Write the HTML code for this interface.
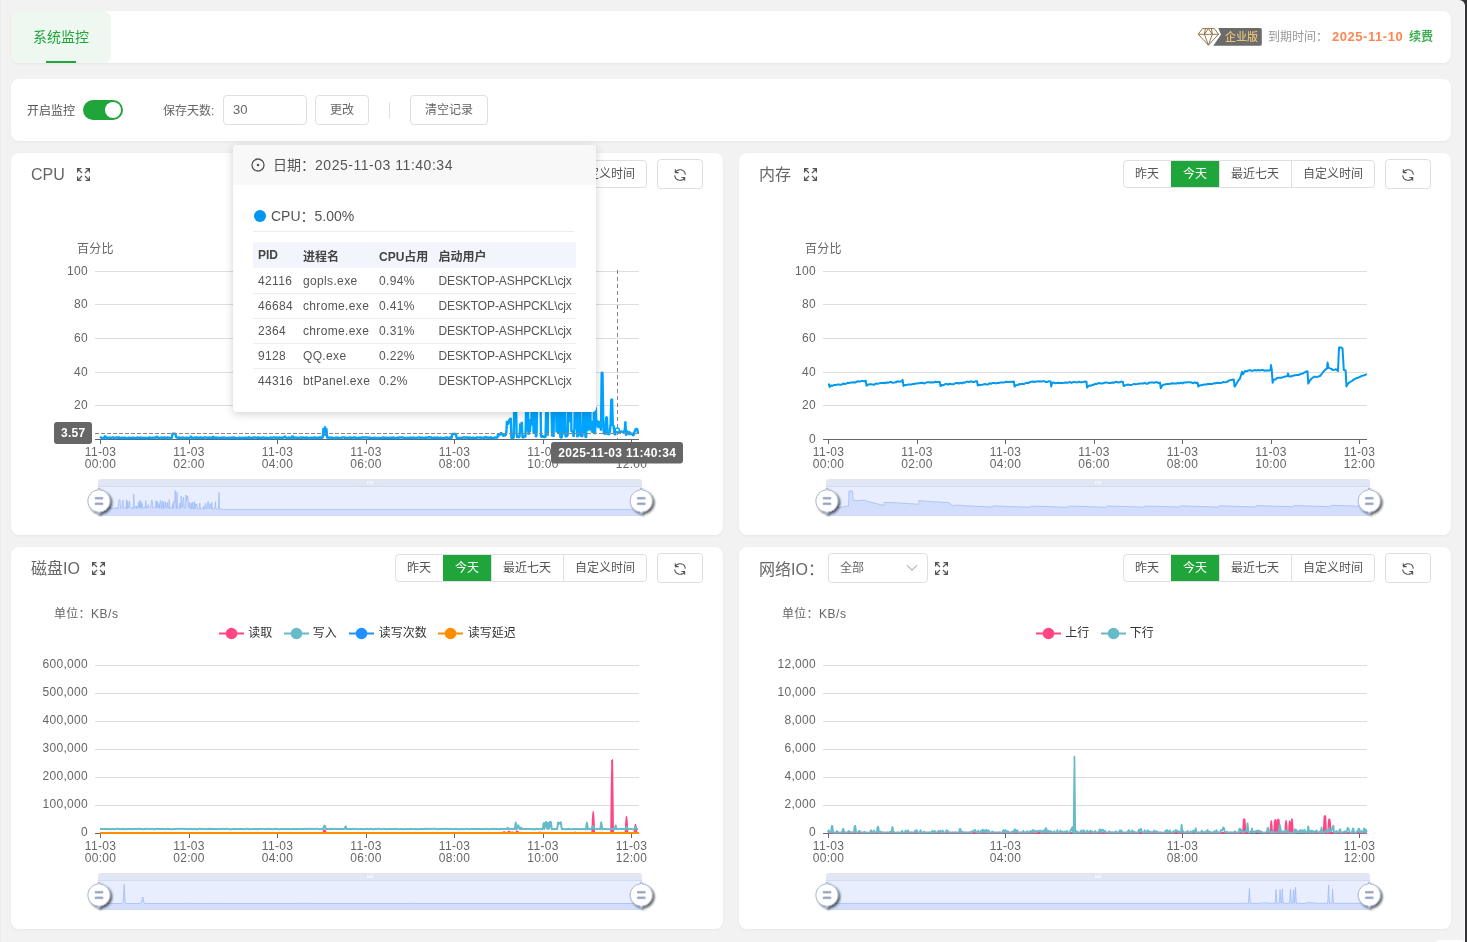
<!DOCTYPE html>
<html lang="zh-CN">
<head>
<meta charset="utf-8">
<title>系统监控</title>
<style>
*{box-sizing:border-box;}
html,body{margin:0;padding:0;}
body{width:1467px;height:942px;overflow:hidden;background:#323337;font-family:"Liberation Sans","Noto Sans CJK SC",sans-serif;font-size:12px;color:#666;position:relative;}
#page{position:absolute;left:0;top:0;width:1465px;height:942px;background:#f2f2f2;border-right:1px solid #fbfbfb;border-top-right-radius:6px;overflow:hidden;}
#ledge{position:absolute;left:0;top:0;width:1px;height:942px;background:#ececec;}
.card{position:absolute;background:#fff;border-radius:8px;box-shadow:0 1px 3px rgba(0,0,0,.05);}
.abs{position:absolute;white-space:nowrap;}
#tab{position:absolute;left:0;top:0;width:100px;height:52px;background:#eef8f0;border-radius:8px;color:#20a53a;font-size:14px;line-height:52px;text-align:center;}
#tab i{position:absolute;left:35px;bottom:0;width:30px;height:2px;background:#20a53a;}
.btn{position:absolute;height:30px;border:1px solid #dcdfe6;border-radius:4px;background:#fff;color:#666;font-size:12px;line-height:29px;text-align:center;}
.grp{position:absolute;height:28px;border:1px solid #dcdfe6;border-radius:4px;background:#fff;overflow:hidden;}
.grp span{position:absolute;top:0;height:26px;line-height:27px;text-align:center;font-size:12px;color:#555;border-left:1px solid #dcdfe6;}
.grp span:first-child{border-left:none;}
.grp span.on{background:#20a53a;color:#fff;border-left-color:#20a53a;top:-1px;height:28px;line-height:29px;}
.title{position:absolute;font-size:16px;color:#666;line-height:20px;white-space:nowrap;}
svg{position:absolute;left:0;top:0;overflow:visible;}
svg text{font-family:"Liberation Sans","Noto Sans CJK SC",sans-serif;font-size:12px;fill:#666;letter-spacing:0.3px;}
#tip{position:absolute;left:233px;top:145px;width:363px;height:267px;background:#fff;border-radius:4px;box-shadow:0 2px 10px rgba(0,0,0,.18);overflow:hidden;color:#555;}
#tip .hd{position:absolute;left:0;top:0;width:100%;height:40px;background:#f8f8f8;}
#tip table{position:absolute;left:20px;top:97px;width:323px;border-collapse:collapse;font-size:12px;color:#555;table-layout:fixed;}
#tip th{background:#f2f5fc;height:26px;font-weight:bold;text-align:left;padding:0 0 0 5px;color:#444;white-space:nowrap;}
#tip td{white-space:nowrap;height:25px;border-bottom:1px solid #ebeef5;padding:0 0 0 5px;}
#tip tr:last-child td{border-bottom:none;}
#tip tr:nth-child(2) td{padding-top:2px;}
#tip td{letter-spacing:0.35px;}
</style>
</head>
<body>
<div id="page">
<div id="ledge"></div>
<div class="card" style="left:11px;top:11px;width:1440px;height:52px;"><div id="tab">系统监控<i></i></div></div>
<svg width="70" height="22" style="left:1196px;top:26px" viewBox="1196 26 70 22"><path d="M1218.2 28H1260.3Q1261.8 28 1261.8 29.5V44.2Q1261.8 45.7 1260.3 45.7H1213.3L1221 34.6Z" fill="#6b6b69"/><g fill="none" stroke="#8c6f45" stroke-width="0.95" stroke-linejoin="round"><path d="M1202.4 28.6H1214.4L1218.5 34.3L1208.4 45.2L1198.3 34.3Z"/><path d="M1198.3 34.3H1218.5M1205.4 28.6L1204.4 34.3L1208.4 45.2L1212.4 34.3L1211.4 28.6M1204.4 34.3L1208.4 28.6L1212.4 34.3"/></g><text x="1241.4" y="41" text-anchor="middle" style="font-size:11px;font-weight:500;letter-spacing:0;fill:#e6c17d;">企业版</text></svg>
<div class="abs" style="left:1268px;top:29px;line-height:16px;color:#999;font-size:12px;">到期时间：</div>
<div class="abs" id="expd" style="left:1332px;top:29px;line-height:16px;color:#ff8650;font-size:13px;font-weight:bold;letter-spacing:0.55px;">2025-11-10</div>
<div class="abs" style="left:1409px;top:29px;line-height:16px;color:#3eb052;font-size:12px;font-weight:bold;">续费</div>
<div class="card" style="left:11px;top:79px;width:1440px;height:62px;"></div>
<div class="abs" style="left:27px;top:103px;line-height:16px;color:#555;">开启监控</div>
<div style="position:absolute;left:83px;top:100px;width:40px;height:20px;border-radius:10px;background:#20a53a;"><div style="position:absolute;right:2px;top:2px;width:16px;height:16px;border-radius:8px;background:#fff;"></div></div>
<div class="abs" style="left:163px;top:103px;line-height:16px;color:#666;">保存天数:</div>
<div class="btn" style="left:223px;top:95px;width:84px;text-align:left;padding-left:9px;color:#666;font-size:13px;line-height:28px;">30</div>
<div class="btn" style="left:315px;top:95px;width:54px;">更改</div>
<div style="position:absolute;left:389px;top:102px;width:1px;height:16px;background:#dcdfe6;"></div>
<div class="btn" style="left:410px;top:95px;width:78px;">清空记录</div>
<div class="card" style="left:11px;top:153px;width:712px;height:382px;"></div>
<div class="grp" style="left:395px;top:160px;width:252px;"><span style="left:-1px;width:48px;">昨天</span><span class="on" style="left:47px;width:49px;padding-right:2px;">今天</span><span style="left:95px;width:71px;">最近七天</span><span style="left:167px;width:83px;">自定义时间</span></div>
<div class="btn" style="left:657px;top:159px;width:46px;"></div><svg width="16" height="16" style="left:672px;top:167px" viewBox="-8 -8 16 16" fill="none" stroke="#555" stroke-width="1.05"><path d="M-4.7 -2.4A5.3 5.3 0 0 1 5.3 -0.4M-4.7 -5.8V-2.4H-1.4"/><path d="M4.7 2.4A5.3 5.3 0 0 1 -5.3 0.4M4.7 5.8V2.4H1.4"/></svg>
<div class="card" style="left:739px;top:153px;width:712px;height:382px;"></div>
<div class="grp" style="left:1123px;top:160px;width:252px;"><span style="left:-1px;width:48px;">昨天</span><span class="on" style="left:47px;width:49px;padding-right:2px;">今天</span><span style="left:95px;width:71px;">最近七天</span><span style="left:167px;width:83px;">自定义时间</span></div>
<div class="btn" style="left:1385px;top:159px;width:46px;"></div><svg width="16" height="16" style="left:1400px;top:167px" viewBox="-8 -8 16 16" fill="none" stroke="#555" stroke-width="1.05"><path d="M-4.7 -2.4A5.3 5.3 0 0 1 5.3 -0.4M-4.7 -5.8V-2.4H-1.4"/><path d="M4.7 2.4A5.3 5.3 0 0 1 -5.3 0.4M4.7 5.8V2.4H1.4"/></svg>
<div class="card" style="left:11px;top:547px;width:712px;height:382px;"></div>
<div class="grp" style="left:395px;top:554px;width:252px;"><span style="left:-1px;width:48px;">昨天</span><span class="on" style="left:47px;width:49px;padding-right:2px;">今天</span><span style="left:95px;width:71px;">最近七天</span><span style="left:167px;width:83px;">自定义时间</span></div>
<div class="btn" style="left:657px;top:553px;width:46px;"></div><svg width="16" height="16" style="left:672px;top:561px" viewBox="-8 -8 16 16" fill="none" stroke="#555" stroke-width="1.05"><path d="M-4.7 -2.4A5.3 5.3 0 0 1 5.3 -0.4M-4.7 -5.8V-2.4H-1.4"/><path d="M4.7 2.4A5.3 5.3 0 0 1 -5.3 0.4M4.7 5.8V2.4H1.4"/></svg>
<div class="card" style="left:739px;top:547px;width:712px;height:382px;"></div>
<div class="grp" style="left:1123px;top:554px;width:252px;"><span style="left:-1px;width:48px;">昨天</span><span class="on" style="left:47px;width:49px;padding-right:2px;">今天</span><span style="left:95px;width:71px;">最近七天</span><span style="left:167px;width:83px;">自定义时间</span></div>
<div class="btn" style="left:1385px;top:553px;width:46px;"></div><svg width="16" height="16" style="left:1400px;top:561px" viewBox="-8 -8 16 16" fill="none" stroke="#555" stroke-width="1.05"><path d="M-4.7 -2.4A5.3 5.3 0 0 1 5.3 -0.4M-4.7 -5.8V-2.4H-1.4"/><path d="M4.7 2.4A5.3 5.3 0 0 1 -5.3 0.4M4.7 5.8V2.4H1.4"/></svg>
<div class="title" style="left:31px;top:165px;">CPU</div>
<svg width="13" height="13" style="left:77px;top:167.5px" viewBox="0 0 13 13" fill="none" stroke="#555" stroke-width="1.2"><path d="M0.6 4.4V0.6H4.4M0.8 0.8L5 5"/><path d="M8.6 0.6H12.4V4.4M12.2 0.8L8 5"/><path d="M0.6 8.6V12.4H4.4M0.8 12.2L5 8"/><path d="M12.4 8.6V12.4H8.6M12.2 12.2L8 8"/></svg>
<div class="title" style="left:759px;top:165px;">内存</div>
<svg width="13" height="13" style="left:804px;top:167.5px" viewBox="0 0 13 13" fill="none" stroke="#555" stroke-width="1.2"><path d="M0.6 4.4V0.6H4.4M0.8 0.8L5 5"/><path d="M8.6 0.6H12.4V4.4M12.2 0.8L8 5"/><path d="M0.6 8.6V12.4H4.4M0.8 12.2L5 8"/><path d="M12.4 8.6V12.4H8.6M12.2 12.2L8 8"/></svg>
<div class="title" style="left:31px;top:559px;">磁盘IO</div>
<svg width="13" height="13" style="left:91.7px;top:561.5px" viewBox="0 0 13 13" fill="none" stroke="#555" stroke-width="1.2"><path d="M0.6 4.4V0.6H4.4M0.8 0.8L5 5"/><path d="M8.6 0.6H12.4V4.4M12.2 0.8L8 5"/><path d="M0.6 8.6V12.4H4.4M0.8 12.2L5 8"/><path d="M12.4 8.6V12.4H8.6M12.2 12.2L8 8"/></svg>
<div class="title" style="left:759px;top:560px;">网络IO：</div>
<div class="btn" style="left:828px;top:553px;width:100px;text-align:left;padding-left:11px;line-height:29px;color:#666;">全部</div>
<svg width="12" height="8" style="left:906px;top:564px" viewBox="0 0 12 8" fill="none" stroke="#b0b3ba" stroke-width="1.1"><path d="M1 1.2L6 6.2L11 1.2"/></svg>
<svg width="13" height="13" style="left:935px;top:561.5px" viewBox="0 0 13 13" fill="none" stroke="#555" stroke-width="1.2"><path d="M0.6 4.4V0.6H4.4M0.8 0.8L5 5"/><path d="M8.6 0.6H12.4V4.4M12.2 0.8L8 5"/><path d="M0.6 8.6V12.4H4.4M0.8 12.2L5 8"/><path d="M12.4 8.6V12.4H8.6M12.2 12.2L8 8"/></svg>
<svg width="1465" height="942" viewBox="0 0 1465 942">
<defs><filter id="hs" x="-50%" y="-50%" width="200%" height="200%"><feDropShadow dx="1.6" dy="1.6" stdDeviation="1.1" flood-color="#000" flood-opacity="0.6"/></filter><linearGradient id="cpug" x1="0" y1="0" x2="0" y2="1"><stop offset="0" stop-color="#00a4ff" stop-opacity="0.9"/><stop offset="1" stop-color="#00a4ff" stop-opacity="0.9"/></linearGradient><clipPath id="cd"><rect x="95" y="600" width="546" height="233.8"/></clipPath><clipPath id="cn"><rect x="823" y="600" width="546" height="233.8"/></clipPath></defs>
<text x="88" y="442.7" text-anchor="end">0</text>
<path d="M95 405.5H639" stroke="#dedede" stroke-width="1"/>
<text x="88" y="408.7" text-anchor="end">20</text>
<path d="M95 372.5H639" stroke="#dedede" stroke-width="1"/>
<text x="88" y="375.7" text-anchor="end">40</text>
<path d="M95 338.5H639" stroke="#dedede" stroke-width="1"/>
<text x="88" y="341.7" text-anchor="end">60</text>
<path d="M95 304.5H639" stroke="#dedede" stroke-width="1"/>
<text x="88" y="307.7" text-anchor="end">80</text>
<path d="M95 271.5H639" stroke="#dedede" stroke-width="1"/>
<text x="88" y="274.7" text-anchor="end">100</text>
<path d="M95 439.5H639" stroke="#666" stroke-width="1"/>
<path d="M100.5 439.5V444" stroke="#666" stroke-width="1"/>
<text x="100.5" y="456" text-anchor="middle">11-03</text>
<text x="100.5" y="468" text-anchor="middle">00:00</text>
<path d="M189.5 439.5V444" stroke="#666" stroke-width="1"/>
<text x="189" y="456" text-anchor="middle">11-03</text>
<text x="189" y="468" text-anchor="middle">02:00</text>
<path d="M277.5 439.5V444" stroke="#666" stroke-width="1"/>
<text x="277.5" y="456" text-anchor="middle">11-03</text>
<text x="277.5" y="468" text-anchor="middle">04:00</text>
<path d="M366.5 439.5V444" stroke="#666" stroke-width="1"/>
<text x="366" y="456" text-anchor="middle">11-03</text>
<text x="366" y="468" text-anchor="middle">06:00</text>
<path d="M454.5 439.5V444" stroke="#666" stroke-width="1"/>
<text x="454.5" y="456" text-anchor="middle">11-03</text>
<text x="454.5" y="468" text-anchor="middle">08:00</text>
<path d="M543.5 439.5V444" stroke="#666" stroke-width="1"/>
<text x="543" y="456" text-anchor="middle">11-03</text>
<text x="543" y="468" text-anchor="middle">10:00</text>
<path d="M631.5 439.5V444" stroke="#666" stroke-width="1"/>
<text x="631.5" y="456" text-anchor="middle">11-03</text>
<text x="631.5" y="468" text-anchor="middle">12:00</text>
<text x="77" y="252.5">百分比</text>
<polyline points="100,437.8 100.7,437.4 101.5,437.8 102.2,438.1 103,437.7 103.7,438.2 104.4,438.2 105.2,435.6 105.9,437.4 106.7,437.7 107.4,438.2 108.1,438.2 108.9,437.1 109.6,437.8 110.4,437.8 111.1,437.8 111.8,437.8 112.6,437.3 113.3,437.5 114.1,438 114.8,438 115.5,437.5 116.3,437.5 117,437.4 117.8,438.2 118.5,437.4 119.2,437.3 120,438.2 120.7,437.5 121.5,438.2 122.2,437.4 122.9,438.1 123.7,438.2 124.4,437.5 125.2,437.7 125.9,438.1 126.6,438.1 127.4,438.1 128.1,438 128.9,437.3 129.6,438 130.3,438 131.1,437.5 131.8,438.2 132.6,438 133.3,437.5 134,438 134.8,438.2 135.5,438 136.3,437.9 137,437.4 137.7,437.7 138.5,438.1 139.2,437.4 140,438 140.7,437.6 141.4,438.1 142.2,437.4 142.9,437.9 143.7,438.2 144.4,438 145.1,438 145.9,437.7 146.6,438.1 147.4,438.2 148.1,437.7 148.8,437.7 149.6,437.4 150.3,438.2 151.1,437.8 151.8,438.1 152.5,437.7 153.3,437.9 154,437.3 154.8,437.6 155.5,438.1 156.2,437.4 157,436.1 157.7,437.8 158.5,437.9 159.2,438.2 159.9,437.6 160.7,437.6 161.4,437.5 162.2,437.9 162.9,437.4 163.6,437.9 164.4,437.4 165.1,437.7 165.9,437.7 166.6,438.2 167.3,437.3 168.1,437.6 168.8,437.6 169.6,437.8 170.3,438.2 171,438.2 171.8,437.8 172.5,433.6 173.3,433.6 174,433.6 174.7,433.6 175.5,433.6 176.2,437.6 177,437.4 177.7,437.6 178.4,437.8 179.2,437.4 179.9,437.9 180.7,438 181.4,437.8 182.1,437.5 182.9,437.4 183.6,438.1 184.4,438 185.1,437.9 185.8,437.8 186.6,437.5 187.3,437.8 188.1,438.2 188.8,438.2 189.5,437.7 190.3,437.2 191,436.2 191.8,438 192.5,438.2 193.2,437.8 194,437.6 194.7,437.4 195.5,438.1 196.2,437.1 196.9,437.6 197.7,438 198.4,437.6 199.2,437.7 199.9,437.9 200.6,437.4 201.4,437.4 202.1,438.1 202.9,437.7 203.6,437.9 204.3,437.4 205.1,437.4 205.8,437.6 206.6,437.6 207.3,437.7 208,438 208.8,437.3 209.5,437.7 210.3,437.9 211,437.5 211.7,438.2 212.5,437.7 213.2,436.2 214,438.2 214.7,438.1 215.4,437.5 216.2,438.1 216.9,437.6 217.7,437.6 218.4,437.8 219.1,438.2 219.9,437.8 220.6,437.6 221.4,437.8 222.1,437.7 222.8,437.9 223.6,437.4 224.3,437.5 225.1,437.8 225.8,438.1 226.5,437.8 227.3,438.2 228,437.8 228.8,437.5 229.5,437.8 230.2,438.2 231,437.9 231.7,437.4 232.5,437.8 233.2,437.8 233.9,437.4 234.7,438 235.4,437.7 236.2,438.1 236.9,438.2 237.6,438 238.4,437.9 239.1,437.7 239.9,437.6 240.6,437.8 241.3,438.1 242.1,437.8 242.8,437.9 243.6,438.1 244.3,437.7 245,437.8 245.8,437.7 246.5,438 247.3,437.5 248,438 248.7,437.4 249.5,437.3 250.2,438.1 251,437.6 251.7,438.2 252.4,437.9 253.2,438.1 253.9,437.2 254.7,437.6 255.4,437.3 256.1,437.8 256.9,437.8 257.6,438.1 258.4,437 259.1,437.8 259.8,438.1 260.6,438.1 261.3,437.3 262.1,438.2 262.8,437.4 263.5,437.5 264.3,437.8 265,437.8 265.8,438.2 266.5,437.5 267.2,437.8 268,437.9 268.7,438.1 269.5,438.2 270.2,437.5 270.9,437.4 271.7,437.9 272.4,437.8 273.2,437.5 273.9,437.4 274.6,437.5 275.4,437.9 276.1,437.4 276.9,437.5 277.6,437.9 278.3,438.2 279.1,437.1 279.8,437.7 280.6,438 281.3,437.6 282,437.6 282.8,437.8 283.5,437.3 284.3,437.6 285,436.1 285.7,437.6 286.5,437.9 287.2,438.1 288,438.2 288.7,437.4 289.4,437.8 290.2,437.7 290.9,437.7 291.7,438.2 292.4,435.7 293.1,438.1 293.9,438.1 294.6,437.7 295.4,437.4 296.1,437.8 296.8,437.9 297.6,437.6 298.3,438 299.1,437.5 299.8,438.2 300.5,437.5 301.3,437.4 302,438.2 302.8,437.4 303.5,437.4 304.2,437.8 305,438 305.7,437.4 306.5,437.8 307.2,437.5 307.9,438.1 308.7,437.8 309.4,438.2 310.2,438.1 310.9,437.6 311.6,438 312.4,437.9 313.1,437.8 313.9,437.4 314.6,438 315.3,437.4 316.1,437.7 316.8,438 317.6,437.7 318.3,437.7 319,438.1 319.8,437.3 320.5,437.3 321.3,438 322,437.7 322.7,437.7 323.5,428 324.2,435.6 325,426.4 325.7,436 326.4,428.4 327.2,438.2 327.9,437.5 328.7,437.5 329.4,437.9 330.1,437.5 330.9,437.6 331.6,437.9 332.4,437.6 333.1,437.8 333.8,438.2 334.6,438.2 335.3,437.7 336.1,437.6 336.8,437.5 337.5,438 338.3,438.2 339,437.6 339.8,438 340.5,437.9 341.2,437.9 342,437.6 342.7,437.4 343.5,437.4 344.2,437.5 344.9,438 345.7,437.4 346.4,438 347.2,437.9 347.9,437.9 348.6,438.1 349.4,437.5 350.1,437.5 350.9,438.1 351.6,437.4 352.3,438.2 353.1,437.7 353.8,437.4 354.6,437.5 355.3,437.7 356,438.2 356.8,437.6 357.5,438.2 358.3,438.1 359,437.6 359.7,438 360.5,437.8 361.2,437.9 362,437.3 362.7,437.8 363.4,437.6 364.2,437.4 364.9,437.5 365.7,437.5 366.4,437.5 367.1,437.4 367.9,437.8 368.6,437.5 369.4,437.9 370.1,437.6 370.8,437.9 371.6,438.1 372.3,438 373.1,438.2 373.8,438.1 374.5,437.5 375.3,438.2 376,437.7 376.8,438.2 377.5,438.1 378.2,438 379,437.7 379.7,438.1 380.5,438.1 381.2,438 381.9,437.5 382.7,438 383.4,437.4 384.2,437.7 384.9,437.8 385.6,438.2 386.4,437.5 387.1,437.8 387.9,438 388.6,437.6 389.3,438.2 390.1,437.9 390.8,437.6 391.6,438.1 392.3,437.9 393,437.4 393.8,437.7 394.5,438 395.3,438.1 396,438.2 396.7,437.5 397.5,438.2 398.2,437.6 399,437.8 399.7,437.4 400.4,437.5 401.2,437.5 401.9,437.4 402.7,437.5 403.4,437.7 404.1,438.1 404.9,438 405.6,438.2 406.4,437.8 407.1,437.9 407.8,438.1 408.6,437.8 409.3,437.5 410.1,438.2 410.8,437.6 411.5,437.7 412.3,438.2 413,437.5 413.8,437.7 414.5,437.9 415.2,438 416,437.9 416.7,438 417.5,437.6 418.2,437.4 418.9,437.6 419.7,437.5 420.4,438.1 421.2,437.6 421.9,438.1 422.6,437.5 423.4,438.2 424.1,438.1 424.9,437.9 425.6,437.4 426.3,437.8 427.1,437.5 427.8,437.9 428.6,437.1 429.3,437.6 430,437.5 430.8,437 431.5,437.9 432.3,438.1 433,437.8 433.7,437.5 434.5,438.1 435.2,437.4 436,437.9 436.7,438.1 437.4,437.3 438.2,437.6 438.9,438.1 439.7,437.7 440.4,438.2 441.1,437.7 441.9,437.9 442.6,437.9 443.4,438.1 444.1,438.1 444.8,437.7 445.6,437.7 446.3,437.4 447.1,437.5 447.8,438.1 448.5,438 449.3,438 450,437.5 450.8,437.7 451.5,438.2 452.2,434 453,434 453.7,434 454.5,434 455.2,434 455.9,434 456.7,437.9 457.4,438.1 458.2,438 458.9,437.9 459.6,438.2 460.4,438.1 461.1,437.7 461.9,437.9 462.6,437.6 463.3,437.5 464.1,437.3 464.8,437.5 465.6,437.8 466.3,437.4 467,437.8 467.8,437.4 468.5,438.2 469.3,437.4 470,437.7 470.7,438 471.5,438.2 472.2,437.8 473,437.9 473.7,437.6 474.4,438 475.2,437.9 475.9,438.2 476.7,437.4 477.4,437.4 478.1,437.5 478.9,437.6 479.6,437.4 480.4,437.5 481.1,437.7 481.8,438.2 482.6,438 483.3,438.2 484.1,437.5 484.8,437.9 485.5,436.4 486.3,438 487,437.4 487.8,437.8 488.5,438 489.2,437.4 490,437.5 490.7,437.8 491.5,437.4 492.2,438.1 492.9,438.1 493.7,438.2 494.4,437.6 495.2,437.4 495.9,437.6 496.6,437.6 497.4,437.8 498.1,433.5 498.9,435.5 499.6,434.9 500.3,434 501.1,432.6 501.8,433.8 502.6,434.6 503.3,436.3 504,435.4 504.8,435.3 505.5,435.3 506.3,432.7 507,420.9 507.7,424.7 508.5,422.5 509.2,420.4 510,419.5 510.7,417.9 511.4,438.1 512.2,438.1 512.9,438 513.7,437.5 514.4,394.6 515.1,370.7 515.9,397.3 516.6,433.9 517.4,437.8 518.1,436.5 518.8,437.6 519.6,436.3 520.3,423.4 521.1,429.7 521.8,421.8 522.5,437.8 523.3,437.4 524,435.9 524.8,436.8 525.5,436.5 526.2,403.9 527,431.5 527.7,393.3 528.5,434.8 529.2,431.7 529.9,431.4 530.7,419.2 531.4,425.3 532.2,358.9 532.9,373.7 533.6,433.7 534.4,432 535.1,404.1 535.9,437.3 536.6,434.4 537.3,385.7 538.1,359.9 538.8,388.2 539.6,388 540.3,383.6 541,436.4 541.8,436.9 542.5,436.1 543.3,436.2 544,437.2 544.7,437 545.5,437.2 546.2,407.2 547,346.5 547.7,435.8 548.4,353.3 549.2,381.5 549.9,387.8 550.7,383.1 551.4,393.5 552.1,436.4 552.9,364.1 553.6,437.1 554.4,371.4 555.1,407.3 555.8,392 556.6,432.5 557.3,348.6 558.1,434.2 558.8,352.6 559.5,400.1 560.3,437 561,437.5 561.8,437.6 562.5,377.2 563.2,373 564,434.7 564.7,364.4 565.5,436.3 566.2,436.5 566.9,436 567.7,434.9 568.4,404.7 569.2,421.6 569.9,420.6 570.6,353.2 571.4,431 572.1,431.6 572.9,430.6 573.6,436.9 574.3,430.9 575.1,394 575.8,429.5 576.6,368.4 577.3,437.2 578,435.3 578.8,387.7 579.5,384.9 580.3,435.3 581,435.9 581.7,436.1 582.5,436.2 583.2,377.6 584,432.9 584.7,394.2 585.4,437.2 586.2,437 586.9,395.9 587.7,430.9 588.4,366.8 589.1,430.4 589.9,362.5 590.6,430.5 591.4,420.9 592.1,432.1 592.8,432.1 593.6,431.5 594.3,359.7 595.1,434.3 595.8,407.3 596.5,426.4 597.3,420 598,426.9 598.8,427.4 599.5,421.1 600.2,424 601,430.7 601.7,372.6 602.5,372.6 603.2,418.8 603.9,434.3 604.7,428.9 605.4,434.8 606.2,417.2 606.9,417.2 607.6,434.1 608.4,434 609.1,434.8 609.9,431.4 610.6,423.9 611.3,399.5 612.1,399.5 612.8,425.6 613.6,425.6 614.3,432.8 615,435.2 615.8,432 616.5,430.6 617.3,430.6 618,430.6 618.7,430.9 619.5,433.2 620.2,431.3 621,431.6 621.7,431.3 622.4,432.5 623.2,431.7 623.9,431.7 624.7,430.6 625.4,421.4 626.1,435.8 626.9,430.6 627.6,433.9 628.4,431.1 629.1,434.9 629.8,432.1 630.6,433.7 631.3,434.3 632.1,432.7 632.8,435.3 633.5,435.3 634.3,432.7 635,430.6 635.8,428.9 636.5,428.9 637.2,428.9 638,433.3" fill="none" stroke="#00a4ff" stroke-width="2.4" stroke-linejoin="bevel"/>
<path d="M617.5 270V439" stroke="#888" stroke-width="1" stroke-dasharray="4 3" fill="none"/>
<path d="M95 433.5H639" stroke="#888" stroke-width="1" stroke-dasharray="4 2" fill="none"/>
<circle cx="617.3" cy="430" r="2.1" fill="#fff" stroke="#00a4ff" stroke-width="1.5"/>
<rect x="54" y="422" width="38" height="22" rx="3" fill="#666"/>
<text x="73.2" y="436.7" text-anchor="middle" style="fill:#fff;font-weight:bold;">3.57</text>
<rect x="551" y="442" width="132" height="21.5" rx="3" fill="#666"/>
<text id="aplab" x="617.2" y="456.8" text-anchor="middle" style="fill:#fff;font-weight:bold;letter-spacing:0.35px;">2025-11-03 11:40:34</text>
<path d="M98 486V482Q98 479 101 479H639Q642 479 642 482V486Z" fill="#e0e6f4"/>
<rect x="98.5" y="486.5" width="543" height="29" fill="#e8eefd" stroke="#d3dbef" stroke-width="1"/>
<polygon points="99,515 99,509.5 99.6,509.5 100.2,509.5 100.8,509.5 101.4,509.5 102,509.5 102.6,509.5 103.2,509.5 103.8,509.5 104.4,507.8 105,507.6 105.6,507.5 106.2,507.3 106.8,507.6 107.4,507.3 108,508.8 108.6,508.1 109.2,507.3 109.8,507.8 110.4,507.4 111,508.6 111.6,508 112.2,508.4 112.8,507.9 113.4,507.9 114,508.8 114.6,508.5 115.2,508.4 115.8,507.3 116.4,507.6 117,508.5 117.6,507.5 118.2,508.6 118.8,500.4 119.4,499.6 120,499.8 120.6,507.9 121.2,508.5 121.8,507.7 122.4,504 123,500 123.6,508.3 124.2,508.8 124.8,508.3 125.4,507.5 126,508.3 126.6,499.7 127.2,508.8 127.8,501 128.4,508.2 129,505.2 129.6,501.2 130.2,507.3 130.8,508.2 131.4,508 132,508.6 132.6,507.5 133.2,508.7 133.8,494 134.4,507.8 135,508.3 135.6,507.9 136.2,506 136.8,508.6 137.4,506.2 138,507.2 138.6,502.3 139.2,507.5 139.8,500.1 140.4,508.7 141,501.4 141.6,507.3 142.2,503.5 142.8,508.6 143.4,508.3 144,507.2 144.6,507.2 145.2,508 145.8,500.5 146.4,508.6 147,507.2 147.6,507.8 148.2,504.6 148.8,507.5 149.4,508.2 150,507.6 150.6,507.7 151.2,503.1 151.8,499.9 152.4,502 153,508.1 153.6,507.5 154.2,507.6 154.8,507.5 155.4,507.2 156,500.6 156.6,508 157.2,501 157.8,507.7 158.4,507.6 159,503.4 159.6,508.4 160.2,500.2 160.8,500.6 161.4,508.7 162,502.7 162.6,501.2 163.2,508.6 163.8,501.6 164.4,508.3 165,507.5 165.6,501.8 166.2,507.9 166.8,507.8 167.4,502.5 168,508.6 168.6,508.2 169.2,499.7 169.8,508.2 170.4,507.3 171,508.4 171.6,508 172.2,508.3 172.8,503.2 173.4,508.6 174,501 174.6,502.8 175.2,490.5 175.8,504.6 176.4,508.6 177,492 177.6,508 178.2,507.8 178.8,508.6 179.4,508.3 180,502.8 180.6,508.1 181.2,496 181.8,503.3 182.4,507.3 183,501.1 183.6,497 184.2,507.7 184.8,508 185.4,508.2 186,495 186.6,500.6 187.2,496 187.8,496 188.4,503.2 189,507.9 189.6,502.4 190.2,506.4 190.8,509 191.4,502.9 192,508.7 192.6,502.1 193.2,509 193.8,508.8 194.4,501.6 195,509 195.6,503.6 196.2,505.3 196.8,504 197.4,509 198,509 198.6,509 199.2,509 199.8,503.1 200.4,509 201,509 201.6,509 202.2,509 202.8,509 203.4,506.4 204,509 204.6,509 205.2,503.3 205.8,503.8 206.4,509 207,509 207.6,502.9 208.2,501.3 208.8,507.2 209.4,508.7 210,503.6 210.6,505.7 211.2,509 211.8,502.2 212.4,509 213,509 213.6,509 214.2,509 214.8,507.8 215.4,501.8 216,509 216.6,509 217.2,509 217.8,508.9 218.4,509 219,492.5 219.6,509 220.2,509 220.8,509 221.4,509 222,509 222.6,509.5 223.2,509.5 223.8,509.5 224.4,509.5 225,509.5 225.6,509.5 226.2,509.5 226.8,509.5 227.4,509.5 228,509.5 228.6,509.5 229.2,509.5 229.8,509.5 230.4,509.5 231,509.5 231.6,509.5 232.2,509.5 232.8,509.5 233.4,509.5 234,509.5 234.6,509.5 235.2,509.5 235.8,509.5 236.4,509.5 237,509.5 237.6,509.5 238.2,509.5 238.8,509.5 239.4,509.5 240,509.5 240.6,509.5 241.2,509.5 241.8,509.5 242.4,509.5 243,509.5 243.6,509.5 244.2,509.5 244.8,509.5 245.4,509.5 246,509.5 246.6,509.5 247.2,509.5 247.8,509.5 248.4,509.5 249,509.5 249.6,509.5 250.2,509.5 250.8,509.5 251.4,509.5 252,509.5 252.6,509.5 253.2,509.5 253.8,509.5 254.4,509.5 255,509.5 255.6,509.5 256.2,509.5 256.8,509.5 257.4,509.5 258,509.5 258.6,509.5 259.2,509.5 259.8,509.5 260.4,509.5 261,509.5 261.6,509.5 262.2,509.5 262.8,509.5 263.4,509.5 264,509.5 264.6,509.5 265.2,509.5 265.8,509.5 266.4,509.5 267,509.5 267.6,509.5 268.2,509.5 268.8,509.5 269.4,509.5 270,509.5 270.6,509.5 271.2,509.5 271.8,509.5 272.4,509.5 273,509.5 273.6,509.5 274.2,509.5 274.8,509.5 275.4,509.5 276,509.5 276.6,509.5 277.2,509.5 277.8,509.5 278.4,509.5 279,509.5 279.6,509.5 280.2,509.5 280.8,509.5 281.4,509.5 282,509.5 282.6,509.5 283.2,509.5 283.8,509.5 284.4,509.5 285,509.5 285.6,509.5 286.2,509.5 286.8,509.5 287.4,509.5 288,509.5 288.6,509.5 289.2,509.5 289.8,509.5 290.4,509.5 291,509.5 291.6,509.5 292.2,509.5 292.8,509.5 293.4,509.5 294,509.5 294.6,509.5 295.2,509.5 295.8,509.5 296.4,509.5 297,509.5 297.6,509.5 298.2,509.5 298.8,509.5 299.4,509.5 300,509.5 300.6,509.5 301.2,509.5 301.8,509.5 302.4,509.5 303,509.5 303.6,509.5 304.2,509.5 304.8,509.5 305.4,509.5 306,509.5 306.6,509.5 307.2,509.5 307.8,509.5 308.4,509.5 309,509.5 309.6,509.5 310.2,509.5 310.8,509.5 311.4,509.5 312,509.5 312.6,509.5 313.2,509.5 313.8,509.5 314.4,509.5 315,509.5 315.6,509.5 316.2,509.5 316.8,509.5 317.4,509.5 318,509.5 318.6,509.5 319.2,509.5 319.8,509.5 320.4,509.5 321,509.5 321.6,509.5 322.2,509.5 322.8,509.5 323.4,509.5 324,509.5 324.6,509.5 325.2,509.5 325.8,509.5 326.4,509.5 327,509.5 327.6,509.5 328.2,509.5 328.8,509.5 329.4,509.5 330,509.5 330.6,509.5 331.2,509.5 331.8,509.5 332.4,509.5 333,509.5 333.6,509.5 334.2,509.5 334.8,509.5 335.4,509.5 336,509.5 336.6,509.5 337.2,509.5 337.8,509.5 338.4,509.5 339,509.5 339.6,509.5 340.2,509.5 340.8,509.5 341.4,509.5 342,509.5 342.6,509.5 343.2,509.5 343.8,509.5 344.4,509.5 345,509.5 345.6,509.5 346.2,509.5 346.8,509.5 347.4,509.5 348,509.5 348.6,509.5 349.2,509.5 349.8,509.5 350.4,509.5 351,509.5 351.6,509.5 352.2,509.5 352.8,509.5 353.4,509.5 354,509.5 354.6,509.5 355.2,509.5 355.8,509.5 356.4,509.5 357,509.5 357.6,509.5 358.2,509.5 358.8,509.5 359.4,509.5 360,509.5 360.6,509.5 361.2,509.5 361.8,509.5 362.4,509.5 363,509.5 363.6,509.5 364.2,509.5 364.8,509.5 365.4,509.5 366,509.5 366.6,509.5 367.2,509.5 367.8,509.5 368.4,509.5 369,509.5 369.6,509.5 370.2,509.5 370.8,509.5 371.4,509.5 372,509.5 372.6,509.5 373.2,509.5 373.8,509.5 374.4,509.5 375,509.5 375.6,509.5 376.2,509.5 376.8,509.5 377.4,509.5 378,509.5 378.6,509.5 379.2,509.5 379.8,509.5 380.4,509.5 381,509.5 381.6,509.5 382.2,509.5 382.8,509.5 383.4,509.5 384,509.5 384.6,509.5 385.2,509.5 385.8,509.5 386.4,509.5 387,509.5 387.6,509.5 388.2,509.5 388.8,509.5 389.4,509.5 390,509.5 390.6,509.5 391.2,509.5 391.8,509.5 392.4,509.5 393,509.5 393.6,509.5 394.2,509.5 394.8,509.5 395.4,509.5 396,509.5 396.6,509.5 397.2,509.5 397.8,509.5 398.4,509.5 399,509.5 399.6,509.5 400.2,509.5 400.8,509.5 401.4,509.5 402,509.5 402.6,509.5 403.2,509.5 403.8,509.5 404.4,509.5 405,509.5 405.6,509.5 406.2,509.5 406.8,509.5 407.4,509.5 408,509.5 408.6,509.5 409.2,509.5 409.8,509.5 410.4,509.5 411,509.5 411.6,509.5 412.2,509.5 412.8,509.5 413.4,509.5 414,509.5 414.6,509.5 415.2,509.5 415.8,509.5 416.4,509.5 417,509.5 417.6,509.5 418.2,509.5 418.8,509.5 419.4,509.5 420,509.5 420.6,509.5 421.2,509.5 421.8,509.5 422.4,509.5 423,509.5 423.6,509.5 424.2,509.5 424.8,509.5 425.4,509.5 426,509.5 426.6,509.5 427.2,509.5 427.8,509.5 428.4,509.5 429,509.5 429.6,509.5 430.2,509.5 430.8,509.5 431.4,509.5 432,509.5 432.6,509.5 433.2,509.5 433.8,509.5 434.4,509.5 435,509.5 435.6,509.5 436.2,509.5 436.8,509.5 437.4,509.5 438,509.5 438.6,509.5 439.2,509.5 439.8,509.5 440.4,509.5 441,509.5 441.6,509.5 442.2,509.5 442.8,509.5 443.4,509.5 444,509.5 444.6,509.5 445.2,509.5 445.8,509.5 446.4,509.5 447,509.5 447.6,509.5 448.2,509.5 448.8,509.5 449.4,509.5 450,509.5 450.6,509.5 451.2,509.5 451.8,509.5 452.4,509.5 453,509.5 453.6,509.5 454.2,509.5 454.8,509.5 455.4,509.5 456,509.5 456.6,509.5 457.2,509.5 457.8,509.5 458.4,509.5 459,509.5 459.6,509.5 460.2,509.5 460.8,509.5 461.4,509.5 462,509.5 462.6,509.5 463.2,509.5 463.8,509.5 464.4,509.5 465,509.5 465.6,509.5 466.2,509.5 466.8,509.5 467.4,509.5 468,509.5 468.6,509.5 469.2,509.5 469.8,509.5 470.4,509.5 471,509.5 471.6,509.5 472.2,509.5 472.8,509.5 473.4,509.5 474,509.5 474.6,509.5 475.2,509.5 475.8,509.5 476.4,509.5 477,509.5 477.6,509.5 478.2,509.5 478.8,509.5 479.4,509.5 480,509.5 480.6,509.5 481.2,509.5 481.8,509.5 482.4,509.5 483,509.5 483.6,509.5 484.2,509.5 484.8,509.5 485.4,509.5 486,509.5 486.6,509.5 487.2,509.5 487.8,509.5 488.4,509.5 489,509.5 489.6,509.5 490.2,509.5 490.8,509.5 491.4,509.5 492,509.5 492.6,509.5 493.2,509.5 493.8,509.5 494.4,509.5 495,509.5 495.6,509.5 496.2,509.5 496.8,509.5 497.4,509.5 498,509.5 498.6,509.5 499.2,509.5 499.8,509.5 500.4,509.5 501,509.5 501.6,509.5 502.2,509.5 502.8,509.5 503.4,509.5 504,509.5 504.6,509.5 505.2,509.5 505.8,509.5 506.4,509.5 507,509.5 507.6,509.5 508.2,509.5 508.8,509.5 509.4,509.5 510,509.5 510.6,509.5 511.2,509.5 511.8,509.5 512.4,509.5 513,509.5 513.6,509.5 514.2,509.5 514.8,509.5 515.4,509.5 516,509.5 516.6,509.5 517.2,509.5 517.8,509.5 518.4,509.5 519,509.5 519.6,509.5 520.2,509.5 520.8,509.5 521.4,509.5 522,509.5 522.6,509.5 523.2,509.5 523.8,509.5 524.4,509.5 525,509.5 525.6,509.5 526.2,509.5 526.8,509.5 527.4,509.5 528,509.5 528.6,509.5 529.2,509.5 529.8,509.5 530.4,509.5 531,509.5 531.6,509.5 532.2,509.5 532.8,509.5 533.4,509.5 534,509.5 534.6,509.5 535.2,509.5 535.8,509.5 536.4,509.5 537,509.5 537.6,509.5 538.2,509.5 538.8,509.5 539.4,509.5 540,509.5 540.6,509.5 541.2,509.5 541.8,509.5 542.4,509.5 543,509.5 543.6,509.5 544.2,509.5 544.8,509.5 545.4,509.5 546,509.5 546.6,509.5 547.2,509.5 547.8,509.5 548.4,509.5 549,509.5 549.6,509.5 550.2,509.5 550.8,509.5 551.4,509.5 552,509.5 552.6,509.5 553.2,509.5 553.8,509.5 554.4,509.5 555,509.5 555.6,509.5 556.2,509.5 556.8,509.5 557.4,509.5 558,509.5 558.6,509.5 559.2,509.5 559.8,509.5 560.4,509.5 561,509.5 561.6,509.5 562.2,509.5 562.8,509.5 563.4,509.5 564,509.5 564.6,509.5 565.2,509.5 565.8,509.5 566.4,509.5 567,509.5 567.6,509.5 568.2,509.5 568.8,509.5 569.4,509.5 570,509.5 570.6,509.5 571.2,509.5 571.8,509.5 572.4,509.5 573,509.5 573.6,509.5 574.2,509.5 574.8,509.5 575.4,509.5 576,509.5 576.6,509.5 577.2,509.5 577.8,509.5 578.4,509.5 579,509.5 579.6,509.5 580.2,509.5 580.8,509.5 581.4,509.5 582,509.5 582.6,509.5 583.2,509.5 583.8,509.5 584.4,509.5 585,509.5 585.6,509.5 586.2,509.5 586.8,509.5 587.4,509.5 588,509.5 588.6,509.5 589.2,509.5 589.8,509.5 590.4,509.5 591,509.5 591.6,509.5 592.2,509.5 592.8,509.5 593.4,509.5 594,509.5 594.6,509.5 595.2,509.5 595.8,509.5 596.4,509.5 597,509.5 597.6,509.5 598.2,509.5 598.8,509.5 599.4,509.5 600,509.5 600.6,509.5 601.2,509.5 601.8,509.5 602.4,509.5 603,509.5 603.6,509.5 604.2,509.5 604.8,509.5 605.4,509.5 606,509.5 606.6,509.5 607.2,509.5 607.8,509.5 608.4,509.5 609,509.5 609.6,509.5 610.2,509.5 610.8,509.5 611.4,509.5 612,509.5 612.6,509.5 613.2,509.5 613.8,509.5 614.4,509.5 615,509.5 615.6,509.5 616.2,509.5 616.8,509.5 617.4,509.5 618,509.5 618.6,509.5 619.2,509.5 619.8,509.5 620.4,509.5 621,509.5 621.6,509.5 622.2,509.5 622.8,509.5 623.4,509.5 624,509.5 624.6,509.5 625.2,509.5 625.8,509.5 626.4,509.5 627,509.5 627.6,509.5 628.2,509.5 628.8,509.5 629.4,509.5 630,509.5 630.6,509.5 631.2,509.5 631.8,509.5 632.4,509.5 633,509.5 633.6,509.5 634.2,509.5 634.8,509.5 635.4,509.5 636,509.5 636.6,509.5 637.2,509.5 637.8,509.5 638.4,509.5 639,509.5 639.6,509.5 640.2,509.5 640.8,509.5 641,515" fill="#8fb0f7" fill-opacity="0.25"/>
<polyline points="99,509.5 99.6,509.5 100.2,509.5 100.8,509.5 101.4,509.5 102,509.5 102.6,509.5 103.2,509.5 103.8,509.5 104.4,507.8 105,507.6 105.6,507.5 106.2,507.3 106.8,507.6 107.4,507.3 108,508.8 108.6,508.1 109.2,507.3 109.8,507.8 110.4,507.4 111,508.6 111.6,508 112.2,508.4 112.8,507.9 113.4,507.9 114,508.8 114.6,508.5 115.2,508.4 115.8,507.3 116.4,507.6 117,508.5 117.6,507.5 118.2,508.6 118.8,500.4 119.4,499.6 120,499.8 120.6,507.9 121.2,508.5 121.8,507.7 122.4,504 123,500 123.6,508.3 124.2,508.8 124.8,508.3 125.4,507.5 126,508.3 126.6,499.7 127.2,508.8 127.8,501 128.4,508.2 129,505.2 129.6,501.2 130.2,507.3 130.8,508.2 131.4,508 132,508.6 132.6,507.5 133.2,508.7 133.8,494 134.4,507.8 135,508.3 135.6,507.9 136.2,506 136.8,508.6 137.4,506.2 138,507.2 138.6,502.3 139.2,507.5 139.8,500.1 140.4,508.7 141,501.4 141.6,507.3 142.2,503.5 142.8,508.6 143.4,508.3 144,507.2 144.6,507.2 145.2,508 145.8,500.5 146.4,508.6 147,507.2 147.6,507.8 148.2,504.6 148.8,507.5 149.4,508.2 150,507.6 150.6,507.7 151.2,503.1 151.8,499.9 152.4,502 153,508.1 153.6,507.5 154.2,507.6 154.8,507.5 155.4,507.2 156,500.6 156.6,508 157.2,501 157.8,507.7 158.4,507.6 159,503.4 159.6,508.4 160.2,500.2 160.8,500.6 161.4,508.7 162,502.7 162.6,501.2 163.2,508.6 163.8,501.6 164.4,508.3 165,507.5 165.6,501.8 166.2,507.9 166.8,507.8 167.4,502.5 168,508.6 168.6,508.2 169.2,499.7 169.8,508.2 170.4,507.3 171,508.4 171.6,508 172.2,508.3 172.8,503.2 173.4,508.6 174,501 174.6,502.8 175.2,490.5 175.8,504.6 176.4,508.6 177,492 177.6,508 178.2,507.8 178.8,508.6 179.4,508.3 180,502.8 180.6,508.1 181.2,496 181.8,503.3 182.4,507.3 183,501.1 183.6,497 184.2,507.7 184.8,508 185.4,508.2 186,495 186.6,500.6 187.2,496 187.8,496 188.4,503.2 189,507.9 189.6,502.4 190.2,506.4 190.8,509 191.4,502.9 192,508.7 192.6,502.1 193.2,509 193.8,508.8 194.4,501.6 195,509 195.6,503.6 196.2,505.3 196.8,504 197.4,509 198,509 198.6,509 199.2,509 199.8,503.1 200.4,509 201,509 201.6,509 202.2,509 202.8,509 203.4,506.4 204,509 204.6,509 205.2,503.3 205.8,503.8 206.4,509 207,509 207.6,502.9 208.2,501.3 208.8,507.2 209.4,508.7 210,503.6 210.6,505.7 211.2,509 211.8,502.2 212.4,509 213,509 213.6,509 214.2,509 214.8,507.8 215.4,501.8 216,509 216.6,509 217.2,509 217.8,508.9 218.4,509 219,492.5 219.6,509 220.2,509 220.8,509 221.4,509 222,509 222.6,509.5 223.2,509.5 223.8,509.5 224.4,509.5 225,509.5 225.6,509.5 226.2,509.5 226.8,509.5 227.4,509.5 228,509.5 228.6,509.5 229.2,509.5 229.8,509.5 230.4,509.5 231,509.5 231.6,509.5 232.2,509.5 232.8,509.5 233.4,509.5 234,509.5 234.6,509.5 235.2,509.5 235.8,509.5 236.4,509.5 237,509.5 237.6,509.5 238.2,509.5 238.8,509.5 239.4,509.5 240,509.5 240.6,509.5 241.2,509.5 241.8,509.5 242.4,509.5 243,509.5 243.6,509.5 244.2,509.5 244.8,509.5 245.4,509.5 246,509.5 246.6,509.5 247.2,509.5 247.8,509.5 248.4,509.5 249,509.5 249.6,509.5 250.2,509.5 250.8,509.5 251.4,509.5 252,509.5 252.6,509.5 253.2,509.5 253.8,509.5 254.4,509.5 255,509.5 255.6,509.5 256.2,509.5 256.8,509.5 257.4,509.5 258,509.5 258.6,509.5 259.2,509.5 259.8,509.5 260.4,509.5 261,509.5 261.6,509.5 262.2,509.5 262.8,509.5 263.4,509.5 264,509.5 264.6,509.5 265.2,509.5 265.8,509.5 266.4,509.5 267,509.5 267.6,509.5 268.2,509.5 268.8,509.5 269.4,509.5 270,509.5 270.6,509.5 271.2,509.5 271.8,509.5 272.4,509.5 273,509.5 273.6,509.5 274.2,509.5 274.8,509.5 275.4,509.5 276,509.5 276.6,509.5 277.2,509.5 277.8,509.5 278.4,509.5 279,509.5 279.6,509.5 280.2,509.5 280.8,509.5 281.4,509.5 282,509.5 282.6,509.5 283.2,509.5 283.8,509.5 284.4,509.5 285,509.5 285.6,509.5 286.2,509.5 286.8,509.5 287.4,509.5 288,509.5 288.6,509.5 289.2,509.5 289.8,509.5 290.4,509.5 291,509.5 291.6,509.5 292.2,509.5 292.8,509.5 293.4,509.5 294,509.5 294.6,509.5 295.2,509.5 295.8,509.5 296.4,509.5 297,509.5 297.6,509.5 298.2,509.5 298.8,509.5 299.4,509.5 300,509.5 300.6,509.5 301.2,509.5 301.8,509.5 302.4,509.5 303,509.5 303.6,509.5 304.2,509.5 304.8,509.5 305.4,509.5 306,509.5 306.6,509.5 307.2,509.5 307.8,509.5 308.4,509.5 309,509.5 309.6,509.5 310.2,509.5 310.8,509.5 311.4,509.5 312,509.5 312.6,509.5 313.2,509.5 313.8,509.5 314.4,509.5 315,509.5 315.6,509.5 316.2,509.5 316.8,509.5 317.4,509.5 318,509.5 318.6,509.5 319.2,509.5 319.8,509.5 320.4,509.5 321,509.5 321.6,509.5 322.2,509.5 322.8,509.5 323.4,509.5 324,509.5 324.6,509.5 325.2,509.5 325.8,509.5 326.4,509.5 327,509.5 327.6,509.5 328.2,509.5 328.8,509.5 329.4,509.5 330,509.5 330.6,509.5 331.2,509.5 331.8,509.5 332.4,509.5 333,509.5 333.6,509.5 334.2,509.5 334.8,509.5 335.4,509.5 336,509.5 336.6,509.5 337.2,509.5 337.8,509.5 338.4,509.5 339,509.5 339.6,509.5 340.2,509.5 340.8,509.5 341.4,509.5 342,509.5 342.6,509.5 343.2,509.5 343.8,509.5 344.4,509.5 345,509.5 345.6,509.5 346.2,509.5 346.8,509.5 347.4,509.5 348,509.5 348.6,509.5 349.2,509.5 349.8,509.5 350.4,509.5 351,509.5 351.6,509.5 352.2,509.5 352.8,509.5 353.4,509.5 354,509.5 354.6,509.5 355.2,509.5 355.8,509.5 356.4,509.5 357,509.5 357.6,509.5 358.2,509.5 358.8,509.5 359.4,509.5 360,509.5 360.6,509.5 361.2,509.5 361.8,509.5 362.4,509.5 363,509.5 363.6,509.5 364.2,509.5 364.8,509.5 365.4,509.5 366,509.5 366.6,509.5 367.2,509.5 367.8,509.5 368.4,509.5 369,509.5 369.6,509.5 370.2,509.5 370.8,509.5 371.4,509.5 372,509.5 372.6,509.5 373.2,509.5 373.8,509.5 374.4,509.5 375,509.5 375.6,509.5 376.2,509.5 376.8,509.5 377.4,509.5 378,509.5 378.6,509.5 379.2,509.5 379.8,509.5 380.4,509.5 381,509.5 381.6,509.5 382.2,509.5 382.8,509.5 383.4,509.5 384,509.5 384.6,509.5 385.2,509.5 385.8,509.5 386.4,509.5 387,509.5 387.6,509.5 388.2,509.5 388.8,509.5 389.4,509.5 390,509.5 390.6,509.5 391.2,509.5 391.8,509.5 392.4,509.5 393,509.5 393.6,509.5 394.2,509.5 394.8,509.5 395.4,509.5 396,509.5 396.6,509.5 397.2,509.5 397.8,509.5 398.4,509.5 399,509.5 399.6,509.5 400.2,509.5 400.8,509.5 401.4,509.5 402,509.5 402.6,509.5 403.2,509.5 403.8,509.5 404.4,509.5 405,509.5 405.6,509.5 406.2,509.5 406.8,509.5 407.4,509.5 408,509.5 408.6,509.5 409.2,509.5 409.8,509.5 410.4,509.5 411,509.5 411.6,509.5 412.2,509.5 412.8,509.5 413.4,509.5 414,509.5 414.6,509.5 415.2,509.5 415.8,509.5 416.4,509.5 417,509.5 417.6,509.5 418.2,509.5 418.8,509.5 419.4,509.5 420,509.5 420.6,509.5 421.2,509.5 421.8,509.5 422.4,509.5 423,509.5 423.6,509.5 424.2,509.5 424.8,509.5 425.4,509.5 426,509.5 426.6,509.5 427.2,509.5 427.8,509.5 428.4,509.5 429,509.5 429.6,509.5 430.2,509.5 430.8,509.5 431.4,509.5 432,509.5 432.6,509.5 433.2,509.5 433.8,509.5 434.4,509.5 435,509.5 435.6,509.5 436.2,509.5 436.8,509.5 437.4,509.5 438,509.5 438.6,509.5 439.2,509.5 439.8,509.5 440.4,509.5 441,509.5 441.6,509.5 442.2,509.5 442.8,509.5 443.4,509.5 444,509.5 444.6,509.5 445.2,509.5 445.8,509.5 446.4,509.5 447,509.5 447.6,509.5 448.2,509.5 448.8,509.5 449.4,509.5 450,509.5 450.6,509.5 451.2,509.5 451.8,509.5 452.4,509.5 453,509.5 453.6,509.5 454.2,509.5 454.8,509.5 455.4,509.5 456,509.5 456.6,509.5 457.2,509.5 457.8,509.5 458.4,509.5 459,509.5 459.6,509.5 460.2,509.5 460.8,509.5 461.4,509.5 462,509.5 462.6,509.5 463.2,509.5 463.8,509.5 464.4,509.5 465,509.5 465.6,509.5 466.2,509.5 466.8,509.5 467.4,509.5 468,509.5 468.6,509.5 469.2,509.5 469.8,509.5 470.4,509.5 471,509.5 471.6,509.5 472.2,509.5 472.8,509.5 473.4,509.5 474,509.5 474.6,509.5 475.2,509.5 475.8,509.5 476.4,509.5 477,509.5 477.6,509.5 478.2,509.5 478.8,509.5 479.4,509.5 480,509.5 480.6,509.5 481.2,509.5 481.8,509.5 482.4,509.5 483,509.5 483.6,509.5 484.2,509.5 484.8,509.5 485.4,509.5 486,509.5 486.6,509.5 487.2,509.5 487.8,509.5 488.4,509.5 489,509.5 489.6,509.5 490.2,509.5 490.8,509.5 491.4,509.5 492,509.5 492.6,509.5 493.2,509.5 493.8,509.5 494.4,509.5 495,509.5 495.6,509.5 496.2,509.5 496.8,509.5 497.4,509.5 498,509.5 498.6,509.5 499.2,509.5 499.8,509.5 500.4,509.5 501,509.5 501.6,509.5 502.2,509.5 502.8,509.5 503.4,509.5 504,509.5 504.6,509.5 505.2,509.5 505.8,509.5 506.4,509.5 507,509.5 507.6,509.5 508.2,509.5 508.8,509.5 509.4,509.5 510,509.5 510.6,509.5 511.2,509.5 511.8,509.5 512.4,509.5 513,509.5 513.6,509.5 514.2,509.5 514.8,509.5 515.4,509.5 516,509.5 516.6,509.5 517.2,509.5 517.8,509.5 518.4,509.5 519,509.5 519.6,509.5 520.2,509.5 520.8,509.5 521.4,509.5 522,509.5 522.6,509.5 523.2,509.5 523.8,509.5 524.4,509.5 525,509.5 525.6,509.5 526.2,509.5 526.8,509.5 527.4,509.5 528,509.5 528.6,509.5 529.2,509.5 529.8,509.5 530.4,509.5 531,509.5 531.6,509.5 532.2,509.5 532.8,509.5 533.4,509.5 534,509.5 534.6,509.5 535.2,509.5 535.8,509.5 536.4,509.5 537,509.5 537.6,509.5 538.2,509.5 538.8,509.5 539.4,509.5 540,509.5 540.6,509.5 541.2,509.5 541.8,509.5 542.4,509.5 543,509.5 543.6,509.5 544.2,509.5 544.8,509.5 545.4,509.5 546,509.5 546.6,509.5 547.2,509.5 547.8,509.5 548.4,509.5 549,509.5 549.6,509.5 550.2,509.5 550.8,509.5 551.4,509.5 552,509.5 552.6,509.5 553.2,509.5 553.8,509.5 554.4,509.5 555,509.5 555.6,509.5 556.2,509.5 556.8,509.5 557.4,509.5 558,509.5 558.6,509.5 559.2,509.5 559.8,509.5 560.4,509.5 561,509.5 561.6,509.5 562.2,509.5 562.8,509.5 563.4,509.5 564,509.5 564.6,509.5 565.2,509.5 565.8,509.5 566.4,509.5 567,509.5 567.6,509.5 568.2,509.5 568.8,509.5 569.4,509.5 570,509.5 570.6,509.5 571.2,509.5 571.8,509.5 572.4,509.5 573,509.5 573.6,509.5 574.2,509.5 574.8,509.5 575.4,509.5 576,509.5 576.6,509.5 577.2,509.5 577.8,509.5 578.4,509.5 579,509.5 579.6,509.5 580.2,509.5 580.8,509.5 581.4,509.5 582,509.5 582.6,509.5 583.2,509.5 583.8,509.5 584.4,509.5 585,509.5 585.6,509.5 586.2,509.5 586.8,509.5 587.4,509.5 588,509.5 588.6,509.5 589.2,509.5 589.8,509.5 590.4,509.5 591,509.5 591.6,509.5 592.2,509.5 592.8,509.5 593.4,509.5 594,509.5 594.6,509.5 595.2,509.5 595.8,509.5 596.4,509.5 597,509.5 597.6,509.5 598.2,509.5 598.8,509.5 599.4,509.5 600,509.5 600.6,509.5 601.2,509.5 601.8,509.5 602.4,509.5 603,509.5 603.6,509.5 604.2,509.5 604.8,509.5 605.4,509.5 606,509.5 606.6,509.5 607.2,509.5 607.8,509.5 608.4,509.5 609,509.5 609.6,509.5 610.2,509.5 610.8,509.5 611.4,509.5 612,509.5 612.6,509.5 613.2,509.5 613.8,509.5 614.4,509.5 615,509.5 615.6,509.5 616.2,509.5 616.8,509.5 617.4,509.5 618,509.5 618.6,509.5 619.2,509.5 619.8,509.5 620.4,509.5 621,509.5 621.6,509.5 622.2,509.5 622.8,509.5 623.4,509.5 624,509.5 624.6,509.5 625.2,509.5 625.8,509.5 626.4,509.5 627,509.5 627.6,509.5 628.2,509.5 628.8,509.5 629.4,509.5 630,509.5 630.6,509.5 631.2,509.5 631.8,509.5 632.4,509.5 633,509.5 633.6,509.5 634.2,509.5 634.8,509.5 635.4,509.5 636,509.5 636.6,509.5 637.2,509.5 637.8,509.5 638.4,509.5 639,509.5 639.6,509.5 640.2,509.5 640.8,509.5" fill="none" stroke="#9ab7f8" stroke-width="0.7"/>
<rect x="367.3" y="481.2" width="1" height="2.8" fill="#fff"/>
<rect x="369.5" y="481.2" width="1" height="2.8" fill="#fff"/>
<rect x="371.7" y="481.2" width="1" height="2.8" fill="#fff"/>
<path d="M10.7,11.9v-1.3H9.3v1.3c-4.9,0.3-8.8,4.4-8.8,9.4c0,5,3.9,9.1,8.8,9.4v1.3h1.3v-1.3c4.9-0.3,8.8-4.4,8.8-9.4C19.5,16.3,15.6,12.2,10.7,11.9z M13.3,24.4H6.7V23h6.6V24.4z M13.3,19.6H6.7v-1.4h6.6V19.6z" transform="translate(87.3 476.1) scale(1.17)" fill="#fff" fill-rule="evenodd" stroke="#a3b1cf" stroke-width="0.8" filter="url(#hs)"/>
<path d="M10.7,11.9v-1.3H9.3v1.3c-4.9,0.3-8.8,4.4-8.8,9.4c0,5,3.9,9.1,8.8,9.4v1.3h1.3v-1.3c4.9-0.3,8.8-4.4,8.8-9.4C19.5,16.3,15.6,12.2,10.7,11.9z M13.3,24.4H6.7V23h6.6V24.4z M13.3,19.6H6.7v-1.4h6.6V19.6z" transform="translate(629.6 476.1) scale(1.17)" fill="#fff" fill-rule="evenodd" stroke="#a3b1cf" stroke-width="0.8" filter="url(#hs)"/>
<text x="816" y="442.7" text-anchor="end">0</text>
<path d="M823 405.5H1367" stroke="#dedede" stroke-width="1"/>
<text x="816" y="408.7" text-anchor="end">20</text>
<path d="M823 372.5H1367" stroke="#dedede" stroke-width="1"/>
<text x="816" y="375.7" text-anchor="end">40</text>
<path d="M823 338.5H1367" stroke="#dedede" stroke-width="1"/>
<text x="816" y="341.7" text-anchor="end">60</text>
<path d="M823 304.5H1367" stroke="#dedede" stroke-width="1"/>
<text x="816" y="307.7" text-anchor="end">80</text>
<path d="M823 271.5H1367" stroke="#dedede" stroke-width="1"/>
<text x="816" y="274.7" text-anchor="end">100</text>
<path d="M823 439.5H1367" stroke="#666" stroke-width="1"/>
<path d="M828.5 439.5V444" stroke="#666" stroke-width="1"/>
<text x="828.5" y="456" text-anchor="middle">11-03</text>
<text x="828.5" y="468" text-anchor="middle">00:00</text>
<path d="M917.5 439.5V444" stroke="#666" stroke-width="1"/>
<text x="917" y="456" text-anchor="middle">11-03</text>
<text x="917" y="468" text-anchor="middle">02:00</text>
<path d="M1005.5 439.5V444" stroke="#666" stroke-width="1"/>
<text x="1005.5" y="456" text-anchor="middle">11-03</text>
<text x="1005.5" y="468" text-anchor="middle">04:00</text>
<path d="M1094.5 439.5V444" stroke="#666" stroke-width="1"/>
<text x="1094" y="456" text-anchor="middle">11-03</text>
<text x="1094" y="468" text-anchor="middle">06:00</text>
<path d="M1182.5 439.5V444" stroke="#666" stroke-width="1"/>
<text x="1182.5" y="456" text-anchor="middle">11-03</text>
<text x="1182.5" y="468" text-anchor="middle">08:00</text>
<path d="M1271.5 439.5V444" stroke="#666" stroke-width="1"/>
<text x="1271" y="456" text-anchor="middle">11-03</text>
<text x="1271" y="468" text-anchor="middle">10:00</text>
<path d="M1359.5 439.5V444" stroke="#666" stroke-width="1"/>
<text x="1359.5" y="456" text-anchor="middle">11-03</text>
<text x="1359.5" y="468" text-anchor="middle">12:00</text>
<text x="805" y="252.5">百分比</text>
<polyline points="828.8,383.6 829.6,386.9 831,385.6 832.5,385.7 834,385.1 835.5,385.1 837,384.6 838.5,384.4 840.1,384.8 841.6,384.7 843.1,383.5 844.6,384 846.1,383.8 847.6,382.7 849.1,383.1 850.6,382.4 852.1,382.6 853.6,382.2 855.1,382.6 856.6,381.8 858.2,381.3 859.7,381.5 861.2,381.1 862.7,380.9 864.2,381.4 865.7,380.7 866.5,385.7 868,384.7 869.5,384.3 871.1,384.3 872.6,384.5 874.2,384.7 875.7,383.5 877.3,383.9 878.8,383.4 880.4,383.1 881.9,383.1 883.5,382.7 885,383.2 886.5,382.5 888.1,382.8 889.6,382.1 891.2,382 892.7,382.8 894.3,382.6 895.8,382.3 897.4,381.3 898.9,381.8 900.5,381.4 902,381.4 902.6,379.9 903.5,385.9 905,384.9 906.5,385 908,384.6 909.5,384.6 911,384.5 912.5,384.1 914.1,384 915.6,383.5 917.1,383.6 918.6,383.2 920.1,383.1 921.6,382.8 923.1,383 924.6,383.5 926.1,382.5 927.6,382.3 929.1,382.2 930.6,382.5 932.2,382.2 933.7,382.6 935.2,381.7 936.7,381.9 938.2,382.1 939.7,381.7 940.5,386.1 942,384.9 943.5,385.3 945,384.2 946.6,383.8 948.1,384.7 949.6,383.7 951.1,384 952.7,384.2 954.2,383.9 955.7,383.1 957.2,382.9 958.7,383.7 960.3,382.8 961.8,383.4 963.3,382.4 964.8,382.7 966.3,381.9 967.9,381.6 969.4,382 970.9,381.3 972.4,381.9 974,382 975.5,381.3 977,381.2 977.8,385.6 979,384.7 980.5,385.1 982,384.8 983.5,384.4 985.1,384.1 986.6,384.4 988.1,384.4 989.6,383.3 991.1,383.8 992.6,382.9 994.1,382.9 995.6,383.4 997.2,383.1 998.7,382.9 1000.2,382.6 1001.7,382.5 1003.2,382.4 1004.7,382.2 1006.2,381.7 1007.7,382.1 1009.3,382 1010.8,381.6 1012.3,382 1013.8,381.5 1014.6,386.6 1016,385.2 1017.5,385.1 1019.1,384 1020.6,384.2 1022.2,383.8 1023.7,384.1 1025.3,383.3 1026.8,382.8 1028.4,383.1 1029.9,382.1 1031.5,381.7 1033,381.5 1034.6,382 1036.2,381.4 1037.8,381.5 1039.4,381.3 1041,381.6 1042.6,381.2 1044.2,381.2 1045.8,382 1047.4,381.9 1049,381.2 1050.6,381.4 1051.2,386.4 1052,383.1 1053.5,382.5 1055,383.2 1056.5,382.9 1058,382.7 1059.5,383 1061,382.9 1062.5,382.9 1064,382.7 1065.5,382.4 1067,382.7 1068.5,382.6 1070,382 1071.5,382.9 1073,382.2 1074.5,381.9 1076,382.3 1077.5,382.4 1079,381.6 1080.5,382.3 1082,382.3 1083.5,381.9 1085,381.5 1086.5,381.7 1087,387.6 1089,385.6 1090.6,385.7 1092.1,385.1 1093.7,384.8 1095.3,383.8 1096.9,384 1098.4,383.1 1100,383.2 1101.5,383.5 1103.1,383.2 1104.6,382.8 1106.1,382.4 1107.6,382.8 1109.2,383 1110.7,383 1112.2,382.5 1113.7,382.8 1115.3,382 1116.8,381.8 1118.3,382.5 1119.8,382.3 1121.4,381.6 1122.9,381.9 1123.7,386.1 1125,385.2 1126.5,384.9 1128,384.5 1129.5,384.9 1131,385 1132.5,384.6 1134,383.9 1135.5,384.3 1137,384.1 1138.5,383.8 1140,383.6 1141.5,383.6 1143.1,383.5 1144.6,382.8 1146.2,383.7 1147.7,383.8 1149.2,382.6 1150.8,382.6 1152.3,382.4 1153.8,382.9 1155.4,382.3 1156.9,382.2 1158.5,383 1160,382.6 1160.8,388.3 1162.5,385.2 1164.1,384.6 1165.7,384.2 1167.2,384 1168.8,383.9 1170.4,383.8 1172,383.2 1173.5,383.4 1175,383.5 1176.5,383.6 1178,383 1179.5,383.3 1181,382.6 1182.5,383.5 1184,382.4 1185.6,382.6 1187.1,382.3 1188.6,382.3 1190.1,382.3 1191.6,382.6 1193.1,383.2 1194.6,382.3 1196.1,383 1197.6,382.6 1198.3,386.6 1200,385.2 1201.6,385.3 1203.1,384.7 1204.7,384.6 1206.2,384.6 1207.8,383.8 1209.4,384 1210.9,384.1 1212.5,384 1214.1,383.1 1215.6,383.4 1217.2,382.8 1218.8,383.1 1220.3,383.1 1221.9,382.6 1223.4,382 1225,382.2 1226.8,382.1 1228.5,380.8 1230.3,380.1 1232,379.7 1233.8,379.5 1234.6,386.6 1236.5,383.6 1238.2,380.7 1240,378.5 1242,371.8 1243,374.3 1245,371 1246.7,371.4 1248.3,370.5 1250,370.1 1251.7,370.9 1253.3,370.5 1255,370.1 1256.5,370.4 1258.1,370.1 1259.7,370.2 1261.2,370.2 1262.8,369.8 1264.3,370.7 1265.8,370.6 1267.4,370.6 1269,370.6 1270.5,370.1 1271,365.1 1271.8,370.1 1272.6,382.7 1274,379.4 1275.5,379.4 1277,378 1278.5,377.7 1280,377.7 1281.8,377.7 1283.7,376.8 1285.6,376.6 1287.4,376 1288,373.5 1289,376.5 1290.6,376.4 1292.1,376.1 1293.7,375.4 1295.3,375.2 1296.9,375.1 1298.4,375 1300,374.3 1301.5,373.9 1303,373.5 1304.5,372.4 1306,371.8 1307.5,371.3 1308.3,383.6 1310,380.2 1312,378.3 1314,376.8 1315.5,376.8 1317,376.9 1318.5,376.6 1320,376 1322,373.6 1324,371 1325.5,369.6 1327,368.4 1327.6,362.6 1328.4,367.6 1330,368.4 1331.5,368.9 1333,370.1 1334.5,369.8 1336,369.3 1338,371 1339,347.4 1340.8,347.5 1342.5,348.3 1343.8,370.1 1345.6,370.5 1346.5,386.4 1348,383.6 1349.5,382.4 1351,381.5 1352.5,380.6 1354,379.4 1355.5,378.7 1357,377.9 1358.5,377.6 1360,376.8 1361.7,375.9 1363.4,375.5 1365.1,375 1366.8,374" fill="none" stroke="#0099ee" stroke-width="2" stroke-linejoin="round"/>
<path d="M826 486V482Q826 479 829 479H1367Q1370 479 1370 482V486Z" fill="#e0e6f4"/>
<rect x="826.5" y="486.5" width="543" height="29" fill="#e8eefd" stroke="#d3dbef" stroke-width="1"/>
<polygon points="827,515 827,507.5 839,507.5 845,506.5 848.5,506 849,491 852.5,491 853,500 858,500.8 864,500 866,501 882,505 883.8,505.5 884.3,502.3 900,503 915,504 918.5,504.3 919,500.5 930,501.5 948,502.5 950,503.5 954,506.3 955,505 970,506 992,507 993,505.8 1010,506.6 1030,507.2 1031,506 1060,507 1068,507.3 1069,506 1100,507 1106,507.3 1107,506 1140,507 1144,507.2 1145,506 1180,507 1181,505.8 1215,507 1218,507.2 1219,505.8 1250,506.8 1255,507 1256,505.6 1290,506.6 1293,507 1294,505.5 1325,506.5 1330,507 1331,505.3 1360,506.2 1368,506.5 1369,515" fill="#8fb0f7" fill-opacity="0.25"/>
<polyline points="827,507.5 839,507.5 845,506.5 848.5,506 849,491 852.5,491 853,500 858,500.8 864,500 866,501 882,505 883.8,505.5 884.3,502.3 900,503 915,504 918.5,504.3 919,500.5 930,501.5 948,502.5 950,503.5 954,506.3 955,505 970,506 992,507 993,505.8 1010,506.6 1030,507.2 1031,506 1060,507 1068,507.3 1069,506 1100,507 1106,507.3 1107,506 1140,507 1144,507.2 1145,506 1180,507 1181,505.8 1215,507 1218,507.2 1219,505.8 1250,506.8 1255,507 1256,505.6 1290,506.6 1293,507 1294,505.5 1325,506.5 1330,507 1331,505.3 1360,506.2 1368,506.5" fill="none" stroke="#9ab7f8" stroke-width="0.7"/>
<rect x="1095.3" y="481.2" width="1" height="2.8" fill="#fff"/>
<rect x="1097.5" y="481.2" width="1" height="2.8" fill="#fff"/>
<rect x="1099.7" y="481.2" width="1" height="2.8" fill="#fff"/>
<path d="M10.7,11.9v-1.3H9.3v1.3c-4.9,0.3-8.8,4.4-8.8,9.4c0,5,3.9,9.1,8.8,9.4v1.3h1.3v-1.3c4.9-0.3,8.8-4.4,8.8-9.4C19.5,16.3,15.6,12.2,10.7,11.9z M13.3,24.4H6.7V23h6.6V24.4z M13.3,19.6H6.7v-1.4h6.6V19.6z" transform="translate(815.3 476.1) scale(1.17)" fill="#fff" fill-rule="evenodd" stroke="#a3b1cf" stroke-width="0.8" filter="url(#hs)"/>
<path d="M10.7,11.9v-1.3H9.3v1.3c-4.9,0.3-8.8,4.4-8.8,9.4c0,5,3.9,9.1,8.8,9.4v1.3h1.3v-1.3c4.9-0.3,8.8-4.4,8.8-9.4C19.5,16.3,15.6,12.2,10.7,11.9z M13.3,24.4H6.7V23h6.6V24.4z M13.3,19.6H6.7v-1.4h6.6V19.6z" transform="translate(1357.6 476.1) scale(1.17)" fill="#fff" fill-rule="evenodd" stroke="#a3b1cf" stroke-width="0.8" filter="url(#hs)"/>
<text x="88" y="835.9" text-anchor="end">0</text>
<path d="M95 805.5H639" stroke="#dedede" stroke-width="1"/>
<text x="88" y="807.9" text-anchor="end">100,000</text>
<path d="M95 777.5H639" stroke="#dedede" stroke-width="1"/>
<text x="88" y="779.9" text-anchor="end">200,000</text>
<path d="M95 749.5H639" stroke="#dedede" stroke-width="1"/>
<text x="88" y="751.9" text-anchor="end">300,000</text>
<path d="M95 721.5H639" stroke="#dedede" stroke-width="1"/>
<text x="88" y="723.9" text-anchor="end">400,000</text>
<path d="M95 693.5H639" stroke="#dedede" stroke-width="1"/>
<text x="88" y="695.9" text-anchor="end">500,000</text>
<path d="M95 665.5H639" stroke="#dedede" stroke-width="1"/>
<text x="88" y="667.9" text-anchor="end">600,000</text>
<path d="M95 833.5H639" stroke="#666" stroke-width="1"/>
<path d="M100.5 833.5V838" stroke="#666" stroke-width="1"/>
<text x="100.5" y="850" text-anchor="middle">11-03</text>
<text x="100.5" y="862" text-anchor="middle">00:00</text>
<path d="M189.5 833.5V838" stroke="#666" stroke-width="1"/>
<text x="189" y="850" text-anchor="middle">11-03</text>
<text x="189" y="862" text-anchor="middle">02:00</text>
<path d="M277.5 833.5V838" stroke="#666" stroke-width="1"/>
<text x="277.5" y="850" text-anchor="middle">11-03</text>
<text x="277.5" y="862" text-anchor="middle">04:00</text>
<path d="M366.5 833.5V838" stroke="#666" stroke-width="1"/>
<text x="366" y="850" text-anchor="middle">11-03</text>
<text x="366" y="862" text-anchor="middle">06:00</text>
<path d="M454.5 833.5V838" stroke="#666" stroke-width="1"/>
<text x="454.5" y="850" text-anchor="middle">11-03</text>
<text x="454.5" y="862" text-anchor="middle">08:00</text>
<path d="M543.5 833.5V838" stroke="#666" stroke-width="1"/>
<text x="543" y="850" text-anchor="middle">11-03</text>
<text x="543" y="862" text-anchor="middle">10:00</text>
<path d="M631.5 833.5V838" stroke="#666" stroke-width="1"/>
<text x="631.5" y="850" text-anchor="middle">11-03</text>
<text x="631.5" y="862" text-anchor="middle">12:00</text>
<text x="54" y="618.4">单位：<tspan style="letter-spacing:0.6px">KB/s</tspan></text>
<path d="M219 633.5H244" stroke="#ff4683" stroke-width="2"/>
<circle cx="231.5" cy="633.5" r="5.8" fill="#ff4683"/>
<text x="248.3" y="637.1" style="fill:#333;letter-spacing:0">读取</text>
<path d="M284 633.5H309" stroke="#66bbc9" stroke-width="2"/>
<circle cx="296.5" cy="633.5" r="5.8" fill="#66bbc9"/>
<text x="312.8" y="637.1" style="fill:#333;letter-spacing:0">写入</text>
<path d="M349 633.5H374" stroke="#1e90ff" stroke-width="2"/>
<circle cx="361.5" cy="633.5" r="5.8" fill="#1e90ff"/>
<text x="378.8" y="637.1" style="fill:#333;letter-spacing:0">读写次数</text>
<path d="M438 633.5H463" stroke="#ff8c00" stroke-width="2"/>
<circle cx="450.5" cy="633.5" r="5.8" fill="#ff8c00"/>
<text x="467.8" y="637.1" style="fill:#333;letter-spacing:0">读写延迟</text>
<path d="M100 832.9C100.1 832.9 100.7 832.9 100.9 832.9C101.1 832.9 101.6 832.9 101.8 832.9C102 832.9 102.5 832.9 102.7 832.9C102.9 832.9 103.4 832.9 103.6 832.9C103.8 832.9 104.3 832.9 104.5 832.9C104.7 832.9 105.2 832.9 105.4 832.9C105.6 832.9 106.1 832.9 106.3 832.9C106.5 832.9 107 832.9 107.2 832.9C107.4 832.9 107.9 832.9 108.1 832.9C108.3 832.9 108.8 832.9 109 832.9C109.2 832.9 109.7 832.9 109.9 832.9C110.1 832.9 110.6 832.9 110.8 832.9C111 832.9 111.5 832.9 111.7 832.9C111.9 832.9 112.4 832.9 112.6 832.9C112.8 832.9 113.3 832.9 113.5 832.9C113.7 832.9 114.2 832.9 114.4 832.9C114.6 832.9 115.1 832.9 115.3 832.9C115.5 832.9 116 832.9 116.2 832.9C116.4 832.9 116.9 832.9 117.1 832.9C117.3 832.9 117.8 832.9 118 832.9C118.2 832.9 118.7 832.9 118.9 832.9C119.1 832.9 119.6 832.9 119.8 832.9C120 832.9 120.5 832.9 120.7 832.9C120.9 832.9 121.4 832.9 121.6 832.9C121.8 832.9 122.3 832.9 122.5 832.9C122.7 832.9 123.2 832.9 123.4 832.9C123.6 832.9 124.1 832.9 124.3 832.9C124.5 832.9 125 832.9 125.2 832.9C125.4 832.9 125.9 832.9 126.1 832.9C126.3 832.9 126.8 832.9 127 832.9C127.2 832.9 127.7 832.9 127.9 832.9C128.1 832.9 128.6 832.9 128.8 832.9C129 832.9 129.5 832.9 129.7 832.9C129.9 832.9 130.4 832.9 130.6 832.9C130.8 832.9 131.3 832.9 131.5 832.9C131.7 832.9 132.2 832.9 132.4 832.9C132.6 832.9 133.1 832.9 133.3 832.9C133.5 832.9 134 832.9 134.2 832.9C134.4 832.9 134.9 832.9 135.1 832.9C135.3 832.9 135.8 832.9 136 832.9C136.2 832.9 136.7 832.9 136.9 832.9C137.1 832.9 137.6 832.9 137.8 832.9C138 832.9 138.5 832.9 138.7 832.9C138.9 832.9 139.4 832.9 139.6 832.9C139.8 832.9 140.3 832.9 140.5 832.9C140.7 832.9 141.2 832.9 141.4 832.9C141.6 832.9 142.1 832.9 142.3 832.9C142.5 832.9 143 832.9 143.2 832.9C143.4 832.9 143.9 832.9 144.1 832.9C144.3 832.9 144.8 832.9 145 832.9C145.2 832.9 145.7 832.9 145.9 832.9C146.1 832.9 146.6 832.9 146.8 832.9C147 832.9 147.5 832.9 147.7 832.9C147.9 832.9 148.4 832.9 148.6 832.9C148.8 832.9 149.3 832.9 149.5 832.9C149.7 832.9 150.2 832.9 150.4 832.9C150.6 832.9 151.1 832.9 151.3 832.9C151.5 832.9 152 832.9 152.2 832.9C152.4 832.9 152.9 832.9 153.1 832.9C153.3 832.9 153.8 832.9 154 832.9C154.2 832.9 154.7 832.9 154.9 832.9C155.1 832.9 155.6 832.9 155.8 832.9C156 832.9 156.5 832.9 156.7 832.9C156.9 832.9 157.4 832.9 157.6 832.9C157.8 832.9 158.3 832.9 158.5 832.9C158.7 832.9 159.2 832.9 159.4 832.9C159.6 832.9 160.1 832.9 160.3 832.9C160.5 832.9 161 832.9 161.2 832.9C161.4 832.9 161.9 832.9 162.1 832.9C162.3 832.9 162.8 832.9 163 832.9C163.2 832.9 163.7 832.9 163.9 832.9C164.1 832.9 164.6 832.9 164.8 832.9C165 832.9 165.5 832.9 165.7 832.9C165.9 832.9 166.4 832.9 166.6 832.9C166.8 832.9 167.3 832.9 167.5 832.9C167.7 832.9 168.2 832.9 168.4 832.9C168.6 832.9 169.1 832.9 169.3 832.9C169.5 832.9 170 832.9 170.2 832.9C170.4 832.9 170.9 832.9 171.1 832.9C171.3 832.9 171.8 832.9 172 832.9C172.2 832.9 172.7 832.9 172.9 832.9C173.1 832.9 173.6 832.9 173.8 832.9C174 832.9 174.5 832.9 174.7 832.9C174.9 832.9 175.4 832.9 175.6 832.9C175.8 832.9 176.3 832.9 176.5 832.9C176.7 832.9 177.2 832.9 177.4 832.9C177.6 832.9 178.1 832.9 178.3 832.9C178.5 832.9 179 832.9 179.2 832.9C179.4 832.9 179.9 832.9 180.1 832.9C180.3 832.9 180.8 832.9 181 832.9C181.2 832.9 181.7 832.9 181.9 832.9C182.1 832.9 182.6 832.9 182.8 832.9C183 832.9 183.5 832.9 183.7 832.9C183.9 832.9 184.4 832.9 184.6 832.9C184.8 832.9 185.3 832.9 185.5 832.9C185.7 832.9 186.2 832.9 186.4 832.9C186.6 832.9 187.1 832.9 187.3 832.9C187.5 832.9 188 832.9 188.2 832.9C188.4 832.9 188.9 832.9 189.1 832.9C189.3 832.9 189.8 832.9 190 832.9C190.2 832.9 190.7 832.9 190.9 832.9C191.1 832.9 191.6 832.9 191.8 832.9C192 832.9 192.5 832.9 192.7 832.9C192.9 832.9 193.4 832.9 193.6 832.9C193.8 832.9 194.3 832.9 194.5 832.9C194.7 832.9 195.2 832.9 195.4 832.9C195.6 832.9 196.1 832.9 196.3 832.9C196.5 832.9 197 832.9 197.2 832.9C197.4 832.9 197.9 832.9 198.1 832.9C198.3 832.9 198.8 832.9 199 832.9C199.2 832.9 199.7 832.9 199.9 832.9C200.1 832.9 200.6 832.9 200.8 832.9C201 832.9 201.5 832.9 201.7 832.9C201.9 832.9 202.4 832.9 202.6 832.9C202.8 832.9 203.3 832.9 203.5 832.9C203.7 832.9 204.2 832.9 204.4 832.9C204.6 832.9 205.1 832.9 205.3 832.9C205.5 832.9 206 832.9 206.2 832.9C206.4 832.9 206.9 832.9 207.1 832.9C207.3 832.9 207.8 832.9 208 832.9C208.2 832.9 208.7 832.9 208.9 832.9C209.1 832.9 209.6 832.9 209.8 832.9C210 832.9 210.5 832.9 210.7 832.9C210.9 832.9 211.4 832.9 211.6 832.9C211.8 832.9 212.3 832.9 212.5 832.9C212.7 832.9 213.2 832.9 213.4 832.9C213.6 832.9 214.1 832.9 214.3 832.9C214.5 832.9 215 832.9 215.2 832.9C215.4 832.9 215.9 832.9 216.1 832.9C216.3 832.9 216.8 832.9 217 832.9C217.2 832.9 217.7 832.9 217.9 832.9C218.1 832.9 218.6 832.9 218.8 832.9C219 832.9 219.5 832.9 219.7 832.9C219.9 832.9 220.4 832.9 220.6 832.9C220.8 832.9 221.3 832.9 221.5 832.9C221.7 832.9 222.2 832.9 222.4 832.9C222.6 832.9 223.1 832.9 223.3 832.9C223.5 832.9 224 832.9 224.2 832.9C224.4 832.9 224.9 832.9 225.1 832.9C225.3 832.9 225.8 832.9 226 832.9C226.2 832.9 226.7 832.9 226.9 832.9C227.1 832.9 227.6 832.9 227.8 832.9C228 832.9 228.5 832.9 228.7 832.9C228.9 832.9 229.4 832.9 229.6 832.9C229.8 832.9 230.3 832.9 230.5 832.9C230.7 832.9 231.2 832.9 231.4 832.9C231.6 832.9 232.1 832.9 232.3 832.9C232.5 832.9 233 832.9 233.2 832.9C233.4 832.9 233.9 832.9 234.1 832.9C234.3 832.9 234.8 832.9 235 832.9C235.2 832.9 235.7 832.9 235.9 832.9C236.1 832.9 236.6 832.9 236.8 832.9C237 832.9 237.5 832.9 237.7 832.9C237.9 832.9 238.4 832.9 238.6 832.9C238.8 832.9 239.3 832.9 239.5 832.9C239.7 832.9 240.2 832.9 240.4 832.9C240.6 832.9 241.1 832.9 241.3 832.9C241.5 832.9 242 832.9 242.2 832.9C242.4 832.9 242.9 832.9 243.1 832.9C243.3 832.9 243.8 832.9 244 832.9C244.2 832.9 244.7 832.9 244.9 832.9C245.1 832.9 245.6 832.9 245.8 832.9C246 832.9 246.5 832.9 246.7 832.9C246.9 832.9 247.4 832.9 247.6 832.9C247.8 832.9 248.3 832.9 248.5 832.9C248.7 832.9 249.2 832.9 249.4 832.9C249.6 832.9 250.1 832.9 250.3 832.9C250.5 832.9 251 832.9 251.2 832.9C251.4 832.9 251.9 832.9 252.1 832.9C252.3 832.9 252.8 832.9 253 832.9C253.2 832.9 253.7 832.9 253.9 832.9C254.1 832.9 254.6 832.9 254.8 832.9C255 832.9 255.5 832.9 255.7 832.9C255.9 832.9 256.4 832.9 256.6 832.9C256.8 832.9 257.3 832.9 257.5 832.9C257.7 832.9 258.2 832.9 258.4 832.9C258.6 832.9 259.1 832.9 259.3 832.9C259.5 832.9 260 832.9 260.2 832.9C260.4 832.9 260.9 832.9 261.1 832.9C261.3 832.9 261.8 832.9 262 832.9C262.2 832.9 262.7 832.9 262.9 832.9C263.1 832.9 263.6 832.9 263.8 832.9C264 832.9 264.5 832.9 264.7 832.9C264.9 832.9 265.4 832.9 265.6 832.9C265.8 832.9 266.3 832.9 266.5 832.9C266.7 832.9 267.2 832.9 267.4 832.9C267.6 832.9 268.1 832.9 268.3 832.9C268.5 832.9 269 832.9 269.2 832.9C269.4 832.9 269.9 832.9 270.1 832.9C270.3 832.9 270.8 832.9 271 832.9C271.2 832.9 271.7 832.9 271.9 832.9C272.1 832.9 272.6 832.9 272.8 832.9C273 832.9 273.5 832.9 273.7 832.9C273.9 832.9 274.4 832.9 274.6 832.9C274.8 832.9 275.3 832.9 275.5 832.9C275.7 832.9 276.2 832.9 276.4 832.9C276.6 832.9 277.1 832.9 277.3 832.9C277.5 832.9 278 832.9 278.2 832.9C278.4 832.9 278.9 832.9 279.1 832.9C279.3 832.9 279.8 832.9 280 832.9C280.2 832.9 280.7 832.9 280.9 832.9C281.1 832.9 281.6 832.9 281.8 832.9C282 832.9 282.5 832.9 282.7 832.9C282.9 832.9 283.4 832.9 283.6 832.9C283.8 832.9 284.3 832.9 284.5 832.9C284.7 832.9 285.2 832.9 285.4 832.9C285.6 832.9 286.1 832.9 286.3 832.9C286.5 832.9 287 832.9 287.2 832.9C287.4 832.9 287.9 832.9 288.1 832.9C288.3 832.9 288.8 832.9 289 832.9C289.2 832.9 289.7 832.9 289.9 832.9C290.1 832.9 290.6 832.9 290.8 832.9C291 832.9 291.5 832.9 291.7 832.9C291.9 832.9 292.4 832.9 292.6 832.9C292.8 832.9 293.3 832.9 293.5 832.9C293.7 832.9 294.2 832.9 294.4 832.9C294.6 832.9 295.1 832.9 295.3 832.9C295.5 832.9 296 832.9 296.2 832.9C296.4 832.9 296.9 832.9 297.1 832.9C297.3 832.9 297.8 832.9 298 832.9C298.2 832.9 298.7 832.9 298.9 832.9C299.1 832.9 299.6 832.9 299.8 832.9C300 832.9 300.5 832.9 300.7 832.9C300.9 832.9 301.4 832.9 301.6 832.9C301.8 832.9 302.3 832.9 302.5 832.9C302.7 832.9 303.2 832.9 303.4 832.9C303.6 832.9 304.1 832.9 304.3 832.9C304.5 832.9 305 832.9 305.2 832.9C305.4 832.9 305.9 832.9 306.1 832.9C306.3 832.9 306.8 832.9 307 832.9C307.2 832.9 307.7 832.9 307.9 832.9C308.1 832.9 308.6 832.9 308.8 832.9C309 832.9 309.5 832.9 309.7 832.9C309.9 832.9 310.4 832.9 310.6 832.9C310.8 832.9 311.3 832.9 311.5 832.9C311.7 832.9 312.2 832.9 312.4 832.9C312.6 832.9 313.1 832.9 313.3 832.9C313.5 832.9 314 832.9 314.2 832.9C314.4 832.9 314.9 832.9 315.1 832.9C315.3 832.9 315.8 832.9 316 832.9C316.2 832.9 316.7 832.9 316.9 832.9C317.1 832.9 317.6 832.9 317.8 832.9C318 832.9 318.5 832.9 318.7 832.9C318.9 832.9 319.4 832.9 319.6 832.9C319.8 832.9 320.3 832.9 320.5 832.9C320.7 832.9 321.2 832.9 321.4 832.9C321.6 832.9 322.1 832.9 322.3 832.9C322.5 832.9 323 833.1 323.2 832.9C323.4 832.7 323.9 830.9 324.1 830.6C324.3 830.4 324.8 830.5 325 830.7C325.2 830.9 325.7 832.7 325.9 832.9C326.1 833.2 326.6 832.9 326.8 832.9C327 832.9 327.5 832.9 327.7 832.9C327.9 832.9 328.4 832.9 328.6 832.9C328.8 832.9 329.3 832.9 329.5 832.9C329.7 832.9 330.2 832.9 330.4 832.9C330.6 832.9 331.1 832.9 331.3 832.9C331.5 832.9 332 832.9 332.2 832.9C332.4 832.9 332.9 832.9 333.1 832.9C333.3 832.9 333.8 832.9 334 832.9C334.2 832.9 334.7 832.9 334.9 832.9C335.1 832.9 335.6 832.9 335.8 832.9C336 832.9 336.5 832.9 336.7 832.9C336.9 832.9 337.4 832.9 337.6 832.9C337.8 832.9 338.3 832.9 338.5 832.9C338.7 832.9 339.2 832.9 339.4 832.9C339.6 832.9 340.1 832.9 340.3 832.9C340.5 832.9 341 832.9 341.2 832.9C341.4 832.9 341.9 832.9 342.1 832.9C342.3 832.9 342.8 832.9 343 832.9C343.2 832.9 343.7 832.9 343.9 832.9C344.1 832.9 344.6 832.9 344.8 832.9C345 832.9 345.5 832.9 345.7 832.9C345.9 832.9 346.4 832.9 346.6 832.9C346.8 832.9 347.3 832.9 347.5 832.9C347.7 832.9 348.2 832.9 348.4 832.9C348.6 832.9 349.1 832.9 349.3 832.9C349.5 832.9 350 832.9 350.2 832.9C350.4 832.9 350.9 832.9 351.1 832.9C351.3 832.9 351.8 832.9 352 832.9C352.2 832.9 352.7 832.9 352.9 832.9C353.1 832.9 353.6 832.9 353.8 832.9C354 832.9 354.5 832.9 354.7 832.9C354.9 832.9 355.4 832.9 355.6 832.9C355.8 832.9 356.3 832.9 356.5 832.9C356.7 832.9 357.2 832.9 357.4 832.9C357.6 832.9 358.1 832.9 358.3 832.9C358.5 832.9 359 832.9 359.2 832.9C359.4 832.9 359.9 832.9 360.1 832.9C360.3 832.9 360.8 832.9 361 832.9C361.2 832.9 361.7 832.9 361.9 832.9C362.1 832.9 362.6 832.9 362.8 832.9C363 832.9 363.5 832.9 363.7 832.9C363.9 832.9 364.4 832.9 364.6 832.9C364.8 832.9 365.3 832.9 365.5 832.9C365.7 832.9 366.2 832.9 366.4 832.9C366.6 832.9 367.1 832.9 367.3 832.9C367.5 832.9 368 832.9 368.2 832.9C368.4 832.9 368.9 832.9 369.1 832.9C369.3 832.9 369.8 832.9 370 832.9C370.2 832.9 370.7 832.9 370.9 832.9C371.1 832.9 371.6 832.9 371.8 832.9C372 832.9 372.5 832.9 372.7 832.9C372.9 832.9 373.4 832.9 373.6 832.9C373.8 832.9 374.3 832.9 374.5 832.9C374.7 832.9 375.2 832.9 375.4 832.9C375.6 832.9 376.1 832.9 376.3 832.9C376.5 832.9 377 832.9 377.2 832.9C377.4 832.9 377.9 832.9 378.1 832.9C378.3 832.9 378.8 832.9 379 832.9C379.2 832.9 379.7 832.9 379.9 832.9C380.1 832.9 380.6 832.9 380.8 832.9C381 832.9 381.5 832.9 381.7 832.9C381.9 832.9 382.4 832.9 382.6 832.9C382.8 832.9 383.3 832.9 383.5 832.9C383.7 832.9 384.2 832.9 384.4 832.9C384.6 832.9 385.1 832.9 385.3 832.9C385.5 832.9 386 832.9 386.2 832.9C386.4 832.9 386.9 832.9 387.1 832.9C387.3 832.9 387.8 832.9 388 832.9C388.2 832.9 388.7 832.9 388.9 832.9C389.1 832.9 389.6 832.9 389.8 832.9C390 832.9 390.5 832.9 390.7 832.9C390.9 832.9 391.4 832.9 391.6 832.9C391.8 832.9 392.3 832.9 392.5 832.9C392.7 832.9 393.2 832.9 393.4 832.9C393.6 832.9 394.1 832.9 394.3 832.9C394.5 832.9 395 832.9 395.2 832.9C395.4 832.9 395.9 832.9 396.1 832.9C396.3 832.9 396.8 832.9 397 832.9C397.2 832.9 397.7 832.9 397.9 832.9C398.1 832.9 398.6 832.9 398.8 832.9C399 832.9 399.5 832.9 399.7 832.9C399.9 832.9 400.4 832.9 400.6 832.9C400.8 832.9 401.3 832.9 401.5 832.9C401.7 832.9 402.2 832.9 402.4 832.9C402.6 832.9 403.1 832.9 403.3 832.9C403.5 832.9 404 832.9 404.2 832.9C404.4 832.9 404.9 832.9 405.1 832.9C405.3 832.9 405.8 832.9 406 832.9C406.2 832.9 406.7 832.9 406.9 832.9C407.1 832.9 407.6 832.9 407.8 832.9C408 832.9 408.5 832.9 408.7 832.9C408.9 832.9 409.4 832.9 409.6 832.9C409.8 832.9 410.3 832.9 410.5 832.9C410.7 832.9 411.2 832.9 411.4 832.9C411.6 832.9 412.1 832.9 412.3 832.9C412.5 832.9 413 832.9 413.2 832.9C413.4 832.9 413.9 832.9 414.1 832.9C414.3 832.9 414.8 832.9 415 832.9C415.2 832.9 415.7 832.9 415.9 832.9C416.1 832.9 416.6 832.9 416.8 832.9C417 832.9 417.5 832.9 417.7 832.9C417.9 832.9 418.4 832.9 418.6 832.9C418.8 832.9 419.3 832.9 419.5 832.9C419.7 832.9 420.2 832.9 420.4 832.9C420.6 832.9 421.1 832.9 421.3 832.9C421.5 832.9 422 832.9 422.2 832.9C422.4 832.9 422.9 832.9 423.1 832.9C423.3 832.9 423.8 832.9 424 832.9C424.2 832.9 424.7 832.9 424.9 832.9C425.1 832.9 425.6 832.9 425.8 832.9C426 832.9 426.5 832.9 426.7 832.9C426.9 832.9 427.4 832.9 427.6 832.9C427.8 832.9 428.3 832.9 428.5 832.9C428.7 832.9 429.2 832.9 429.4 832.9C429.6 832.9 430.1 832.9 430.3 832.9C430.5 832.9 431 832.9 431.2 832.9C431.4 832.9 431.9 832.9 432.1 832.9C432.3 832.9 432.8 832.9 433 832.9C433.2 832.9 433.7 832.9 433.9 832.9C434.1 832.9 434.6 832.9 434.8 832.9C435 832.9 435.5 832.9 435.7 832.9C435.9 832.9 436.4 832.9 436.6 832.9C436.8 832.9 437.3 832.9 437.5 832.9C437.7 832.9 438.2 832.9 438.4 832.9C438.6 832.9 439.1 832.9 439.3 832.9C439.5 832.9 440 832.9 440.2 832.9C440.4 832.9 440.9 832.9 441.1 832.9C441.3 832.9 441.8 832.9 442 832.9C442.2 832.9 442.7 832.9 442.9 832.9C443.1 832.9 443.6 832.9 443.8 832.9C444 832.9 444.5 832.9 444.7 832.9C444.9 832.9 445.4 832.9 445.6 832.9C445.8 832.9 446.3 832.9 446.5 832.9C446.7 832.9 447.2 832.9 447.4 832.9C447.6 832.9 448.1 832.9 448.3 832.9C448.5 832.9 449 832.9 449.2 832.9C449.4 832.9 449.9 832.9 450.1 832.9C450.3 832.9 450.8 832.9 451 832.9C451.2 832.9 451.7 832.9 451.9 832.9C452.1 832.9 452.6 832.9 452.8 832.9C453 832.9 453.5 832.9 453.7 832.9C453.9 832.9 454.4 832.9 454.6 832.9C454.8 832.9 455.3 832.9 455.5 832.9C455.7 832.9 456.2 832.9 456.4 832.9C456.6 832.9 457.1 832.9 457.3 832.9C457.5 832.9 458 832.9 458.2 832.9C458.4 832.9 458.9 832.9 459.1 832.9C459.3 832.9 459.8 832.9 460 832.9C460.2 832.9 460.7 832.9 460.9 832.9C461.1 832.9 461.6 832.9 461.8 832.9C462 832.9 462.5 832.9 462.7 832.9C462.9 832.9 463.4 832.9 463.6 832.9C463.8 832.9 464.3 832.9 464.5 832.9C464.7 832.9 465.2 832.9 465.4 832.9C465.6 832.9 466.1 832.9 466.3 832.9C466.5 832.9 467 832.9 467.2 832.9C467.4 832.9 467.9 832.9 468.1 832.9C468.3 832.9 468.8 832.9 469 832.9C469.2 832.9 469.7 832.9 469.9 832.9C470.1 832.9 470.6 832.9 470.8 832.9C471 832.9 471.5 832.9 471.7 832.9C471.9 832.9 472.4 832.9 472.6 832.9C472.8 832.9 473.3 832.9 473.5 832.9C473.7 832.9 474.2 832.9 474.4 832.9C474.6 832.9 475.1 832.9 475.3 832.9C475.5 832.9 476 832.9 476.2 832.9C476.4 832.9 476.9 832.9 477.1 832.9C477.3 832.9 477.8 832.9 478 832.9C478.2 832.9 478.7 832.9 478.9 832.9C479.1 832.9 479.6 832.9 479.8 832.9C480 832.9 480.5 832.9 480.7 832.9C480.9 832.9 481.4 832.9 481.6 832.9C481.8 832.9 482.3 832.9 482.5 832.9C482.7 832.9 483.2 832.9 483.4 832.9C483.6 832.9 484.1 832.9 484.3 832.9C484.5 832.9 485 832.9 485.2 832.9C485.4 832.9 485.9 832.9 486.1 832.9C486.3 832.9 486.8 832.9 487 832.9C487.2 832.9 487.7 832.9 487.9 832.9C488.1 832.9 488.6 832.9 488.8 832.9C489 832.9 489.5 832.9 489.7 832.9C489.9 832.9 490.4 832.9 490.6 832.9C490.8 832.9 491.3 832.9 491.5 832.9C491.7 832.9 492.2 832.9 492.4 832.9C492.6 832.9 493.1 832.9 493.3 832.9C493.5 832.9 494 832.9 494.2 832.9C494.4 832.9 494.9 832.9 495.1 832.9C495.3 832.9 495.8 832.9 496 832.9C496.2 832.9 496.7 832.9 496.9 832.9C497.1 832.9 497.6 832.9 497.8 832.9C498 832.9 498.5 832.9 498.7 832.9C498.9 832.9 499.4 832.9 499.6 832.9C499.8 832.9 500.3 832.9 500.5 832.9C500.7 832.9 501.2 832.9 501.4 832.9C501.6 832.9 502.1 832.9 502.3 832.9C502.5 832.9 503 833 503.2 832.9C503.4 832.8 503.9 832 504.1 832C504.3 832 504.8 832.8 505 832.9C505.2 833 505.7 832.9 505.9 832.9C506.1 832.9 506.6 832.9 506.8 832.9C507 832.9 507.5 833 507.7 832.9C507.9 832.8 508.4 832 508.6 831.8C508.8 831.7 509.3 831.8 509.5 831.9C509.7 832 510.2 832.8 510.4 832.9C510.6 833 511.1 832.9 511.3 832.9C511.5 832.8 512 832.2 512.2 832.2C512.4 832.2 512.9 832.8 513.1 832.9C513.3 833 513.8 832.9 514 832.9C514.2 832.9 514.7 832.9 514.9 832.9C515.1 832.9 515.6 833 515.8 832.9C516 832.7 516.5 831.7 516.7 831.5C516.9 831.4 517.4 831.5 517.6 831.6C517.8 831.8 518.3 832.8 518.5 832.9C518.7 833 519.2 832.9 519.4 832.9C519.6 832.9 520.1 832.9 520.3 832.9C520.5 832.9 521 832.9 521.2 832.9C521.4 832.9 521.9 832.9 522.1 832.9C522.3 832.9 522.8 832.9 523 832.9C523.2 832.9 523.7 832.9 523.9 832.9C524.1 832.9 524.6 832.9 524.8 832.9C525 832.9 525.5 832.9 525.7 832.9C525.9 832.9 526.4 832.9 526.6 832.9C526.8 832.9 527.3 832.9 527.5 832.9C527.7 832.9 528.2 832.9 528.4 832.9C528.6 832.9 529.1 832.9 529.3 832.9C529.5 832.9 530 832.9 530.2 832.9C530.4 832.9 530.9 832.9 531.1 832.9C531.3 832.9 531.8 832.9 532 832.9C532.2 832.9 532.7 832.9 532.9 832.9C533.1 832.9 533.6 832.9 533.8 832.9C534 832.9 534.5 832.9 534.7 832.9C534.9 832.9 535.4 832.9 535.6 832.9C535.8 832.9 536.3 832.9 536.5 832.9C536.7 832.9 537.2 832.9 537.4 832.9C537.6 832.9 538.1 832.9 538.3 832.9C538.5 832.9 539 832.9 539.2 832.9C539.4 832.9 539.9 832.6 540.1 832.6C540.3 832.6 540.8 832.8 541 832.9C541.2 832.9 541.7 832.9 541.9 832.9C542.1 832.9 542.6 832.9 542.8 832.9C543 832.9 543.5 832.9 543.7 832.9C543.9 832.9 544.4 832.9 544.6 832.9C544.8 832.9 545.3 832.9 545.5 832.9C545.7 832.9 546.2 832.9 546.4 832.9C546.6 832.9 547.1 832.9 547.3 832.9C547.5 832.9 548 832.9 548.2 832.9C548.4 832.9 548.9 832.9 549.1 832.9C549.3 832.9 549.8 832.9 550 832.9C550.2 832.9 550.7 832.9 550.9 832.9C551.1 832.9 551.6 832.9 551.8 832.9C552 832.9 552.5 832.9 552.7 832.9C552.9 832.9 553.4 832.9 553.6 832.9C553.8 832.9 554.3 832.9 554.5 832.9C554.7 832.9 555.2 832.9 555.4 832.9C555.6 832.9 556.1 832.9 556.3 832.9C556.5 832.9 557 832.9 557.2 832.9C557.4 832.9 557.9 832.9 558.1 832.9C558.3 832.9 558.8 832.9 559 832.9C559.2 832.9 559.7 832.9 559.9 832.9C560.1 832.9 560.6 832.9 560.8 832.9C561 832.9 561.5 832.9 561.7 832.9C561.9 832.9 562.4 832.9 562.6 832.9C562.8 832.9 563.3 832.9 563.5 832.9C563.7 832.9 564.2 832.9 564.4 832.9C564.6 832.9 565.1 832.9 565.3 832.9C565.5 832.9 566 832.9 566.2 832.9C566.4 832.9 566.9 832.9 567.1 832.9C567.3 832.9 567.8 832.9 568 832.9C568.2 832.9 568.7 832.9 568.9 832.9C569.1 832.9 569.6 832.9 569.8 832.9C570 832.9 570.5 832.9 570.7 832.9C570.9 832.9 571.4 832.9 571.6 832.9C571.8 832.9 572.3 832.9 572.5 832.9C572.7 832.9 573.2 832.9 573.4 832.9C573.6 832.9 574.1 832.9 574.3 832.9C574.5 832.9 575 832.6 575.2 832.6C575.4 832.6 575.9 832.9 576.1 832.9C576.3 833 576.8 832.9 577 832.9C577.2 832.9 577.7 832.9 577.9 832.9C578.1 832.9 578.6 832.9 578.8 832.9C579 832.9 579.5 832.9 579.7 832.9C579.9 832.9 580.4 832.9 580.6 832.9C580.8 832.9 581.3 832.9 581.5 832.9C581.7 832.9 582.2 832.9 582.4 832.9C582.6 832.9 583.1 832.9 583.3 832.9C583.5 832.9 584 832.9 584.2 832.9C584.4 832.9 584.9 832.9 585.1 832.9C585.3 832.9 585.8 832.9 586 832.9C586.2 832.9 586.7 832.9 586.9 832.9C587.1 832.9 587.6 832.9 587.8 832.9C588 832.9 588.5 832.9 588.7 832.9C588.9 832.9 589.4 832.9 589.6 832.9C589.8 832.9 590.3 832.9 590.5 832.9C590.7 832.9 591.2 832.9 591.4 832.9C591.6 832.9 592.1 835 592.3 832.9C592.5 830.8 593 811.8 593.2 811.8C593.4 811.8 593.9 830.8 594.1 832.9C594.3 835 594.8 832.9 595 832.9C595.2 832.9 595.7 832.9 595.9 832.9C596.1 832.9 596.6 832.9 596.8 832.9C597 832.9 597.5 832.9 597.7 832.9C597.9 832.9 598.4 832.9 598.6 832.9C598.8 832.9 599.3 832.9 599.5 832.9C599.7 832.9 600.2 832.9 600.4 832.9C600.6 832.9 601.1 832.9 601.3 832.9C601.5 832.9 602 832.9 602.2 832.9C602.4 832.9 602.9 832.9 603.1 832.9C603.3 832.9 603.8 832.9 604 832.9C604.2 832.9 604.7 832.9 604.9 832.9C605.1 832.9 605.6 832.9 605.8 832.9C606 832.9 606.5 832.9 606.7 832.9C606.9 832.9 607.4 832.9 607.6 832.9C607.8 832.9 608.3 832.9 608.5 832.9C608.7 832.9 609.2 832.9 609.4 832.9C609.6 832.9 610.1 832.9 610.3 832.9C610.5 832.9 611 840.2 611.2 832.9C611.4 825.6 611.9 759.9 612.1 759.9C612.3 759.9 612.8 825.6 613 832.9C613.2 840.2 613.7 832.9 613.9 832.9C614.1 832.9 614.6 832.9 614.8 832.9C615 832.9 615.5 832.9 615.7 832.9C615.9 832.9 616.4 832.9 616.6 832.9C616.8 832.9 617.3 832.9 617.5 832.9C617.7 832.9 618.2 832.9 618.4 832.9C618.6 832.9 619.1 832.9 619.3 832.9C619.5 832.9 620 832.9 620.2 832.9C620.4 832.9 620.9 832.9 621.1 832.9C621.3 832.9 621.8 832.9 622 832.9C622.2 832.9 622.7 832.9 622.9 832.9C623.1 832.9 623.6 832.9 623.8 832.9C624 832.9 624.5 832.9 624.7 832.9C624.9 832.9 625.4 834.5 625.6 832.9C625.8 831.3 626.3 816.7 626.5 816.7C626.7 816.7 627.2 831.3 627.4 832.9C627.6 834.6 628.1 832.9 628.3 832.9C628.5 832.9 629 832.9 629.2 832.9C629.4 832.9 629.9 832.9 630.1 832.9C630.3 832.9 630.8 832.9 631 832.9C631.2 832.9 631.7 832.9 631.9 832.9C632.1 832.9 632.6 832.9 632.8 832.9C633 832.9 633.5 832.9 633.7 832.9C633.9 832.9 634.4 833.7 634.6 832.9C634.8 832.1 635.3 824.8 635.5 824.8C635.7 824.8 636.2 832.1 636.4 832.9C636.6 833.7 637.1 832.9 637.3 832.9C637.5 832.9 638.1 832.9 638.2 832.9" fill="none" stroke="#ff4683" stroke-width="2" stroke-linejoin="round" clip-path="url(#cd)"/>
<path d="M100 829.1C100.1 829.1 100.7 828.9 100.9 828.9C101.1 828.9 101.6 828.9 101.8 828.9C102 828.9 102.5 829 102.7 829C102.9 829 103.4 829.1 103.6 829.1C103.8 829.1 104.3 828.9 104.5 828.9C104.7 828.8 105.2 828.8 105.4 828.9C105.6 828.9 106.1 829 106.3 829C106.5 829 107 829 107.2 829C107.4 829 107.9 829.1 108.1 829.1C108.3 829.1 108.8 829.2 109 829.2C109.2 829.2 109.7 829.1 109.9 829.1C110.1 829 110.6 828.9 110.8 829C111 829 111.5 829.2 111.7 829.2C111.9 829.2 112.4 828.9 112.6 828.9C112.8 828.9 113.3 829.1 113.5 829.1C113.7 829.1 114.2 829.1 114.4 829.1C114.6 829.1 115.1 829.2 115.3 829.2C115.5 829.2 116 828.8 116.2 828.8C116.4 828.7 116.9 828.9 117.1 828.9C117.3 828.9 117.8 828.8 118 828.8C118.2 828.8 118.7 828.9 118.9 828.9C119.1 829 119.6 829.2 119.8 829.2C120 829.2 120.5 829.1 120.7 829.1C120.9 829.1 121.4 829 121.6 829C121.8 829 122.3 829.2 122.5 829.2C122.7 829.1 123.2 828.8 123.4 828.8C123.6 828.8 124.1 829 124.3 829.1C124.5 829.1 125 829.2 125.2 829.2C125.4 829.1 125.9 828.9 126.1 828.9C126.3 828.9 126.8 829.2 127 829.2C127.2 829.2 127.7 828.8 127.9 828.8C128.1 828.8 128.6 829 128.8 829C129 829 129.5 829 129.7 829C129.9 829 130.4 829.1 130.6 829.1C130.8 829.1 131.3 829 131.5 829C131.7 829 132.2 829.1 132.4 829.1C132.6 829.2 133.1 829.2 133.3 829.2C133.5 829.2 134 828.8 134.2 828.8C134.4 828.8 134.9 829.1 135.1 829.1C135.3 829.1 135.8 828.9 136 828.9C136.2 828.9 136.7 829.1 136.9 829.1C137.1 829.1 137.6 828.8 137.8 828.8C138 828.8 138.5 828.8 138.7 828.8C138.9 828.8 139.4 828.9 139.6 828.9C139.8 828.9 140.3 828.9 140.5 828.9C140.7 828.9 141.2 829 141.4 829C141.6 829 142.1 828.9 142.3 828.9C142.5 828.9 143 829.2 143.2 829.2C143.4 829.2 143.9 829 144.1 829C144.3 829 144.8 828.8 145 828.8C145.2 828.9 145.7 829.1 145.9 829.1C146.1 829.1 146.6 828.8 146.8 828.8C147 828.8 147.5 828.8 147.7 828.8C147.9 828.8 148.4 829 148.6 829C148.8 829.1 149.3 829.1 149.5 829.1C149.7 829.1 150.2 829 150.4 829C150.6 829 151.1 829.1 151.3 829C151.5 829 152 828.8 152.2 828.8C152.4 828.8 152.9 829 153.1 829C153.3 829.1 153.8 829.2 154 829.2C154.2 829.2 154.7 829.2 154.9 829.2C155.1 829.1 155.6 828.9 155.8 828.9C156 828.9 156.5 828.8 156.7 828.8C156.9 828.8 157.4 829 157.6 829C157.8 829 158.3 829 158.5 829C158.7 829 159.2 829 159.4 829C159.6 829 160.1 828.9 160.3 828.9C160.5 828.9 161 829.1 161.2 829.1C161.4 829.1 161.9 829 162.1 828.9C162.3 828.9 162.8 829 163 829C163.2 829 163.7 828.9 163.9 828.9C164.1 829 164.6 829.1 164.8 829.1C165 829.2 165.5 829.2 165.7 829.1C165.9 829.1 166.4 829.1 166.6 829.1C166.8 829 167.3 828.8 167.5 828.8C167.7 828.8 168.2 829 168.4 829.1C168.6 829.1 169.1 829 169.3 829C169.5 829 170 829.1 170.2 829.1C170.4 829.1 170.9 829.2 171.1 829.2C171.3 829.2 171.8 829.2 172 829.2C172.2 829.2 172.7 828.9 172.9 828.9C173.1 828.8 173.6 828.9 173.8 828.9C174 828.9 174.5 829 174.7 829.1C174.9 829.1 175.4 828.9 175.6 828.9C175.8 828.9 176.3 828.9 176.5 828.9C176.7 828.9 177.2 828.8 177.4 828.8C177.6 828.8 178.1 828.8 178.3 828.8C178.5 828.8 179 829 179.2 829C179.4 829 179.9 828.8 180.1 828.8C180.3 828.8 180.8 828.8 181 828.8C181.2 828.8 181.7 829 181.9 829C182.1 829 182.6 828.8 182.8 828.8C183 828.8 183.5 829 183.7 829C183.9 829 184.4 829 184.6 829.1C184.8 829.1 185.3 829.1 185.5 829.1C185.7 829.1 186.2 828.8 186.4 828.8C186.6 828.8 187.1 829.1 187.3 829.1C187.5 829.2 188 829.2 188.2 829.2C188.4 829.2 188.9 828.9 189.1 828.9C189.3 828.8 189.8 828.9 190 828.9C190.2 828.9 190.7 829 190.9 829C191.1 829 191.6 828.8 191.8 828.8C192 828.9 192.5 829.2 192.7 829.2C192.9 829.2 193.4 829.1 193.6 829.1C193.8 829.1 194.3 829.1 194.5 829.1C194.7 829.1 195.2 829 195.4 829C195.6 829 196.1 829.1 196.3 829.1C196.5 829.2 197 829.2 197.2 829.2C197.4 829.2 197.9 829.1 198.1 829.1C198.3 829 198.8 828.8 199 828.8C199.2 828.8 199.7 828.8 199.9 828.8C200.1 828.8 200.6 828.9 200.8 828.9C201 828.9 201.5 829 201.7 829C201.9 829 202.4 829.1 202.6 829.1C202.8 829.1 203.3 828.8 203.5 828.8C203.7 828.8 204.2 829 204.4 829C204.6 829 205.1 828.9 205.3 828.9C205.5 828.9 206 829.2 206.2 829.2C206.4 829.2 206.9 829.2 207.1 829.1C207.3 829.1 207.8 828.9 208 828.8C208.2 828.8 208.7 828.9 208.9 828.9C209.1 828.9 209.6 828.8 209.8 828.8C210 828.8 210.5 828.9 210.7 829C210.9 829 211.4 829 211.6 829C211.8 829 212.3 829 212.5 829C212.7 828.9 213.2 828.8 213.4 828.8C213.6 828.9 214.1 829.1 214.3 829.1C214.5 829.1 215 829 215.2 829C215.4 829 215.9 829.1 216.1 829.1C216.3 829.1 216.8 828.9 217 828.9C217.2 828.9 217.7 829.2 217.9 829.2C218.1 829.2 218.6 829 218.8 828.9C219 828.9 219.5 828.8 219.7 828.8C219.9 828.8 220.4 829.2 220.6 829.2C220.8 829.2 221.3 829 221.5 829C221.7 828.9 222.2 828.9 222.4 828.9C222.6 828.9 223.1 828.8 223.3 828.8C223.5 828.8 224 828.9 224.2 829C224.4 829 224.9 829.1 225.1 829.1C225.3 829.1 225.8 829.1 226 829C226.2 829 226.7 828.8 226.9 828.8C227.1 828.8 227.6 828.8 227.8 828.8C228 828.9 228.5 829.1 228.7 829.2C228.9 829.2 229.4 829.2 229.6 829.2C229.8 829.2 230.3 829.2 230.5 829.2C230.7 829.2 231.2 829.2 231.4 829.2C231.6 829.2 232.1 829 232.3 829C232.5 829 233 829.2 233.2 829.2C233.4 829.1 233.9 828.9 234.1 828.8C234.3 828.8 234.8 828.9 235 828.9C235.2 829 235.7 829.2 235.9 829.2C236.1 829.2 236.6 829 236.8 829C237 829 237.5 829.1 237.7 829.1C237.9 829.1 238.4 829 238.6 829C238.8 829 239.3 829.1 239.5 829.1C239.7 829.1 240.2 829.1 240.4 829.1C240.6 829.1 241.1 829.1 241.3 829.1C241.5 829.1 242 829.1 242.2 829.1C242.4 829 242.9 828.9 243.1 828.9C243.3 828.9 243.8 828.9 244 829C244.2 829 244.7 829.2 244.9 829.2C245.1 829.2 245.6 828.9 245.8 828.9C246 828.9 246.5 828.8 246.7 828.8C246.9 828.8 247.4 828.9 247.6 828.9C247.8 828.9 248.3 828.8 248.5 828.9C248.7 828.9 249.2 829.2 249.4 829.2C249.6 829.2 250.1 829 250.3 829C250.5 829 251 829.2 251.2 829.2C251.4 829.2 251.9 828.9 252.1 828.9C252.3 828.9 252.8 829.1 253 829.1C253.2 829.1 253.7 828.9 253.9 828.9C254.1 828.9 254.6 829.1 254.8 829.1C255 829.1 255.5 828.9 255.7 828.9C255.9 828.9 256.4 829.1 256.6 829.1C256.8 829.1 257.3 829.2 257.5 829.2C257.7 829.2 258.2 829.1 258.4 829C258.6 829 259.1 829.1 259.3 829.1C259.5 829.1 260 828.8 260.2 828.8C260.4 828.8 260.9 829.1 261.1 829.1C261.3 829.1 261.8 829 262 829C262.2 829 262.7 829 262.9 829C263.1 829 263.6 828.8 263.8 828.8C264 828.8 264.5 829.2 264.7 829.2C264.9 829.2 265.4 829 265.6 829C265.8 828.9 266.3 829 266.5 829C266.7 829 267.2 828.9 267.4 828.9C267.6 828.9 268.1 828.8 268.3 828.8C268.5 828.8 269 829.1 269.2 829.1C269.4 829.1 269.9 828.9 270.1 828.9C270.3 828.9 270.8 829 271 829C271.2 829 271.7 828.9 271.9 829C272.1 829 272.6 829.2 272.8 829.2C273 829.2 273.5 828.9 273.7 828.9C273.9 828.8 274.4 828.8 274.6 828.8C274.8 828.8 275.3 829 275.5 829.1C275.7 829.1 276.2 829.1 276.4 829.1C276.6 829 277.1 828.8 277.3 828.8C277.5 828.8 278 829.1 278.2 829.2C278.4 829.2 278.9 829.2 279.1 829.2C279.3 829.2 279.8 829.2 280 829.2C280.2 829.2 280.7 828.9 280.9 828.9C281.1 828.8 281.6 828.9 281.8 828.9C282 828.9 282.5 829 282.7 829C282.9 829 283.4 828.9 283.6 828.9C283.8 829 284.3 829.2 284.5 829.2C284.7 829.2 285.2 829 285.4 828.9C285.6 828.9 286.1 829 286.3 829C286.5 829 287 829 287.2 829C287.4 829 287.9 829 288.1 829C288.3 829.1 288.8 829 289 829C289.2 829 289.7 829.1 289.9 829.1C290.1 829.1 290.6 829.2 290.8 829.2C291 829.2 291.5 829 291.7 829C291.9 829 292.4 829.1 292.6 829.1C292.8 829.1 293.3 828.9 293.5 828.9C293.7 828.9 294.2 828.9 294.4 828.9C294.6 828.9 295.1 828.9 295.3 828.9C295.5 828.9 296 829 296.2 829C296.4 829 296.9 829.1 297.1 829.1C297.3 829.1 297.8 829.1 298 829C298.2 829 298.7 829 298.9 829C299.1 829 299.6 829 299.8 828.9C300 828.9 300.5 828.8 300.7 828.8C300.9 828.8 301.4 829.2 301.6 829.2C301.8 829.2 302.3 829 302.5 829C302.7 829 303.2 829 303.4 829C303.6 829 304.1 828.9 304.3 828.9C304.5 828.9 305 828.8 305.2 828.8C305.4 828.8 305.9 828.9 306.1 828.9C306.3 828.9 306.8 828.9 307 828.9C307.2 828.9 307.7 828.9 307.9 828.9C308.1 828.9 308.6 828.9 308.8 828.9C309 828.9 309.5 828.8 309.7 828.8C309.9 828.8 310.4 828.9 310.6 828.9C310.8 828.9 311.3 828.9 311.5 828.9C311.7 828.9 312.2 829.1 312.4 829.1C312.6 829.1 313.1 828.8 313.3 828.8C313.5 828.8 314 829 314.2 829C314.4 829.1 314.9 829 315.1 828.9C315.3 828.9 315.8 828.9 316 828.9C316.2 828.8 316.7 828.8 316.9 828.8C317.1 828.8 317.6 828.7 317.8 828.8C318 828.8 318.5 829.2 318.7 829.2C318.9 829.2 319.4 829.1 319.6 829.1C319.8 829.1 320.3 829.1 320.5 829.1C320.7 829.1 321.2 829 321.4 829C321.6 829.1 322.1 829.2 322.3 829.2C322.5 829.1 323 829.3 323.2 829C323.4 828.7 323.9 826.4 324.1 826.1C324.3 825.8 324.8 825.7 325 826C325.2 826.3 325.7 828.5 325.9 828.8C326.1 829.1 326.6 828.9 326.8 828.9C327 828.9 327.5 829 327.7 829C327.9 829 328.4 829.2 328.6 829.2C328.8 829.1 329.3 828.8 329.5 828.8C329.7 828.8 330.2 828.9 330.4 828.9C330.6 828.9 331.1 829.1 331.3 829.1C331.5 829.1 332 829.1 332.2 829.1C332.4 829.1 332.9 828.9 333.1 828.9C333.3 828.9 333.8 828.9 334 828.9C334.2 828.9 334.7 829.1 334.9 829.1C335.1 829.1 335.6 828.8 335.8 828.8C336 828.8 336.5 829 336.7 829.1C336.9 829.1 337.4 829.1 337.6 829.1C337.8 829.1 338.3 828.8 338.5 828.8C338.7 828.8 339.2 829.1 339.4 829.2C339.6 829.2 340.1 828.9 340.3 828.9C340.5 828.9 341 829.1 341.2 829.1C341.4 829.1 341.9 829 342.1 829C342.3 828.9 342.8 829.1 343 829.1C343.2 829.1 343.7 829.1 343.9 829.1C344.1 829 344.6 829.1 344.8 828.8C345 828.5 345.5 826.2 345.7 826.2C345.9 826.2 346.4 828.8 346.6 829C346.8 829.3 347.3 828.9 347.5 828.9C347.7 829 348.2 829.1 348.4 829.1C348.6 829.1 349.1 829.1 349.3 829.1C349.5 829.1 350 829.1 350.2 829C350.4 829 350.9 829.1 351.1 829.1C351.3 829.1 351.8 829.2 352 829.1C352.2 829.1 352.7 828.8 352.9 828.8C353.1 828.8 353.6 829.2 353.8 829.2C354 829.2 354.5 828.9 354.7 828.9C354.9 828.8 355.4 828.8 355.6 828.8C355.8 828.8 356.3 828.9 356.5 828.9C356.7 828.9 357.2 829.2 357.4 829.2C357.6 829.2 358.1 829 358.3 829C358.5 829 359 829.2 359.2 829.2C359.4 829.2 359.9 829 360.1 828.9C360.3 828.9 360.8 828.9 361 828.9C361.2 828.9 361.7 829.1 361.9 829.1C362.1 829.1 362.6 829.2 362.8 829.2C363 829.2 363.5 829 363.7 829C363.9 829 364.4 829.2 364.6 829.2C364.8 829.2 365.3 829.1 365.5 829.1C365.7 829.1 366.2 829 366.4 829C366.6 829 367.1 828.8 367.3 828.8C367.5 828.8 368 829 368.2 829.1C368.4 829.1 368.9 829.2 369.1 829.2C369.3 829.1 369.8 828.9 370 828.9C370.2 828.8 370.7 828.8 370.9 828.9C371.1 828.9 371.6 828.9 371.8 829C372 829 372.5 829.2 372.7 829.2C372.9 829.2 373.4 829.2 373.6 829.1C373.8 829.1 374.3 829.1 374.5 829C374.7 829 375.2 829 375.4 829C375.6 829 376.1 829.1 376.3 829.1C376.5 829.1 377 828.9 377.2 828.9C377.4 828.8 377.9 828.8 378.1 828.8C378.3 828.8 378.8 828.8 379 828.8C379.2 828.8 379.7 828.8 379.9 828.8C380.1 828.9 380.6 829.2 380.8 829.2C381 829.2 381.5 829 381.7 829C381.9 829 382.4 829.2 382.6 829.2C382.8 829.2 383.3 828.8 383.5 828.8C383.7 828.8 384.2 828.9 384.4 828.9C384.6 828.9 385.1 828.9 385.3 828.9C385.5 828.9 386 829.1 386.2 829.1C386.4 829.2 386.9 829.2 387.1 829.2C387.3 829.2 387.8 828.9 388 828.9C388.2 828.8 388.7 828.9 388.9 828.9C389.1 829 389.6 828.9 389.8 828.9C390 828.9 390.5 829 390.7 829C390.9 829 391.4 828.9 391.6 828.9C391.8 828.9 392.3 829 392.5 829.1C392.7 829.1 393.2 829.1 393.4 829.1C393.6 829.1 394.1 829.1 394.3 829.1C394.5 829.1 395 829.1 395.2 829.1C395.4 829.1 395.9 829 396.1 828.9C396.3 828.9 396.8 828.8 397 828.8C397.2 828.8 397.7 829.2 397.9 829.2C398.1 829.2 398.6 829.2 398.8 829.2C399 829.2 399.5 829 399.7 829C399.9 829 400.4 828.9 400.6 828.9C400.8 828.9 401.3 829.1 401.5 829.1C401.7 829.2 402.2 829.1 402.4 829.1C402.6 829.1 403.1 829.2 403.3 829.2C403.5 829.2 404 829.2 404.2 829.2C404.4 829.2 404.9 829 405.1 829C405.3 829 405.8 828.9 406 828.9C406.2 828.9 406.7 828.9 406.9 828.9C407.1 829 407.6 829.1 407.8 829.1C408 829.2 408.5 829.2 408.7 829.2C408.9 829.1 409.4 828.8 409.6 828.8C409.8 828.8 410.3 829 410.5 829C410.7 829 411.2 829 411.4 829C411.6 829 412.1 828.9 412.3 828.9C412.5 828.9 413 828.9 413.2 828.9C413.4 828.9 413.9 829 414.1 829C414.3 829 414.8 829.2 415 829.2C415.2 829.2 415.7 828.9 415.9 828.8C416.1 828.8 416.6 829.1 416.8 829.1C417 829.2 417.5 829.2 417.7 829.2C417.9 829.2 418.4 829.1 418.6 829.1C418.8 829 419.3 829 419.5 829C419.7 829 420.2 828.9 420.4 828.9C420.6 829 421.1 829.1 421.3 829.1C421.5 829.1 422 828.9 422.2 828.9C422.4 828.9 422.9 829 423.1 829C423.3 829 423.8 829.2 424 829.1C424.2 829.1 424.7 828.9 424.9 828.8C425.1 828.8 425.6 828.9 425.8 828.9C426 828.9 426.5 828.8 426.7 828.8C426.9 828.8 427.4 828.9 427.6 828.9C427.8 828.9 428.3 829.1 428.5 829.1C428.7 829.1 429.2 828.9 429.4 828.9C429.6 828.8 430.1 828.8 430.3 828.8C430.5 828.8 431 829 431.2 829C431.4 829 431.9 828.8 432.1 828.8C432.3 828.8 432.8 828.8 433 828.8C433.2 828.8 433.7 829 433.9 829C434.1 829 434.6 828.8 434.8 828.8C435 828.8 435.5 828.8 435.7 828.8C435.9 828.8 436.4 828.8 436.6 828.9C436.8 828.9 437.3 829.2 437.5 829.2C437.7 829.2 438.2 829.1 438.4 829.1C438.6 829 439.1 829 439.3 828.9C439.5 828.9 440 829 440.2 828.9C440.4 828.9 440.9 828.9 441.1 828.9C441.3 828.9 441.8 828.9 442 828.9C442.2 829 442.7 829.2 442.9 829.1C443.1 829.1 443.6 828.8 443.8 828.8C444 828.8 444.5 829 444.7 829C444.9 829 445.4 828.8 445.6 828.8C445.8 828.8 446.3 829.1 446.5 829.1C446.7 829.1 447.2 828.8 447.4 828.8C447.6 828.8 448.1 829 448.3 829C448.5 829 449 828.9 449.2 828.9C449.4 828.9 449.9 828.9 450.1 828.9C450.3 828.9 450.8 828.8 451 828.8C451.2 828.8 451.7 829 451.9 829.1C452.1 829.1 452.6 829.2 452.8 829.2C453 829.2 453.5 829 453.7 829C453.9 829 454.4 829.1 454.6 829.1C454.8 829.1 455.3 829 455.5 829C455.7 828.9 456.2 828.8 456.4 828.9C456.6 828.9 457.1 829 457.3 829.1C457.5 829.1 458 829.1 458.2 829.2C458.4 829.2 458.9 829.2 459.1 829.2C459.3 829.2 459.8 829.1 460 829C460.2 829 460.7 828.9 460.9 829C461.1 829 461.6 829.2 461.8 829.2C462 829.2 462.5 828.9 462.7 828.9C462.9 828.9 463.4 829.1 463.6 829.1C463.8 829.2 464.3 829.2 464.5 829.2C464.7 829.1 465.2 828.8 465.4 828.8C465.6 828.8 466.1 829 466.3 829C466.5 829 467 828.8 467.2 828.8C467.4 828.8 467.9 829 468.1 829C468.3 829 468.8 829.2 469 829.2C469.2 829.2 469.7 829.1 469.9 829.1C470.1 829.1 470.6 829 470.8 829C471 829 471.5 828.9 471.7 828.9C471.9 828.9 472.4 828.9 472.6 828.9C472.8 828.9 473.3 828.9 473.5 828.9C473.7 828.9 474.2 828.9 474.4 828.9C474.6 829 475.1 829.1 475.3 829.1C475.5 829.1 476 829 476.2 829C476.4 829 476.9 829.1 477.1 829.1C477.3 829 477.8 829 478 829C478.2 829 478.7 829.1 478.9 829.1C479.1 829.1 479.6 829 479.8 829C480 829 480.5 829 480.7 829C480.9 829 481.4 829.2 481.6 829.2C481.8 829.2 482.3 828.9 482.5 828.9C482.7 828.8 483.2 829 483.4 829C483.6 829 484.1 828.9 484.3 828.9C484.5 828.9 485 828.9 485.2 828.9C485.4 828.9 485.9 828.9 486.1 828.9C486.3 828.9 486.8 828.8 487 828.8C487.2 828.8 487.7 829 487.9 829.1C488.1 829.1 488.6 829 488.8 829C489 829.1 489.5 829.2 489.7 829.2C489.9 829.2 490.4 828.9 490.6 828.9C490.8 828.9 491.3 829 491.5 829C491.7 829 492.2 829 492.4 829C492.6 828.9 493.1 828.8 493.3 828.8C493.5 828.8 494 829.1 494.2 829.1C494.4 829.2 494.9 829.1 495.1 829.1C495.3 829.1 495.8 828.9 496 828.9C496.2 828.9 496.7 828.8 496.9 828.9C497.1 828.9 497.6 829 497.8 829C498 829 498.5 829.2 498.7 829.2C498.9 829.2 499.4 829.1 499.6 829.1C499.8 829 500.3 828.9 500.5 828.8C500.7 828.8 501.2 829 501.4 829C501.6 829 502.1 829 502.3 829C502.5 829 503 829.1 503.2 829C503.4 829 503.9 828.9 504.1 828.9C504.3 828.9 504.8 829 505 829C505.2 828.9 505.7 828.9 505.9 828.9C506.1 828.9 506.6 828.9 506.8 828.8C507 828.7 507.5 827.7 507.7 827.8C507.9 827.8 508.4 828.9 508.6 829.1C508.8 829.2 509.3 829.1 509.5 829.1C509.7 829.1 510.2 828.9 510.4 828.9C510.6 828.8 511.1 828.9 511.3 828.9C511.5 828.9 512 828.8 512.2 828.8C512.4 828.8 512.9 829.1 513.1 829.1C513.3 829.1 513.8 828.9 514 828.8C514.2 828.8 514.7 829.5 514.9 828.8C515.1 828.2 515.6 822.4 515.8 822.5C516 822.5 516.5 828.8 516.7 829.1C516.9 829.4 517.4 825.9 517.6 825.6C517.8 825.2 518.3 825.5 518.5 825.8C518.7 826.1 519.2 828.5 519.4 828.8C519.6 829.2 520.1 829.2 520.3 829.1C520.5 829 521 827.5 521.2 827.5C521.4 827.5 521.9 828.9 522.1 829.1C522.3 829.2 522.8 829.1 523 829.1C523.2 829.1 523.7 829.1 523.9 829.1C524.1 829.1 524.6 829 524.8 829C525 829 525.5 828.9 525.7 828.9C525.9 828.9 526.4 829.1 526.6 829.1C526.8 829.1 527.3 828.9 527.5 828.9C527.7 828.9 528.2 829.1 528.4 829.1C528.6 829.1 529.1 828.9 529.3 828.9C529.5 828.9 530 829 530.2 829.1C530.4 829.1 530.9 829.1 531.1 829.1C531.3 829.1 531.8 829.2 532 829.2C532.2 829.2 532.7 829.2 532.9 829.2C533.1 829.2 533.6 828.9 533.8 828.9C534 828.9 534.5 829 534.7 829C534.9 829.1 535.4 829.2 535.6 829.2C535.8 829.1 536.3 828.8 536.5 828.8C536.7 828.8 537.2 828.9 537.4 828.9C537.6 829 538.1 829.2 538.3 829.2C538.5 829.2 539 828.9 539.2 828.9C539.4 828.9 539.9 828.9 540.1 829C540.3 829 540.8 829 541 829C541.2 829 541.7 829 541.9 829C542.1 829 542.6 829.4 542.8 828.8C543 828.2 543.5 822.9 543.7 822.9C543.9 822.9 544.4 829 544.6 828.9C544.8 828.9 545.3 823.1 545.5 822.5C545.7 821.9 546.2 822 546.4 822.6C546.6 823.3 547.1 829.1 547.3 829.1C547.5 829.1 548 822.7 548.2 822.7C548.4 822.7 548.9 829 549.1 828.9C549.3 828.9 549.8 823 550 822.3C550.2 821.6 550.7 821.6 550.9 822.3C551.1 823 551.6 828.5 551.8 829.1C552 829.8 552.5 828.9 552.7 828.9C552.9 828.9 553.4 829.2 553.6 829.2C553.8 829.2 554.3 829 554.5 828.9C554.7 828.9 555.2 829 555.4 829C555.6 829 556.1 829.1 556.3 829.1C556.5 829.1 557 829.6 557.2 829C557.4 828.3 557.9 823.1 558.1 822.5C558.3 822 558.8 823.5 559 823.6C559.2 823.7 559.7 823.5 559.9 823.4C560.1 823.3 560.6 821.9 560.8 822.4C561 823 561.5 828.2 561.7 828.9C561.9 829.5 562.4 829.1 562.6 829.1C562.8 829.1 563.3 829.1 563.5 829.1C563.7 829.1 564.2 829.1 564.4 829.1C564.6 829.1 565.1 829.2 565.3 829.2C565.5 829.2 566 829.1 566.2 829.1C566.4 829.1 566.9 829.2 567.1 829.2C567.3 829.1 567.8 829 568 828.9C568.2 828.9 568.7 828.8 568.9 828.8C569.1 828.9 569.6 829.1 569.8 829.1C570 829.2 570.5 829.2 570.7 829.2C570.9 829.2 571.4 829 571.6 829C571.8 829 572.3 829.2 572.5 829.2C572.7 829.2 573.2 829.1 573.4 829C573.6 829 574.1 828.9 574.3 828.9C574.5 828.9 575 829.1 575.2 829.1C575.4 829.1 575.9 828.9 576.1 828.9C576.3 828.9 576.8 829 577 829C577.2 829 577.7 829.2 577.9 829.2C578.1 829.2 578.6 829.1 578.8 829.1C579 829.1 579.5 828.9 579.7 829C579.9 829 580.4 829.2 580.6 829.2C580.8 829.2 581.3 829.2 581.5 829.1C581.7 829.1 582.2 829 582.4 829C582.6 828.9 583.1 828.9 583.3 828.9C583.5 828.9 584 829 584.2 829C584.4 829 584.9 828.9 585.1 828.9C585.3 828.9 585.8 829.8 586 829.2C586.2 828.6 586.7 822.7 586.9 822.6C587.1 822.6 587.6 828.5 587.8 829.1C588 829.7 588.5 828.8 588.7 828.8C588.9 828.8 589.4 829.1 589.6 829.1C589.8 829.1 590.3 828.9 590.5 828.9C590.7 828.9 591.2 829.4 591.4 829.2C591.6 829 592.1 826.8 592.3 826.5C592.5 826.2 593 826.1 593.2 826.3C593.4 826.5 593.9 828.6 594.1 828.9C594.3 829.1 594.8 828.9 595 829C595.2 829 595.7 829.2 595.9 829.1C596.1 829.1 596.6 828.8 596.8 828.8C597 828.8 597.5 829.2 597.7 829.2C597.9 829.2 598.4 828.8 598.6 828.8C598.8 828.8 599.3 828.9 599.5 828.9C599.7 828.9 600.2 829.6 600.4 828.9C600.6 828.2 601.1 822.2 601.3 822.3C601.5 822.3 602 828.5 602.2 829.1C602.4 829.8 602.9 829.1 603.1 829.1C603.3 829 603.8 828.9 604 828.9C604.2 828.9 604.7 828.9 604.9 828.9C605.1 828.9 605.6 829.1 605.8 829C606 829 606.5 828.8 606.7 828.9C606.9 828.9 607.4 829.2 607.6 829.2C607.8 829.2 608.3 829.1 608.5 829.1C608.7 829.1 609.2 829.2 609.4 829.2C609.6 829.2 610.1 829.1 610.3 829.1C610.5 829 611 828.9 611.2 828.9C611.4 828.8 611.9 828.9 612.1 828.9C612.3 828.9 612.8 829.1 613 829.2C613.2 829.2 613.7 829.1 613.9 829.1C614.1 829.1 614.6 829.5 614.8 829.2C615 828.8 615.5 825.3 615.7 825.3C615.9 825.3 616.4 828.6 616.6 829C616.8 829.4 617.3 829.1 617.5 829.1C617.7 829.1 618.2 829.1 618.4 829.1C618.6 829 619.1 828.8 619.3 828.8C619.5 828.8 620 829 620.2 829C620.4 829 620.9 828.9 621.1 828.9C621.3 828.9 621.8 828.9 622 828.9C622.2 828.9 622.7 829 622.9 829C623.1 829 623.6 829 623.8 829C624 829 624.5 829 624.7 829.1C624.9 829.1 625.4 829.4 625.6 829.1C625.8 828.9 626.3 826.5 626.5 826.5C626.7 826.5 627.2 828.8 627.4 829.1C627.6 829.3 628.1 829.1 628.3 829.1C628.5 829.1 629 829.2 629.2 829.1C629.4 829.1 629.9 828.8 630.1 828.8C630.3 828.8 630.8 829 631 829C631.2 829.1 631.7 829.1 631.9 829.1C632.1 829.1 632.6 829.2 632.8 829.2C633 829.2 633.5 829.2 633.7 829.1C633.9 829.1 634.4 829.1 634.6 828.8C634.8 828.6 635.3 826.8 635.5 826.8C635.7 826.8 636.2 828.7 636.4 828.9C636.6 829.1 637.1 829.1 637.3 829.1C637.5 829.1 638.1 828.9 638.2 828.9" fill="none" stroke="#66bbc9" stroke-width="2" stroke-linejoin="round" clip-path="url(#cd)"/>
<path d="M100 833H639" stroke="#ff8c00" stroke-width="2"/>
<path d="M98 880V876Q98 873 101 873H639Q642 873 642 876V880Z" fill="#e0e6f4"/>
<rect x="98.5" y="880.5" width="543" height="29" fill="#e8eefd" stroke="#d3dbef" stroke-width="1"/>
<polygon points="99,909 99,903.5 122,903.5 123.2,902 124.2,884.5 125.2,902 126,903.5 140,903.5 141.5,902 142.8,897 143.6,901 144.5,903.5 190,903.5 191,903 192,903.5 215,903.5 216,903.1 217,903.5 300,903.5 305,903.2 306,903.5 412,903.5 413,902.6 414,903.5 640,903.5 641,909" fill="#8fb0f7" fill-opacity="0.25"/>
<polyline points="99,903.5 122,903.5 123.2,902 124.2,884.5 125.2,902 126,903.5 140,903.5 141.5,902 142.8,897 143.6,901 144.5,903.5 190,903.5 191,903 192,903.5 215,903.5 216,903.1 217,903.5 300,903.5 305,903.2 306,903.5 412,903.5 413,902.6 414,903.5 640,903.5" fill="none" stroke="#9ab7f8" stroke-width="0.7"/>
<rect x="367.3" y="875.2" width="1" height="2.8" fill="#fff"/>
<rect x="369.5" y="875.2" width="1" height="2.8" fill="#fff"/>
<rect x="371.7" y="875.2" width="1" height="2.8" fill="#fff"/>
<path d="M10.7,11.9v-1.3H9.3v1.3c-4.9,0.3-8.8,4.4-8.8,9.4c0,5,3.9,9.1,8.8,9.4v1.3h1.3v-1.3c4.9-0.3,8.8-4.4,8.8-9.4C19.5,16.3,15.6,12.2,10.7,11.9z M13.3,24.4H6.7V23h6.6V24.4z M13.3,19.6H6.7v-1.4h6.6V19.6z" transform="translate(87.3 870.1) scale(1.17)" fill="#fff" fill-rule="evenodd" stroke="#a3b1cf" stroke-width="0.8" filter="url(#hs)"/>
<path d="M10.7,11.9v-1.3H9.3v1.3c-4.9,0.3-8.8,4.4-8.8,9.4c0,5,3.9,9.1,8.8,9.4v1.3h1.3v-1.3c4.9-0.3,8.8-4.4,8.8-9.4C19.5,16.3,15.6,12.2,10.7,11.9z M13.3,24.4H6.7V23h6.6V24.4z M13.3,19.6H6.7v-1.4h6.6V19.6z" transform="translate(629.6 870.1) scale(1.17)" fill="#fff" fill-rule="evenodd" stroke="#a3b1cf" stroke-width="0.8" filter="url(#hs)"/>
<text x="816" y="835.9" text-anchor="end">0</text>
<path d="M823 805.5H1367" stroke="#dedede" stroke-width="1"/>
<text x="816" y="807.9" text-anchor="end">2,000</text>
<path d="M823 777.5H1367" stroke="#dedede" stroke-width="1"/>
<text x="816" y="779.9" text-anchor="end">4,000</text>
<path d="M823 749.5H1367" stroke="#dedede" stroke-width="1"/>
<text x="816" y="751.9" text-anchor="end">6,000</text>
<path d="M823 721.5H1367" stroke="#dedede" stroke-width="1"/>
<text x="816" y="723.9" text-anchor="end">8,000</text>
<path d="M823 693.5H1367" stroke="#dedede" stroke-width="1"/>
<text x="816" y="695.9" text-anchor="end">10,000</text>
<path d="M823 665.5H1367" stroke="#dedede" stroke-width="1"/>
<text x="816" y="667.9" text-anchor="end">12,000</text>
<path d="M823 833.5H1367" stroke="#666" stroke-width="1"/>
<path d="M828.5 833.5V838" stroke="#666" stroke-width="1"/>
<text x="828.5" y="850" text-anchor="middle">11-03</text>
<text x="828.5" y="862" text-anchor="middle">00:00</text>
<path d="M1005.5 833.5V838" stroke="#666" stroke-width="1"/>
<text x="1005.5" y="850" text-anchor="middle">11-03</text>
<text x="1005.5" y="862" text-anchor="middle">04:00</text>
<path d="M1182.5 833.5V838" stroke="#666" stroke-width="1"/>
<text x="1182.5" y="850" text-anchor="middle">11-03</text>
<text x="1182.5" y="862" text-anchor="middle">08:00</text>
<path d="M1359.5 833.5V838" stroke="#666" stroke-width="1"/>
<text x="1359.5" y="850" text-anchor="middle">11-03</text>
<text x="1359.5" y="862" text-anchor="middle">12:00</text>
<text x="782" y="618.4">单位：<tspan style="letter-spacing:0.6px">KB/s</tspan></text>
<path d="M1036 633.5H1061" stroke="#ff4683" stroke-width="2"/>
<circle cx="1048.5" cy="633.5" r="5.8" fill="#ff4683"/>
<text x="1065.3" y="637.1" style="fill:#333;letter-spacing:0">上行</text>
<path d="M1101 633.5H1126" stroke="#66bbc9" stroke-width="2"/>
<circle cx="1113.5" cy="633.5" r="5.8" fill="#66bbc9"/>
<text x="1129.8" y="637.1" style="fill:#333;letter-spacing:0">下行</text>
<path d="M828 832.8C828.1 832.8 828.6 832.8 828.7 832.8C828.9 832.8 829.3 832.8 829.5 832.8C829.6 832.8 830.1 832.8 830.2 832.8C830.4 832.7 830.8 832.7 831 832.8C831.1 832.8 831.6 832.9 831.7 832.9C831.8 832.9 832.3 832.8 832.4 832.8C832.6 832.8 833 832.7 833.2 832.8C833.3 832.8 833.8 832.9 833.9 832.9C834.1 832.9 834.5 832.9 834.7 832.9C834.8 832.9 835.3 832.8 835.4 832.8C835.5 832.8 836 832.9 836.1 832.9C836.3 832.9 836.7 832.9 836.9 832.9C837 832.9 837.5 832.9 837.6 832.9C837.8 832.9 838.2 832.8 838.4 832.8C838.5 832.8 839 832.9 839.1 832.9C839.2 832.9 839.7 832.9 839.8 832.9C840 832.9 840.4 832.9 840.6 832.9C840.7 832.9 841.2 832.9 841.3 832.9C841.5 832.8 841.9 832.8 842.1 832.8C842.2 832.8 842.7 832.9 842.8 832.9C842.9 832.9 843.4 832.9 843.5 832.9C843.7 832.9 844.1 832.9 844.3 832.9C844.4 832.9 844.9 832.9 845 832.9C845.2 832.9 845.6 832.9 845.8 832.9C845.9 832.9 846.4 832.8 846.5 832.8C846.6 832.8 847.1 832.8 847.2 832.8C847.4 832.8 847.8 832.8 848 832.8C848.1 832.7 848.6 832.8 848.7 832.8C848.9 832.8 849.3 832.8 849.5 832.8C849.6 832.8 850.1 832.8 850.2 832.8C850.3 832.8 850.8 832.8 850.9 832.8C851.1 832.8 851.5 832.8 851.7 832.8C851.8 832.8 852.3 832.8 852.4 832.8C852.6 832.8 853 832.8 853.2 832.8C853.3 832.8 853.8 832.9 853.9 832.9C854 832.9 854.5 832.8 854.6 832.8C854.8 832.8 855.2 832.8 855.4 832.8C855.5 832.8 856 832.8 856.1 832.8C856.3 832.8 856.7 832.8 856.9 832.8C857 832.8 857.5 832.9 857.6 832.9C857.7 832.9 858.2 832.9 858.3 832.9C858.5 832.9 858.9 832.8 859.1 832.8C859.2 832.8 859.7 832.8 859.8 832.8C860 832.8 860.4 832.7 860.6 832.8C860.7 832.8 861.2 832.9 861.3 832.9C861.4 832.9 861.9 832.8 862 832.8C862.2 832.8 862.6 832.9 862.8 832.9C862.9 832.9 863.4 832.9 863.5 832.9C863.7 832.9 864.1 832.9 864.3 832.9C864.4 832.9 864.9 832.9 865 832.9C865.1 832.9 865.6 832.9 865.7 832.9C865.9 832.9 866.3 832.9 866.5 832.9C866.6 832.9 867.1 832.9 867.2 832.9C867.4 832.9 867.8 832.8 868 832.8C868.1 832.8 868.6 832.9 868.7 832.9C868.8 832.9 869.3 832.9 869.4 832.9C869.6 832.9 870 832.8 870.2 832.8C870.3 832.7 870.8 832.8 870.9 832.8C871.1 832.8 871.5 832.8 871.7 832.8C871.8 832.8 872.3 832.8 872.4 832.8C872.5 832.8 873 832.9 873.1 832.9C873.3 832.9 873.7 832.9 873.9 832.9C874 832.9 874.5 832.9 874.6 832.9C874.8 832.8 875.2 832.8 875.4 832.8C875.5 832.8 876 832.9 876.1 832.9C876.2 832.9 876.7 832.8 876.8 832.8C877 832.8 877.4 832.9 877.6 832.9C877.7 832.9 878.2 832.9 878.3 832.9C878.5 832.9 878.9 832.9 879.1 832.9C879.2 832.9 879.7 832.9 879.8 832.9C879.9 832.9 880.4 832.8 880.5 832.8C880.7 832.8 881.1 832.8 881.3 832.8C881.4 832.8 881.9 832.7 882 832.7C882.2 832.8 882.6 832.9 882.8 832.9C882.9 832.9 883.4 832.7 883.5 832.7C883.6 832.8 884.1 832.9 884.2 832.9C884.4 832.9 884.8 832.9 885 832.9C885.1 832.9 885.6 832.9 885.7 832.9C885.9 832.9 886.3 832.8 886.5 832.8C886.6 832.8 887.1 832.7 887.2 832.8C887.3 832.8 887.8 832.9 887.9 832.9C888.1 832.9 888.5 832.9 888.7 832.9C888.8 832.9 889.3 832.8 889.4 832.8C889.6 832.8 890 832.9 890.2 832.9C890.3 832.9 890.8 832.8 890.9 832.8C891 832.8 891.5 832.8 891.6 832.8C891.8 832.8 892.2 832.9 892.4 832.9C892.5 832.9 893 832.8 893.1 832.8C893.3 832.8 893.7 832.9 893.9 832.9C894 832.9 894.5 832.8 894.6 832.8C894.7 832.8 895.2 832.9 895.3 832.9C895.5 832.9 895.9 832.9 896.1 832.9C896.2 832.9 896.7 832.8 896.8 832.8C897 832.8 897.4 832.7 897.6 832.8C897.7 832.8 898.2 832.9 898.3 832.9C898.4 832.9 898.9 832.8 899 832.8C899.2 832.8 899.6 832.8 899.8 832.8C899.9 832.8 900.4 832.9 900.5 832.9C900.7 832.9 901.1 832.9 901.3 832.9C901.4 832.9 901.9 832.8 902 832.8C902.1 832.8 902.6 832.8 902.7 832.8C902.9 832.8 903.3 832.9 903.5 832.9C903.6 832.9 904.1 832.9 904.2 832.9C904.4 832.9 904.8 832.8 905 832.8C905.1 832.8 905.6 832.9 905.7 832.9C905.8 832.9 906.3 832.8 906.4 832.8C906.6 832.8 907 832.9 907.2 832.9C907.3 832.9 907.8 832.9 907.9 832.9C908.1 832.9 908.5 832.8 908.7 832.8C908.8 832.8 909.3 832.9 909.4 832.9C909.5 832.9 910 832.8 910.1 832.8C910.3 832.8 910.7 832.8 910.9 832.8C911 832.8 911.5 832.8 911.6 832.8C911.8 832.8 912.2 832.9 912.4 832.9C912.5 832.9 913 832.8 913.1 832.8C913.2 832.8 913.7 832.8 913.8 832.8C914 832.8 914.4 832.8 914.6 832.8C914.7 832.8 915.2 832.8 915.3 832.8C915.5 832.8 915.9 832.8 916.1 832.8C916.2 832.9 916.7 832.9 916.8 832.9C916.9 832.9 917.4 832.8 917.5 832.8C917.7 832.8 918.1 832.9 918.3 832.9C918.4 832.9 918.9 832.9 919 832.9C919.2 832.9 919.6 832.8 919.8 832.8C919.9 832.8 920.4 832.8 920.5 832.8C920.6 832.8 921.1 832.8 921.2 832.8C921.4 832.8 921.8 832.8 922 832.8C922.1 832.8 922.6 832.9 922.7 832.9C922.9 832.9 923.3 832.8 923.5 832.8C923.6 832.8 924.1 832.9 924.2 832.9C924.3 832.9 924.8 832.8 924.9 832.8C925.1 832.8 925.5 832.9 925.7 832.9C925.8 832.9 926.3 832.8 926.4 832.8C926.6 832.7 927 832.8 927.2 832.8C927.3 832.9 927.8 832.8 927.9 832.8C928 832.8 928.5 832.8 928.6 832.8C928.8 832.8 929.2 832.8 929.4 832.8C929.5 832.8 930 832.8 930.1 832.8C930.3 832.8 930.7 832.8 930.9 832.8C931 832.8 931.5 832.9 931.6 832.9C931.7 832.9 932.2 832.9 932.3 832.9C932.5 832.9 932.9 832.8 933.1 832.8C933.2 832.8 933.7 832.9 933.8 832.9C934 832.9 934.4 832.8 934.6 832.8C934.7 832.8 935.2 832.8 935.3 832.8C935.4 832.8 935.9 832.9 936 832.9C936.2 832.9 936.6 832.8 936.8 832.8C936.9 832.8 937.4 832.8 937.5 832.8C937.7 832.8 938.1 832.8 938.3 832.8C938.4 832.8 938.9 832.9 939 832.9C939.1 832.9 939.6 832.8 939.7 832.8C939.9 832.8 940.3 832.8 940.5 832.9C940.6 832.9 941.1 832.9 941.2 832.9C941.4 832.9 941.8 832.8 942 832.8C942.1 832.8 942.6 832.8 942.7 832.8C942.8 832.7 943.3 832.7 943.4 832.7C943.6 832.8 944 832.8 944.2 832.8C944.3 832.8 944.8 832.8 944.9 832.8C945.1 832.8 945.5 832.8 945.7 832.8C945.8 832.8 946.3 832.8 946.4 832.8C946.5 832.8 947 832.8 947.1 832.8C947.3 832.8 947.7 832.9 947.9 832.9C948 832.9 948.5 832.8 948.6 832.8C948.8 832.8 949.2 832.9 949.4 832.9C949.5 832.9 950 832.8 950.1 832.8C950.2 832.8 950.7 832.9 950.8 832.9C951 832.9 951.4 832.9 951.6 832.9C951.7 832.8 952.2 832.9 952.3 832.9C952.5 832.9 952.9 832.8 953.1 832.8C953.2 832.9 953.7 832.9 953.8 832.9C953.9 832.9 954.4 832.8 954.5 832.8C954.7 832.8 955.1 832.8 955.3 832.8C955.4 832.8 955.9 832.8 956 832.8C956.2 832.9 956.6 832.9 956.8 832.9C956.9 832.9 957.4 832.9 957.5 832.9C957.6 832.9 958.1 832.9 958.2 832.9C958.4 832.9 958.8 832.8 959 832.8C959.1 832.8 959.6 832.7 959.7 832.8C959.9 832.8 960.3 832.9 960.5 832.9C960.6 832.9 961.1 832.9 961.2 832.9C961.3 832.9 961.8 832.9 961.9 832.9C962.1 832.9 962.5 832.9 962.7 832.9C962.8 832.9 963.3 832.8 963.4 832.8C963.6 832.8 964 832.9 964.2 832.9C964.3 832.9 964.8 832.9 964.9 832.9C965 832.9 965.5 832.8 965.6 832.8C965.8 832.8 966.2 832.8 966.4 832.8C966.5 832.8 967 832.8 967.1 832.8C967.3 832.8 967.7 832.8 967.9 832.8C968 832.8 968.5 832.8 968.6 832.8C968.7 832.8 969.2 832.8 969.3 832.8C969.5 832.8 969.9 832.8 970.1 832.8C970.2 832.8 970.7 832.8 970.8 832.8C971 832.8 971.4 832.9 971.6 832.9C971.7 832.9 972.2 832.9 972.3 832.9C972.4 832.9 972.9 832.9 973 832.9C973.2 832.8 973.6 832.8 973.8 832.8C973.9 832.8 974.4 832.9 974.5 832.9C974.7 832.9 975.1 832.9 975.3 832.9C975.4 832.9 975.9 832.8 976 832.8C976.1 832.8 976.6 832.8 976.7 832.8C976.9 832.8 977.3 832.9 977.5 832.9C977.6 832.9 978.1 832.9 978.2 832.9C978.4 832.9 978.8 832.8 979 832.8C979.1 832.8 979.6 832.9 979.7 832.9C979.8 832.9 980.3 832.9 980.4 832.9C980.6 832.9 981 832.9 981.2 832.9C981.3 832.9 981.8 832.9 981.9 832.9C982.1 832.9 982.5 832.9 982.7 832.9C982.8 832.9 983.3 832.8 983.4 832.8C983.5 832.8 984 832.9 984.1 832.9C984.3 832.9 984.7 832.8 984.9 832.8C985 832.8 985.5 832.8 985.6 832.8C985.8 832.8 986.2 832.8 986.4 832.8C986.5 832.8 987 832.9 987.1 832.9C987.2 832.9 987.7 832.8 987.8 832.8C988 832.8 988.4 832.8 988.6 832.8C988.7 832.8 989.2 832.7 989.3 832.8C989.5 832.8 989.9 832.9 990.1 832.9C990.2 832.9 990.7 832.9 990.8 832.9C990.9 832.9 991.4 832.9 991.5 832.9C991.7 832.9 992.1 832.9 992.3 832.9C992.4 832.9 992.9 832.9 993 832.9C993.2 832.9 993.6 832.9 993.8 832.9C993.9 832.9 994.4 832.9 994.5 832.9C994.6 832.9 995.1 832.8 995.2 832.8C995.4 832.8 995.8 832.9 996 832.9C996.1 832.9 996.6 832.9 996.7 832.9C996.9 832.9 997.3 832.9 997.5 832.9C997.6 832.9 998.1 832.8 998.2 832.8C998.3 832.8 998.8 832.9 998.9 832.9C999.1 832.9 999.5 832.8 999.7 832.8C999.8 832.7 1000.3 832.8 1000.4 832.8C1000.6 832.8 1001 832.8 1001.2 832.9C1001.3 832.9 1001.8 832.9 1001.9 832.9C1002 832.9 1002.5 832.9 1002.6 832.9C1002.8 832.9 1003.2 832.9 1003.4 832.9C1003.5 832.9 1004 832.8 1004.1 832.8C1004.3 832.8 1004.7 832.8 1004.9 832.8C1005 832.8 1005.5 832.8 1005.6 832.8C1005.7 832.8 1006.2 832.9 1006.3 832.9C1006.5 832.9 1006.9 832.8 1007.1 832.8C1007.2 832.8 1007.7 832.8 1007.8 832.8C1008 832.8 1008.4 832.8 1008.6 832.7C1008.7 832.7 1009.2 832.8 1009.3 832.8C1009.4 832.8 1009.9 832.9 1010 832.9C1010.2 832.9 1010.6 832.8 1010.8 832.8C1010.9 832.8 1011.4 832.9 1011.5 832.9C1011.7 832.9 1012.1 833 1012.3 832.9C1012.4 832.9 1012.9 832.8 1013 832.8C1013.1 832.8 1013.6 832.8 1013.7 832.8C1013.9 832.8 1014.3 832.8 1014.5 832.8C1014.6 832.8 1015.1 832.8 1015.2 832.8C1015.4 832.8 1015.8 832.9 1016 832.9C1016.1 832.9 1016.6 832.8 1016.7 832.8C1016.8 832.8 1017.3 832.8 1017.4 832.8C1017.6 832.8 1018 832.9 1018.2 832.9C1018.3 832.9 1018.8 832.9 1018.9 832.9C1019.1 832.9 1019.5 832.8 1019.7 832.8C1019.8 832.8 1020.3 832.8 1020.4 832.8C1020.5 832.8 1021 832.9 1021.1 832.9C1021.3 832.9 1021.7 832.8 1021.9 832.8C1022 832.8 1022.5 832.8 1022.6 832.8C1022.8 832.8 1023.2 832.8 1023.4 832.8C1023.5 832.8 1024 832.8 1024.1 832.8C1024.2 832.8 1024.7 832.8 1024.8 832.8C1025 832.8 1025.4 832.8 1025.6 832.8C1025.7 832.9 1026.2 832.9 1026.3 832.9C1026.5 832.9 1026.9 832.9 1027.1 832.9C1027.2 832.9 1027.7 832.8 1027.8 832.8C1027.9 832.8 1028.4 832.9 1028.5 832.9C1028.7 832.9 1029.1 832.8 1029.3 832.8C1029.4 832.8 1029.9 832.8 1030 832.8C1030.2 832.8 1030.6 832.8 1030.8 832.8C1030.9 832.9 1031.4 832.9 1031.5 832.9C1031.6 832.9 1032.1 832.9 1032.2 832.9C1032.4 832.9 1032.8 832.9 1033 832.9C1033.1 832.9 1033.6 832.9 1033.7 832.9C1033.9 832.9 1034.3 832.9 1034.5 832.9C1034.6 832.9 1035.1 832.8 1035.2 832.8C1035.3 832.8 1035.8 832.9 1035.9 832.9C1036.1 832.9 1036.5 832.8 1036.7 832.8C1036.8 832.8 1037.3 832.9 1037.4 832.9C1037.6 832.9 1038 832.8 1038.2 832.8C1038.3 832.8 1038.8 832.9 1038.9 832.9C1039 832.9 1039.5 832.8 1039.6 832.8C1039.8 832.8 1040.2 832.8 1040.4 832.8C1040.5 832.8 1041 832.8 1041.1 832.8C1041.3 832.8 1041.7 832.9 1041.9 832.9C1042 832.9 1042.5 832.8 1042.6 832.8C1042.7 832.8 1043.2 832.9 1043.3 832.9C1043.5 832.9 1043.9 832.8 1044.1 832.8C1044.2 832.8 1044.7 832.8 1044.8 832.8C1045 832.8 1045.4 832.8 1045.6 832.8C1045.7 832.8 1046.2 832.9 1046.3 832.9C1046.4 832.9 1046.9 832.9 1047 832.9C1047.2 832.9 1047.6 832.8 1047.8 832.8C1047.9 832.8 1048.4 832.8 1048.5 832.8C1048.7 832.9 1049.1 832.9 1049.3 832.9C1049.4 832.9 1049.9 832.8 1050 832.8C1050.1 832.8 1050.6 832.8 1050.7 832.8C1050.9 832.8 1051.3 832.8 1051.5 832.8C1051.6 832.8 1052.1 832.8 1052.2 832.8C1052.4 832.8 1052.8 832.7 1053 832.8C1053.1 832.8 1053.6 832.9 1053.7 832.9C1053.8 832.9 1054.3 832.8 1054.4 832.8C1054.6 832.8 1055 832.9 1055.2 832.9C1055.3 832.9 1055.8 832.9 1055.9 832.9C1056.1 832.9 1056.5 832.9 1056.7 832.9C1056.8 832.9 1057.3 832.9 1057.4 832.9C1057.5 832.9 1058 832.9 1058.1 832.9C1058.3 832.9 1058.7 832.9 1058.9 832.9C1059 832.9 1059.5 832.9 1059.6 832.8C1059.8 832.8 1060.2 832.9 1060.4 832.9C1060.5 832.9 1061 832.8 1061.1 832.8C1061.2 832.8 1061.7 832.8 1061.8 832.8C1062 832.8 1062.4 832.8 1062.6 832.8C1062.7 832.8 1063.2 832.9 1063.3 832.9C1063.5 832.9 1063.9 832.9 1064.1 832.9C1064.2 832.9 1064.7 832.8 1064.8 832.8C1064.9 832.8 1065.4 832.9 1065.5 832.9C1065.7 832.9 1066.1 832.8 1066.3 832.8C1066.4 832.8 1066.9 832.9 1067 832.9C1067.2 832.9 1067.6 832.9 1067.8 832.9C1067.9 832.9 1068.4 832.9 1068.5 832.9C1068.6 832.9 1069.1 832.9 1069.2 832.9C1069.4 832.8 1069.8 832.8 1070 832.8C1070.1 832.8 1070.6 832.9 1070.7 832.9C1070.9 832.9 1071.3 832.8 1071.5 832.8C1071.6 832.8 1072.1 832.9 1072.2 832.9C1072.3 832.9 1072.8 832.8 1072.9 832.8C1073.1 832.8 1073.5 832.8 1073.7 832.8C1073.8 832.8 1074.3 832.8 1074.4 832.8C1074.6 832.8 1075 832.8 1075.2 832.8C1075.3 832.8 1075.8 832.8 1075.9 832.8C1076 832.8 1076.5 832.8 1076.6 832.8C1076.8 832.8 1077.2 832.8 1077.4 832.8C1077.5 832.8 1078 832.8 1078.1 832.8C1078.3 832.8 1078.7 832.8 1078.9 832.8C1079 832.8 1079.5 832.9 1079.6 832.9C1079.7 832.9 1080.2 832.8 1080.3 832.8C1080.5 832.8 1080.9 832.8 1081.1 832.8C1081.2 832.8 1081.7 832.9 1081.8 832.9C1082 832.9 1082.4 832.9 1082.6 832.9C1082.7 832.9 1083.2 832.9 1083.3 832.9C1083.4 832.9 1083.9 832.8 1084 832.8C1084.2 832.8 1084.6 832.8 1084.8 832.8C1084.9 832.8 1085.4 832.9 1085.5 832.9C1085.7 832.9 1086.1 832.9 1086.3 832.9C1086.4 832.9 1086.9 832.8 1087 832.8C1087.1 832.8 1087.6 832.8 1087.7 832.8C1087.9 832.8 1088.3 832.9 1088.5 832.9C1088.6 832.9 1089.1 832.8 1089.2 832.8C1089.4 832.8 1089.8 832.9 1090 832.9C1090.1 832.9 1090.6 832.9 1090.7 832.9C1090.8 832.9 1091.3 832.9 1091.4 832.9C1091.6 832.9 1092 832.8 1092.2 832.8C1092.3 832.8 1092.8 832.9 1092.9 832.9C1093.1 832.9 1093.5 832.9 1093.7 832.9C1093.8 832.9 1094.3 832.9 1094.4 832.9C1094.5 832.9 1095 832.9 1095.1 832.9C1095.3 832.9 1095.7 832.8 1095.9 832.8C1096 832.8 1096.5 832.8 1096.6 832.8C1096.8 832.8 1097.2 832.8 1097.4 832.8C1097.5 832.8 1098 832.9 1098.1 832.9C1098.2 833 1098.7 832.9 1098.8 832.9C1099 832.9 1099.4 832.8 1099.6 832.8C1099.7 832.8 1100.2 832.8 1100.3 832.8C1100.5 832.8 1100.9 832.9 1101.1 832.9C1101.2 832.9 1101.7 832.9 1101.8 832.9C1101.9 832.9 1102.4 832.9 1102.5 832.9C1102.7 832.9 1103.1 832.9 1103.3 832.9C1103.4 832.9 1103.9 832.9 1104 832.9C1104.2 832.9 1104.6 832.9 1104.8 832.9C1104.9 832.9 1105.4 832.8 1105.5 832.7C1105.6 832.7 1106.1 832.8 1106.2 832.8C1106.4 832.8 1106.8 832.9 1107 832.9C1107.1 833 1107.6 832.9 1107.7 832.9C1107.9 832.9 1108.3 832.8 1108.5 832.8C1108.6 832.8 1109.1 832.8 1109.2 832.8C1109.3 832.9 1109.8 832.8 1109.9 832.8C1110.1 832.8 1110.5 832.8 1110.7 832.8C1110.8 832.8 1111.3 832.8 1111.4 832.8C1111.6 832.9 1112 832.8 1112.2 832.8C1112.3 832.8 1112.8 832.8 1112.9 832.8C1113 832.8 1113.5 832.9 1113.6 832.9C1113.8 832.9 1114.2 832.8 1114.4 832.8C1114.5 832.8 1115 832.9 1115.1 832.9C1115.3 832.9 1115.7 832.9 1115.9 832.9C1116 832.9 1116.5 832.8 1116.6 832.8C1116.7 832.8 1117.2 832.8 1117.3 832.8C1117.5 832.8 1117.9 832.8 1118.1 832.8C1118.2 832.8 1118.7 832.9 1118.8 832.9C1119 832.9 1119.4 832.9 1119.6 832.9C1119.7 832.9 1120.2 832.9 1120.3 832.9C1120.4 832.9 1120.9 832.9 1121 832.9C1121.2 832.9 1121.6 832.8 1121.8 832.8C1121.9 832.8 1122.4 832.9 1122.5 832.9C1122.7 832.9 1123.1 832.9 1123.3 832.9C1123.4 832.9 1123.9 832.9 1124 832.9C1124.1 832.9 1124.6 832.9 1124.7 832.9C1124.9 832.9 1125.3 832.8 1125.5 832.8C1125.6 832.8 1126.1 832.9 1126.2 832.9C1126.4 832.9 1126.8 832.8 1127 832.8C1127.1 832.7 1127.6 832.8 1127.7 832.8C1127.8 832.8 1128.3 832.8 1128.4 832.8C1128.6 832.8 1129 832.9 1129.2 832.9C1129.3 832.9 1129.8 832.9 1129.9 832.9C1130.1 832.9 1130.5 832.9 1130.7 832.9C1130.8 832.9 1131.3 832.9 1131.4 832.9C1131.5 832.9 1132 832.8 1132.1 832.8C1132.3 832.8 1132.7 832.9 1132.9 832.9C1133 832.9 1133.5 832.8 1133.6 832.8C1133.8 832.8 1134.2 832.9 1134.4 832.9C1134.5 832.9 1135 832.8 1135.1 832.8C1135.2 832.8 1135.7 832.8 1135.8 832.8C1136 832.8 1136.4 832.8 1136.6 832.9C1136.7 832.9 1137.2 832.9 1137.3 832.9C1137.5 832.9 1137.9 832.8 1138.1 832.8C1138.2 832.7 1138.7 832.8 1138.8 832.8C1138.9 832.8 1139.4 832.8 1139.5 832.8C1139.7 832.9 1140.1 832.8 1140.3 832.8C1140.4 832.8 1140.9 832.9 1141 832.9C1141.2 832.9 1141.6 832.8 1141.8 832.8C1141.9 832.8 1142.4 832.9 1142.5 832.9C1142.6 832.9 1143.1 832.8 1143.2 832.8C1143.4 832.8 1143.8 832.9 1144 832.9C1144.1 832.9 1144.6 832.9 1144.7 832.9C1144.9 832.9 1145.3 832.9 1145.5 832.9C1145.6 832.9 1146.1 832.8 1146.2 832.8C1146.3 832.8 1146.8 832.9 1146.9 832.9C1147.1 832.9 1147.5 832.8 1147.7 832.8C1147.8 832.8 1148.3 832.9 1148.4 832.9C1148.6 832.9 1149 832.8 1149.2 832.8C1149.3 832.8 1149.8 832.9 1149.9 832.9C1150 832.9 1150.5 832.9 1150.6 832.9C1150.8 832.8 1151.2 832.8 1151.4 832.8C1151.5 832.8 1152 832.8 1152.1 832.8C1152.3 832.8 1152.7 832.8 1152.9 832.8C1153 832.8 1153.5 832.9 1153.6 832.9C1153.7 832.9 1154.2 832.8 1154.3 832.8C1154.5 832.8 1154.9 832.9 1155.1 832.9C1155.2 832.9 1155.7 832.9 1155.8 832.9C1156 832.9 1156.4 832.8 1156.6 832.8C1156.7 832.8 1157.2 832.8 1157.3 832.8C1157.4 832.8 1157.9 832.8 1158 832.8C1158.2 832.8 1158.6 832.8 1158.8 832.8C1158.9 832.8 1159.4 832.8 1159.5 832.8C1159.7 832.8 1160.1 832.8 1160.3 832.8C1160.4 832.8 1160.9 832.9 1161 832.9C1161.1 832.9 1161.6 832.9 1161.7 832.9C1161.9 832.9 1162.3 832.9 1162.5 832.9C1162.6 832.9 1163.1 832.9 1163.2 832.9C1163.4 832.9 1163.8 832.9 1164 832.9C1164.1 832.9 1164.6 832.9 1164.7 832.9C1164.8 832.9 1165.3 832.9 1165.4 832.9C1165.6 832.8 1166 832.8 1166.2 832.8C1166.3 832.8 1166.8 832.8 1166.9 832.8C1167.1 832.8 1167.5 832.9 1167.7 832.9C1167.8 832.9 1168.3 832.8 1168.4 832.8C1168.5 832.8 1169 832.7 1169.1 832.8C1169.3 832.8 1169.7 832.8 1169.9 832.8C1170 832.8 1170.5 832.9 1170.6 832.9C1170.8 832.9 1171.2 832.8 1171.4 832.8C1171.5 832.8 1172 832.8 1172.1 832.8C1172.2 832.9 1172.7 832.8 1172.8 832.8C1173 832.8 1173.4 832.8 1173.6 832.8C1173.7 832.8 1174.2 832.8 1174.3 832.8C1174.5 832.8 1174.9 832.8 1175.1 832.8C1175.2 832.8 1175.7 832.9 1175.8 832.9C1175.9 832.9 1176.4 832.8 1176.5 832.8C1176.7 832.8 1177.1 832.8 1177.3 832.8C1177.4 832.8 1177.9 832.8 1178 832.8C1178.2 832.8 1178.6 832.9 1178.8 832.9C1178.9 832.9 1179.4 832.8 1179.5 832.8C1179.6 832.8 1180.1 832.9 1180.2 832.9C1180.4 832.9 1180.8 832.9 1181 832.9C1181.1 832.9 1181.6 832.9 1181.7 832.9C1181.9 832.9 1182.3 832.8 1182.5 832.8C1182.6 832.8 1183.1 832.9 1183.2 832.9C1183.3 832.9 1183.8 832.9 1183.9 832.9C1184.1 832.9 1184.5 832.9 1184.7 832.9C1184.8 832.9 1185.3 832.8 1185.4 832.8C1185.6 832.8 1186 832.8 1186.2 832.8C1186.3 832.8 1186.8 832.8 1186.9 832.8C1187 832.8 1187.5 832.8 1187.6 832.8C1187.8 832.8 1188.2 832.8 1188.4 832.9C1188.5 832.9 1189 832.9 1189.1 832.9C1189.3 832.9 1189.7 832.9 1189.9 832.8C1190 832.8 1190.5 832.8 1190.6 832.8C1190.7 832.8 1191.2 832.8 1191.3 832.8C1191.5 832.8 1191.9 832.8 1192.1 832.8C1192.2 832.8 1192.7 832.8 1192.8 832.8C1193 832.8 1193.4 832.9 1193.6 832.9C1193.7 832.9 1194.2 832.8 1194.3 832.8C1194.4 832.8 1194.9 832.9 1195 832.9C1195.2 832.9 1195.6 832.9 1195.8 832.9C1195.9 832.9 1196.4 832.9 1196.5 832.9C1196.7 832.9 1197.1 832.9 1197.3 832.9C1197.4 832.9 1197.9 832.8 1198 832.8C1198.1 832.8 1198.6 832.9 1198.7 832.9C1198.9 832.9 1199.3 832.8 1199.5 832.8C1199.6 832.8 1200.1 832.8 1200.2 832.8C1200.4 832.8 1200.8 832.9 1201 832.9C1201.1 832.9 1201.6 832.8 1201.7 832.8C1201.8 832.8 1202.3 832.8 1202.4 832.8C1202.6 832.8 1203 832.8 1203.2 832.8C1203.3 832.8 1203.8 832.7 1203.9 832.8C1204.1 832.8 1204.5 832.8 1204.7 832.8C1204.8 832.8 1205.3 832.9 1205.4 832.9C1205.5 832.9 1206 832.8 1206.1 832.8C1206.3 832.8 1206.7 832.8 1206.9 832.8C1207 832.8 1207.5 832.9 1207.6 832.9C1207.8 832.9 1208.2 832.8 1208.4 832.8C1208.5 832.8 1209 832.9 1209.1 832.9C1209.2 832.9 1209.7 832.9 1209.8 832.9C1210 832.9 1210.4 832.8 1210.6 832.8C1210.7 832.8 1211.2 832.8 1211.3 832.8C1211.5 832.8 1211.9 832.9 1212.1 832.9C1212.2 832.9 1212.7 832.9 1212.8 832.9C1212.9 832.9 1213.4 832.9 1213.5 832.9C1213.7 832.9 1214.1 832.8 1214.3 832.8C1214.4 832.8 1214.9 832.8 1215 832.8C1215.2 832.8 1215.6 832.9 1215.8 832.9C1215.9 832.9 1216.4 832.9 1216.5 832.9C1216.6 832.9 1217.1 832.8 1217.2 832.8C1217.4 832.8 1217.8 832.8 1218 832.8C1218.1 832.8 1218.6 832.7 1218.7 832.8C1218.9 832.8 1219.3 832.9 1219.5 832.9C1219.6 832.9 1220.1 832.8 1220.2 832.8C1220.3 832.8 1220.8 832.8 1220.9 832.8C1221.1 832.8 1221.5 832.9 1221.7 832.9C1221.8 832.9 1222.3 832.8 1222.4 832.8C1222.6 832.8 1223 832.9 1223.2 832.9C1223.3 832.9 1223.8 832.8 1223.9 832.8C1224 832.8 1224.5 832.9 1224.6 832.9C1224.8 832.9 1225.2 833 1225.4 832.9C1225.5 832.9 1226 832.8 1226.1 832.8C1226.3 832.8 1226.7 832.7 1226.9 832.8C1227 832.8 1227.5 832.9 1227.6 832.9C1227.7 832.9 1228.2 832.8 1228.3 832.8C1228.5 832.8 1228.9 832.8 1229.1 832.8C1229.2 832.8 1229.7 832.9 1229.8 832.9C1230 832.9 1230.4 832.8 1230.6 832.8C1230.7 832.8 1231.2 832.9 1231.3 832.9C1231.4 832.9 1231.9 832.8 1232 832.8C1232.2 832.8 1232.6 832.8 1232.8 832.8C1232.9 832.7 1233.4 832.8 1233.5 832.8C1233.7 832.8 1234.1 832.9 1234.3 832.9C1234.4 832.9 1234.9 832.9 1235 832.9C1235.1 832.9 1235.6 832.9 1235.7 832.9C1235.9 832.9 1236.3 832.9 1236.5 832.9C1236.6 832.9 1237.1 832.9 1237.2 832.9C1237.4 832.9 1237.8 832.9 1238 832.8C1238.1 832.8 1238.6 832.8 1238.7 832.8C1238.8 832.8 1239.3 832.9 1239.4 832.9C1239.6 832.9 1240 832.8 1240.2 832.8C1240.3 832.8 1240.8 832.8 1240.9 832.8C1241.1 832.8 1241.5 832.8 1241.7 832.8C1241.8 832.8 1242.3 832.8 1242.4 832.8C1242.5 832.8 1243 834.2 1243.1 832.9C1243.3 831.6 1243.7 821.4 1243.9 820.1C1244 818.9 1244.5 818.9 1244.6 820.1C1244.8 821.4 1245.2 831.6 1245.4 832.9C1245.5 834.1 1246 832.9 1246.1 832.9C1246.2 832.9 1246.7 832.9 1246.8 832.9C1247 832.9 1247.4 832.8 1247.6 832.8C1247.7 832.8 1248.2 832.9 1248.3 832.9C1248.5 832.9 1248.9 832.9 1249.1 832.8C1249.2 832.8 1249.7 832.8 1249.8 832.8C1249.9 832.7 1250.4 832 1250.5 831.9C1250.7 831.8 1251.1 831.9 1251.3 831.9C1251.4 831.8 1251.9 831.7 1252 831.7C1252.2 831.7 1252.6 831.8 1252.8 831.9C1252.9 831.9 1253.4 832.1 1253.5 832.1C1253.6 832.1 1254.1 832.1 1254.2 832C1254.4 832 1254.8 832.1 1255 832C1255.1 832 1255.6 831.7 1255.7 831.7C1255.9 831.6 1256.3 831.6 1256.5 831.7C1256.6 831.7 1257.1 832.2 1257.2 832.2C1257.3 832.2 1257.8 831.7 1257.9 831.7C1258.1 831.7 1258.5 832 1258.7 832.1C1258.8 832.1 1259.3 832 1259.4 832C1259.6 832 1260 832 1260.2 832C1260.3 831.9 1260.8 831.7 1260.9 831.7C1261 831.7 1261.5 832.1 1261.6 832.2C1261.8 832.3 1262.2 832.7 1262.4 832.8C1262.5 832.9 1263 832.8 1263.1 832.8C1263.3 832.8 1263.7 832.8 1263.9 832.8C1264 832.8 1264.5 832.8 1264.6 832.8C1264.7 832.9 1265.2 832.9 1265.3 832.9C1265.5 832.9 1265.9 832.9 1266.1 832.9C1266.2 832.9 1266.7 832.9 1266.8 832.9C1267 832.9 1267.4 832.8 1267.6 832.8C1267.7 832.7 1268.2 832.8 1268.3 832.8C1268.4 832.8 1268.9 832.8 1269 832.8C1269.2 832.8 1269.6 832.8 1269.8 832.8C1269.9 832.8 1270.4 834 1270.5 832.8C1270.7 831.6 1271.1 821 1271.3 821C1271.4 821 1271.9 831.6 1272 832.8C1272.1 833.9 1272.6 832.9 1272.7 832.9C1272.9 832.9 1273.3 832.9 1273.5 832.9C1273.6 832.9 1274.1 834 1274.2 832.8C1274.4 831.6 1274.8 822.1 1275 820.9C1275.1 819.7 1275.6 819.7 1275.7 820.9C1275.8 822.1 1276.3 831.6 1276.4 832.8C1276.6 834 1277 834.1 1277.2 832.9C1277.3 831.7 1277.8 821.8 1277.9 820.5C1278.1 819.3 1278.5 819.3 1278.7 820.5C1278.8 821.8 1279.3 831.6 1279.4 832.8C1279.5 834.1 1280 832.9 1280.1 832.9C1280.3 832.9 1280.7 832.8 1280.9 832.8C1281 832.8 1281.5 832.8 1281.6 832.8C1281.8 832.8 1282.2 832.8 1282.4 832.9C1282.5 832.9 1283 832.9 1283.1 832.9C1283.2 832.9 1283.7 832.9 1283.8 832.9C1284 832.9 1284.4 832.9 1284.6 832.9C1284.7 832.9 1285.2 834 1285.3 832.7C1285.5 831.5 1285.9 820.8 1286.1 820.8C1286.2 820.8 1286.7 831.6 1286.8 832.8C1286.9 834 1287.4 832.8 1287.5 832.8C1287.7 832.8 1288.1 832.9 1288.3 832.9C1288.4 832.9 1288.9 834 1289 832.8C1289.2 831.6 1289.6 820.9 1289.8 820.9C1289.9 820.9 1290.4 831.7 1290.5 832.9C1290.6 834.1 1291.1 834.3 1291.2 832.9C1291.4 831.6 1291.8 819.2 1292 819.1C1292.1 819.1 1292.6 831.4 1292.7 832.8C1292.9 834.1 1293.3 832.8 1293.5 832.8C1293.6 832.8 1294.1 832.8 1294.2 832.9C1294.3 832.9 1294.8 832.8 1294.9 832.8C1295.1 832.8 1295.5 833 1295.7 832.9C1295.8 832.8 1296.3 832.3 1296.4 832.2C1296.6 832.1 1297 832 1297.2 832C1297.3 831.9 1297.8 831.8 1297.9 831.8C1298 831.8 1298.5 831.7 1298.6 831.7C1298.8 831.7 1299.2 831.6 1299.4 831.6C1299.5 831.7 1300 832 1300.1 832.1C1300.3 832.1 1300.7 832 1300.9 832C1301 832 1301.5 831.8 1301.6 831.8C1301.7 831.8 1302.2 831.7 1302.3 831.7C1302.5 831.7 1302.9 831.9 1303.1 831.9C1303.2 832 1303.7 832 1303.8 832C1304 832 1304.4 831.9 1304.6 832C1304.7 832.1 1305.2 832.7 1305.3 832.8C1305.4 832.8 1305.9 832.8 1306 832.8C1306.2 832.8 1306.6 832.9 1306.8 832.9C1306.9 833 1307.4 832.9 1307.5 832.9C1307.7 832.9 1308.1 832.8 1308.3 832.8C1308.4 832.8 1308.9 832.9 1309 832.9C1309.1 832.9 1309.6 832.9 1309.7 832.9C1309.9 832.9 1310.3 832.9 1310.5 832.9C1310.6 832.9 1311.1 832.8 1311.2 832.8C1311.4 832.8 1311.8 832.9 1312 832.9C1312.1 832.9 1312.6 832.8 1312.7 832.8C1312.8 832.8 1313.3 832.9 1313.4 832.9C1313.6 832.9 1314 832.8 1314.2 832.8C1314.3 832.8 1314.8 832.9 1314.9 832.9C1315.1 832.9 1315.5 832.8 1315.7 832.8C1315.8 832.8 1316.3 832.8 1316.4 832.8C1316.5 832.8 1317 832.9 1317.1 832.9C1317.3 832.9 1317.7 832.9 1317.9 832.9C1318 832.9 1318.5 832.8 1318.6 832.8C1318.8 832.8 1319.2 832.9 1319.4 832.9C1319.5 832.9 1320 832.9 1320.1 832.9C1320.2 832.9 1320.7 832.8 1320.8 832.8C1321 832.8 1321.4 832.8 1321.6 832.8C1321.7 832.8 1322.2 832.8 1322.3 832.8C1322.5 832.8 1322.9 832.8 1323.1 832.8C1323.2 832.8 1323.7 834.4 1323.8 832.8C1323.9 831.3 1324.4 818.8 1324.5 817.2C1324.7 815.7 1325.1 815.7 1325.3 817.2C1325.4 818.8 1325.9 831.4 1326 832.9C1326.2 834.5 1326.6 832.9 1326.8 832.9C1326.9 832.9 1327.4 832.8 1327.5 832.8C1327.6 832.8 1328.1 834.2 1328.2 832.9C1328.4 831.7 1328.8 821.7 1329 820.4C1329.1 819.1 1329.6 819.2 1329.7 820.4C1329.9 821.6 1330.3 831.5 1330.5 832.8C1330.6 834 1331.1 832.9 1331.2 832.9C1331.3 832.9 1331.8 832.8 1331.9 832.8C1332.1 832.8 1332.5 832.8 1332.7 832.8C1332.8 832.8 1333.3 832.8 1333.4 832.8C1333.6 832.8 1334 832.9 1334.2 832.9C1334.3 832.9 1334.8 832.8 1334.9 832.8C1335 832.8 1335.5 832.9 1335.6 832.9C1335.8 832.9 1336.2 832.8 1336.4 832.8C1336.5 832.8 1337 832.8 1337.1 832.8C1337.3 832.9 1337.7 832.8 1337.9 832.8C1338 832.8 1338.5 832.9 1338.6 832.9C1338.7 832.9 1339.2 832.8 1339.3 832.8C1339.5 832.8 1339.9 832.8 1340.1 832.8C1340.2 832.8 1340.7 832.9 1340.8 832.9C1341 832.9 1341.4 832.8 1341.6 832.8C1341.7 832.8 1342.2 832.8 1342.3 832.8C1342.4 832.8 1342.9 832.8 1343 832.8C1343.2 832.8 1343.6 832.8 1343.8 832.8C1343.9 832.8 1344.4 832.9 1344.5 832.9C1344.7 832.9 1345.1 832.8 1345.3 832.8C1345.4 832.8 1345.9 832.8 1346 832.8C1346.1 832.8 1346.6 832.8 1346.7 832.8C1346.9 832.8 1347.3 832.9 1347.5 832.9C1347.6 832.9 1348.1 832.9 1348.2 832.9C1348.4 832.8 1348.8 832.8 1349 832.8C1349.1 832.8 1349.6 832.9 1349.7 832.9C1349.8 832.9 1350.3 832.9 1350.4 832.9C1350.6 832.9 1351 832.8 1351.2 832.8C1351.3 832.8 1351.8 832.9 1351.9 832.9C1352.1 832.9 1352.5 832.9 1352.7 832.9C1352.8 832.8 1353.3 832.9 1353.4 832.8C1353.5 832.8 1354 832.8 1354.1 832.8C1354.3 832.8 1354.7 832.9 1354.9 832.9C1355 832.9 1355.5 832.9 1355.6 832.8C1355.8 832.8 1356.2 832.8 1356.4 832.8C1356.5 832.8 1357 832.8 1357.1 832.8C1357.2 832.8 1357.7 832.9 1357.8 832.9C1358 832.9 1358.4 832.8 1358.6 832.8C1358.7 832.8 1359.2 832.9 1359.3 832.9C1359.5 832.9 1359.9 832.9 1360.1 832.9C1360.2 832.9 1360.7 832.8 1360.8 832.8C1360.9 832.8 1361.4 832.8 1361.5 832.8C1361.7 832.8 1362.1 832.8 1362.3 832.8C1362.4 832.8 1362.9 832.9 1363 832.9C1363.2 832.9 1363.6 832.8 1363.8 832.8C1363.9 832.8 1364.4 832.8 1364.5 832.8C1364.6 832.9 1365.1 832.9 1365.2 832.9C1365.4 832.9 1365.8 832.8 1366 832.8C1366.1 832.8 1366.6 832.8 1366.7 832.8" fill="none" stroke="#ff4683" stroke-width="2" stroke-linejoin="round" clip-path="url(#cn)"/>
<path d="M828 832.5C828.1 832.3 828.6 830.2 828.7 830.2C828.9 830.2 829.3 832.1 829.5 832.3C829.6 832.5 830.1 832.4 830.2 832.5C830.4 832.5 830.8 833.1 831 832.5C831.1 831.9 831.6 826.9 831.7 826.3C831.8 825.7 832.3 825.6 832.4 826.3C832.6 826.9 833 832 833.2 832.6C833.3 833.2 833.8 832.5 833.9 832.5C834.1 832.5 834.5 832.8 834.7 832.8C834.8 832.8 835.3 832.7 835.4 832.7C835.5 832.7 836 833 836.1 832.8C836.3 832.6 836.7 831 836.9 831C837 830.9 837.5 832.4 837.6 832.6C837.8 832.8 838.2 832.8 838.4 832.8C838.5 832.8 839 832.5 839.1 832.5C839.2 832.5 839.7 832.8 839.8 832.8C840 832.8 840.4 832.7 840.6 832.7C840.7 832.7 841.2 832.5 841.3 832.4C841.5 832.4 841.9 833 842.1 832.6C842.2 832.3 842.7 829.6 842.8 829.2C842.9 828.9 843.4 828.9 843.5 829.2C843.7 829.5 844.1 832.2 844.3 832.5C844.4 832.8 844.9 832.3 845 832.3C845.2 832.3 845.6 832.5 845.8 832.5C845.9 832.6 846.4 832.8 846.5 832.8C846.6 832.8 847.1 832.6 847.2 832.6C847.4 832.6 847.8 832.8 848 832.7C848.1 832.5 848.6 831.2 848.7 831C848.9 830.9 849.3 831.4 849.5 831.5C849.6 831.6 850.1 832.4 850.2 832.5C850.3 832.6 850.8 832.4 850.9 832.4C851.1 832.4 851.5 832.6 851.7 832.6C851.8 832.6 852.3 832.3 852.4 832.3C852.6 832.3 853 832.5 853.2 832.5C853.3 832.5 853.8 833 853.9 832.4C854 831.8 854.5 826.9 854.6 826.3C854.8 825.7 855.2 825.6 855.4 826.3C855.5 826.9 856 832.2 856.1 832.8C856.3 833.4 856.7 832.5 856.9 832.5C857 832.5 857.5 832.9 857.6 832.9C857.7 832.8 858.2 832.5 858.3 832.3C858.5 832.1 858.9 830.8 859.1 830.7C859.2 830.6 859.7 831.1 859.8 831.3C860 831.4 860.4 832.3 860.6 832.4C860.7 832.5 861.2 832.3 861.3 832.4C861.4 832.4 861.9 832.8 862 832.9C862.2 832.9 862.6 832.7 862.8 832.7C862.9 832.6 863.4 832.8 863.5 832.6C863.7 832.5 864.1 831.5 864.3 831.6C864.4 831.6 864.9 832.7 865 832.8C865.1 832.9 865.6 832.4 865.7 832.4C865.9 832.3 866.3 832.4 866.5 832.5C866.6 832.5 867.1 832.8 867.2 832.8C867.4 832.8 867.8 832.7 868 832.7C868.1 832.7 868.6 832.9 868.7 832.9C868.8 832.9 869.3 832.7 869.4 832.7C869.6 832.7 870 833.1 870.2 832.8C870.3 832.6 870.8 830.2 870.9 830.2C871.1 830.1 871.5 832 871.7 832.3C871.8 832.5 872.3 832.8 872.4 832.8C872.5 832.9 873 832.8 873.1 832.5C873.3 832.3 873.7 830.4 873.9 830.4C874 830.4 874.5 832.5 874.6 832.7C874.8 832.9 875.2 832.4 875.4 832.3C875.5 832.3 876 832.3 876.1 832.3C876.2 832.3 876.7 833 876.8 832.4C877 831.9 877.4 827.5 877.6 827C877.7 826.4 878.2 826.4 878.3 827C878.5 827.6 878.9 832.3 879.1 832.8C879.2 833.4 879.7 832.7 879.8 832.6C879.9 832.4 880.4 831.3 880.5 831.3C880.7 831.3 881.1 832.1 881.3 832.3C881.4 832.4 881.9 832.8 882 832.8C882.2 832.8 882.6 832.3 882.8 832.3C882.9 832.3 883.4 832.5 883.5 832.5C883.6 832.5 884.1 832.5 884.2 832.5C884.4 832.6 884.8 832.5 885 832.5C885.1 832.5 885.6 832.6 885.7 832.6C885.9 832.6 886.3 832.7 886.5 832.7C886.6 832.7 887.1 832.7 887.2 832.7C887.3 832.6 887.8 832.3 887.9 832.3C888.1 832.3 888.5 832.6 888.7 832.6C888.8 832.6 889.3 832.6 889.4 832.5C889.6 832.4 890 831.7 890.2 831.7C890.3 831.8 890.8 832.4 890.9 832.5C891 832.6 891.5 833 891.6 832.5C891.8 831.9 892.2 827.2 892.4 827C892.5 826.8 893 829.9 893.1 830.5C893.3 831.1 893.7 832.6 893.9 832.8C894 833 894.5 832.6 894.6 832.6C894.7 832.6 895.2 832.6 895.3 832.6C895.5 832.6 895.9 832.7 896.1 832.7C896.2 832.7 896.7 832.9 896.8 832.9C897 832.8 897.4 832.4 897.6 832.4C897.7 832.4 898.2 832.8 898.3 832.8C898.4 832.8 898.9 832.8 899 832.7C899.2 832.7 899.6 832.8 899.8 832.8C899.9 832.8 900.4 832.6 900.5 832.6C900.7 832.6 901.1 832.8 901.3 832.7C901.4 832.5 901.9 830.7 902 830.7C902.1 830.7 902.6 832.5 902.7 832.7C902.9 832.8 903.3 832.5 903.5 832.4C903.6 832.4 904.1 832.5 904.2 832.5C904.4 832.5 904.8 832.7 905 832.5C905.1 832.3 905.6 830.4 905.7 830.4C905.8 830.4 906.3 832.4 906.4 832.6C906.6 832.9 907 832.9 907.2 832.7C907.3 832.4 907.8 830.2 907.9 830.2C908.1 830.2 908.5 832.3 908.7 832.5C908.8 832.7 909.3 832.4 909.4 832.4C909.5 832.4 910 832.5 910.1 832.5C910.3 832.5 910.7 832.4 910.9 832.4C911 832.4 911.5 832.4 911.6 832.5C911.8 832.5 912.2 832.6 912.4 832.6C912.5 832.6 913 832.4 913.1 832.3C913.2 832.3 913.7 832.3 913.8 832.3C914 832.3 914.4 832.9 914.6 832.7C914.7 832.5 915.2 830.5 915.3 830.4C915.5 830.3 915.9 831.7 916.1 831.7C916.2 831.6 916.7 830 916.8 830.1C916.9 830.2 917.4 832.5 917.5 832.7C917.7 833 918.1 832.6 918.3 832.5C918.4 832.5 918.9 832.6 919 832.6C919.2 832.6 919.6 833 919.8 832.7C919.9 832.5 920.4 830.1 920.5 830.1C920.6 830.1 921.1 832.4 921.2 832.6C921.4 832.8 921.8 832.3 922 832.3C922.1 832.4 922.6 832.8 922.7 832.8C922.9 832.8 923.3 832.9 923.5 832.7C923.6 832.5 924.1 831.3 924.2 831.3C924.3 831.3 924.8 832.7 924.9 832.8C925.1 833 925.5 832.9 925.7 832.8C925.8 832.8 926.3 832.6 926.4 832.6C926.6 832.5 927 832.6 927.2 832.6C927.3 832.6 927.8 832.8 927.9 832.8C928 832.8 928.5 832.4 928.6 832.4C928.8 832.4 929.2 832.6 929.4 832.6C929.5 832.6 930 832.3 930.1 832.3C930.3 832.3 930.7 832.6 930.9 832.6C931 832.7 931.5 833 931.6 832.8C931.7 832.6 932.2 830.7 932.3 830.7C932.5 830.7 932.9 832.6 933.1 832.8C933.2 833 933.7 832.9 933.8 832.7C934 832.5 934.4 830.8 934.6 830.7C934.7 830.7 935.2 832.2 935.3 832.3C935.4 832.5 935.9 832.3 936 832.3C936.2 832.4 936.6 832.7 936.8 832.8C936.9 832.8 937.4 832.6 937.5 832.5C937.7 832.3 938.1 831.1 938.3 831C938.4 830.9 938.9 831.3 939 831.4C939.1 831.6 939.6 832.4 939.7 832.3C939.9 832.2 940.3 830.5 940.5 830.6C940.6 830.6 941.1 832.5 941.2 832.7C941.4 832.9 941.8 832.8 942 832.6C942.1 832.3 942.6 830.4 942.7 830.4C942.8 830.5 943.3 832.5 943.4 832.8C943.6 833 944 832.8 944.2 832.8C944.3 832.8 944.8 832.7 944.9 832.7C945.1 832.7 945.5 833 945.7 832.8C945.8 832.5 946.3 830.5 946.4 830.3C946.5 830.1 947 830.6 947.1 830.7C947.3 830.7 947.7 830.8 947.9 831C948 831.2 948.5 832.4 948.6 832.6C948.8 832.8 949.2 832.9 949.4 832.9C949.5 832.8 950 832.4 950.1 832.3C950.2 832.3 950.7 832.2 950.8 832.3C951 832.3 951.4 832.8 951.6 832.8C951.7 832.8 952.2 832.4 952.3 832.4C952.5 832.3 952.9 832.4 953.1 832.4C953.2 832.4 953.7 832.6 953.8 832.6C953.9 832.6 954.4 832.6 954.5 832.6C954.7 832.5 955.1 832.3 955.3 832.3C955.4 832.3 955.9 832.4 956 832.4C956.2 832.5 956.6 832.6 956.8 832.6C956.9 832.6 957.4 832.3 957.5 832.3C957.6 832.3 958.1 832.8 958.2 832.8C958.4 832.8 958.8 832.7 959 832.3C959.1 832 959.6 829.4 959.7 829.1C959.9 828.8 960.3 828.7 960.5 829.1C960.6 829.5 961.1 832.6 961.2 832.8C961.3 833 961.8 831.4 961.9 831.4C962.1 831.3 962.5 832.3 962.7 832.4C962.8 832.5 963.3 832.4 963.4 832.4C963.6 832.3 964 832.2 964.2 832.2C964.3 832.2 964.8 832.3 964.9 832.4C965 832.5 965.5 832.8 965.6 832.8C965.8 832.8 966.2 832.4 966.4 832.4C966.5 832.4 967 832.8 967.1 832.8C967.3 832.9 967.7 832.7 967.9 832.6C968 832.6 968.5 832.6 968.6 832.6C968.7 832.6 969.2 832.4 969.3 832.4C969.5 832.3 969.9 832.2 970.1 832.3C970.2 832.3 970.7 832.9 970.8 832.8C971 832.7 971.4 831.3 971.6 831.3C971.7 831.2 972.2 832.6 972.3 832.6C972.4 832.6 972.9 831.3 973 831.2C973.2 831 973.6 831.2 973.8 831.1C973.9 831 974.4 830 974.5 829.9C974.7 829.8 975.1 829.9 975.3 830.1C975.4 830.4 975.9 832.2 976 832.5C976.1 832.7 976.6 832.7 976.7 832.7C976.9 832.7 977.3 832.7 977.5 832.5C977.6 832.3 978.1 830.5 978.2 830.5C978.4 830.5 978.8 832.2 979 832.4C979.1 832.6 979.6 832.5 979.7 832.5C979.8 832.4 980.3 832.5 980.4 832.3C980.6 832.1 981 830.3 981.2 830.3C981.3 830.3 981.8 832.6 981.9 832.6C982.1 832.5 982.5 830.1 982.7 829.8C982.8 829.6 983.3 829.9 983.4 830.2C983.5 830.4 984 832.4 984.1 832.4C984.3 832.4 984.7 830.2 984.9 830.2C985 830.2 985.5 832.4 985.6 832.4C985.8 832.3 986.2 829.7 986.4 829.7C986.5 829.8 987 832.4 987.1 832.7C987.2 833 987.7 833 987.8 832.8C988 832.5 988.4 830.3 988.6 830.2C988.7 830.2 989.2 832.2 989.3 832.4C989.5 832.6 989.9 832.4 990.1 832.4C990.2 832.4 990.7 832.4 990.8 832.4C990.9 832.4 991.4 832.7 991.5 832.7C991.7 832.6 992.1 831.6 992.3 831.5C992.4 831.5 992.9 832.3 993 832.4C993.2 832.5 993.6 832.4 993.8 832.4C993.9 832.4 994.4 832.5 994.5 832.5C994.6 832.5 995.1 832.3 995.2 832.3C995.4 832.3 995.8 832.5 996 832.5C996.1 832.5 996.6 832.3 996.7 832.3C996.9 832.3 997.3 832.7 997.5 832.7C997.6 832.7 998.1 832.4 998.2 832.3C998.3 832.3 998.8 832.2 998.9 832.3C999.1 832.3 999.5 832.7 999.7 832.7C999.8 832.7 1000.3 832.5 1000.4 832.5C1000.6 832.5 1001 832.6 1001.2 832.6C1001.3 832.5 1001.8 832.3 1001.9 832.3C1002 832.2 1002.5 832.7 1002.6 832.5C1002.8 832.2 1003.2 830.1 1003.4 830C1003.5 829.8 1004 830.9 1004.1 831.1C1004.3 831.4 1004.7 832.7 1004.9 832.5C1005 832.4 1005.5 829.9 1005.6 830C1005.7 830 1006.2 832.6 1006.3 832.8C1006.5 833.1 1006.9 832.8 1007.1 832.6C1007.2 832.4 1007.7 831 1007.8 831C1008 831 1008.4 832.4 1008.6 832.6C1008.7 832.8 1009.2 832.8 1009.3 832.8C1009.4 832.8 1009.9 832.4 1010 832.3C1010.2 832.3 1010.6 832.7 1010.8 832.7C1010.9 832.7 1011.4 832.5 1011.5 832.4C1011.7 832.2 1012.1 831.5 1012.3 831.5C1012.4 831.6 1012.9 832.5 1013 832.6C1013.1 832.7 1013.6 832.9 1013.7 832.6C1013.9 832.3 1014.3 829.8 1014.5 829.5C1014.6 829.2 1015.1 829.2 1015.2 829.5C1015.4 829.8 1015.8 832.2 1016 832.3C1016.1 832.5 1016.6 831.2 1016.7 831C1016.8 830.8 1017.3 829.9 1017.4 830.1C1017.6 830.3 1018 832.6 1018.2 832.8C1018.3 833.1 1018.8 832.7 1018.9 832.7C1019.1 832.7 1019.5 832.8 1019.7 832.8C1019.8 832.8 1020.3 832.6 1020.4 832.6C1020.5 832.5 1021 832.3 1021.1 832.3C1021.3 832.3 1021.7 832.6 1021.9 832.7C1022 832.7 1022.5 832.9 1022.6 832.7C1022.8 832.5 1023.2 830.7 1023.4 830.7C1023.5 830.7 1024 832.6 1024.1 832.8C1024.2 833 1024.7 832.5 1024.8 832.5C1025 832.5 1025.4 832.6 1025.6 832.6C1025.7 832.6 1026.2 832.8 1026.3 832.6C1026.5 832.5 1026.9 831.2 1027.1 831.2C1027.2 831.1 1027.7 832.2 1027.8 832.4C1027.9 832.5 1028.4 832.5 1028.5 832.5C1028.7 832.6 1029.1 832.8 1029.3 832.7C1029.4 832.6 1029.9 831.4 1030 831.3C1030.2 831.1 1030.6 830.9 1030.8 831C1030.9 831.2 1031.4 832.3 1031.5 832.5C1031.6 832.6 1032.1 832.5 1032.2 832.2C1032.4 832 1032.8 830 1033 829.9C1033.1 829.8 1033.6 830.8 1033.7 831C1033.9 831.3 1034.3 832.7 1034.5 832.7C1034.6 832.6 1035.1 830.7 1035.2 830.6C1035.3 830.5 1035.8 831.6 1035.9 831.8C1036.1 832 1036.5 832.6 1036.7 832.5C1036.8 832.5 1037.3 831.2 1037.4 831C1037.6 830.9 1038 831 1038.2 831C1038.3 831 1038.8 831 1038.9 831C1039 830.9 1039.5 830.7 1039.6 830.7C1039.8 830.6 1040.2 830.4 1040.4 830.6C1040.5 830.8 1041 832.6 1041.1 832.8C1041.3 833 1041.7 832.9 1041.9 832.6C1042 832.4 1042.5 830.4 1042.6 830.4C1042.7 830.4 1043.2 832.5 1043.3 832.5C1043.5 832.5 1043.9 830.3 1044.1 830.3C1044.2 830.3 1044.7 832.8 1044.8 832.6C1045 832.4 1045.4 828.8 1045.6 828.4C1045.7 828 1046.2 828 1046.3 828.4C1046.4 828.8 1046.9 832.3 1047 832.6C1047.2 832.8 1047.6 831.1 1047.8 830.9C1047.9 830.8 1048.4 830.5 1048.5 830.7C1048.7 830.9 1049.1 832.7 1049.3 832.8C1049.4 833 1049.9 832.5 1050 832.3C1050.1 832.1 1050.6 830.8 1050.7 830.9C1050.9 830.9 1051.3 832.7 1051.5 832.8C1051.6 832.9 1052.1 832.3 1052.2 832.2C1052.4 832.2 1052.8 832.4 1053 832.4C1053.1 832.5 1053.6 833 1053.7 832.8C1053.8 832.7 1054.3 831.2 1054.4 831.1C1054.6 831.1 1055 832.2 1055.2 832.4C1055.3 832.5 1055.8 832.7 1055.9 832.7C1056.1 832.7 1056.5 832.8 1056.7 832.5C1056.8 832.3 1057.3 829.8 1057.4 829.8C1057.5 829.9 1058 832.6 1058.1 832.9C1058.3 833.1 1058.7 832.7 1058.9 832.6C1059 832.6 1059.5 832.7 1059.6 832.5C1059.8 832.3 1060.2 830.4 1060.4 830.4C1060.5 830.4 1061 832.2 1061.1 832.4C1061.2 832.6 1061.7 832.6 1061.8 832.5C1062 832.4 1062.4 831.4 1062.6 831.4C1062.7 831.4 1063.2 832.4 1063.3 832.5C1063.5 832.6 1063.9 832.3 1064.1 832.2C1064.2 832.1 1064.7 831.4 1064.8 831.4C1064.9 831.5 1065.4 832.5 1065.5 832.6C1065.7 832.7 1066.1 832.5 1066.3 832.3C1066.4 832.1 1066.9 830.7 1067 830.7C1067.2 830.7 1067.6 832.5 1067.8 832.6C1067.9 832.8 1068.4 832.3 1068.5 832.3C1068.6 832.2 1069.1 832.6 1069.2 832.6C1069.4 832.6 1069.8 832.5 1070 832.3C1070.1 832 1070.6 830 1070.7 829.7C1070.9 829.5 1071.3 830.4 1071.5 830.1C1071.6 829.8 1072.1 826.9 1072.2 826.9C1072.3 826.9 1072.8 829.5 1072.9 830.1C1073.1 830.7 1073.5 840 1073.7 832.6C1073.8 825.2 1074.3 756.3 1074.4 756.3C1074.6 756.3 1075 824.7 1075.2 832.3C1075.3 839.9 1075.8 832.7 1075.9 832.6C1076 832.4 1076.5 830.9 1076.6 830.9C1076.8 830.9 1077.2 832.6 1077.4 832.8C1077.5 832.9 1078 832.5 1078.1 832.5C1078.3 832.4 1078.7 832.3 1078.9 832.3C1079 832.4 1079.5 832.7 1079.6 832.8C1079.7 832.8 1080.2 832.9 1080.3 832.7C1080.5 832.4 1080.9 830.3 1081.1 830.3C1081.2 830.3 1081.7 832.5 1081.8 832.7C1082 832.9 1082.4 832.8 1082.6 832.6C1082.7 832.3 1083.2 830.2 1083.3 830.1C1083.4 829.9 1083.9 830.6 1084 830.8C1084.2 831.1 1084.6 832.1 1084.8 832.3C1084.9 832.5 1085.4 832.6 1085.5 832.7C1085.7 832.7 1086.1 832.9 1086.3 832.7C1086.4 832.5 1086.9 830.3 1087 830.3C1087.1 830.3 1087.6 832.6 1087.7 832.8C1087.9 833.1 1088.3 832.6 1088.5 832.5C1088.6 832.3 1089.1 831.6 1089.2 831.5C1089.4 831.4 1089.8 831.6 1090 831.5C1090.1 831.4 1090.6 830.6 1090.7 830.7C1090.8 830.7 1091.3 832.2 1091.4 832.3C1091.6 832.4 1092 831.5 1092.2 831.5C1092.3 831.5 1092.8 832.4 1092.9 832.5C1093.1 832.6 1093.5 832.8 1093.7 832.8C1093.8 832.7 1094.3 832.5 1094.4 832.3C1094.5 832.1 1095 830.7 1095.1 830.8C1095.3 830.8 1095.7 832.5 1095.9 832.7C1096 832.9 1096.5 832.8 1096.6 832.8C1096.8 832.8 1097.2 832.5 1097.4 832.5C1097.5 832.4 1098 832.4 1098.1 832.4C1098.2 832.4 1098.7 832.6 1098.8 832.3C1099 832 1099.4 829.8 1099.6 829.5C1099.7 829.2 1100.2 829.2 1100.3 829.5C1100.5 829.8 1100.9 832.7 1101.1 832.8C1101.2 832.9 1101.7 831.1 1101.8 830.8C1101.9 830.5 1102.4 829.7 1102.5 829.6C1102.7 829.5 1103.1 829.7 1103.3 830C1103.4 830.2 1103.9 832.1 1104 832.2C1104.2 832.3 1104.6 831 1104.8 830.9C1104.9 830.8 1105.4 831.1 1105.5 831.3C1105.6 831.5 1106.1 832.4 1106.2 832.5C1106.4 832.7 1106.8 832.6 1107 832.6C1107.1 832.6 1107.6 832.5 1107.7 832.5C1107.9 832.5 1108.3 832.9 1108.5 832.8C1108.6 832.6 1109.1 831.1 1109.2 831.1C1109.3 831.1 1109.8 832.6 1109.9 832.7C1110.1 832.8 1110.5 832.4 1110.7 832.4C1110.8 832.3 1111.3 832.5 1111.4 832.5C1111.6 832.5 1112 832.3 1112.2 832.3C1112.3 832.4 1112.8 832.8 1112.9 832.8C1113 832.7 1113.5 832.2 1113.6 832.2C1113.8 832.2 1114.2 832.8 1114.4 832.8C1114.5 832.9 1115 832.9 1115.1 832.7C1115.3 832.5 1115.7 831.1 1115.9 831.1C1116 831.1 1116.5 832.2 1116.6 832.4C1116.7 832.5 1117.2 832.7 1117.3 832.7C1117.5 832.7 1117.9 832.7 1118.1 832.7C1118.2 832.7 1118.7 832.9 1118.8 832.7C1119 832.5 1119.4 830.5 1119.6 830.5C1119.7 830.4 1120.2 832.5 1120.3 832.5C1120.4 832.5 1120.9 830.3 1121 830.2C1121.2 830.1 1121.6 831.1 1121.8 831.3C1121.9 831.5 1122.4 832.6 1122.5 832.7C1122.7 832.8 1123.1 832.3 1123.3 832.2C1123.4 832.2 1123.9 832.6 1124 832.7C1124.1 832.7 1124.6 832.6 1124.7 832.6C1124.9 832.6 1125.3 832.7 1125.5 832.6C1125.6 832.6 1126.1 832.3 1126.2 832.3C1126.4 832.3 1126.8 832.3 1127 832.3C1127.1 832.3 1127.6 833 1127.7 832.8C1127.8 832.6 1128.3 830.5 1128.4 830.3C1128.6 830.1 1129 830.2 1129.2 830.5C1129.3 830.7 1129.8 832.6 1129.9 832.8C1130.1 832.9 1130.5 832.3 1130.7 832.3C1130.8 832.3 1131.3 832.9 1131.4 832.7C1131.5 832.5 1132 830.4 1132.1 830.4C1132.3 830.3 1132.7 832.2 1132.9 832.3C1133 832.4 1133.5 831.3 1133.6 831.3C1133.8 831.3 1134.2 832.1 1134.4 832.2C1134.5 832.4 1135 832.4 1135.1 832.5C1135.2 832.5 1135.7 832.5 1135.8 832.5C1136 832.5 1136.4 832.7 1136.6 832.7C1136.7 832.7 1137.2 832.5 1137.3 832.6C1137.5 832.6 1137.9 833.1 1138.1 832.8C1138.2 832.5 1138.7 829.7 1138.8 829.6C1138.9 829.5 1139.4 831.4 1139.5 831.5C1139.7 831.6 1140.1 831 1140.3 830.8C1140.4 830.5 1140.9 828.7 1141 828.8C1141.2 828.9 1141.6 831.1 1141.8 831.5C1141.9 831.8 1142.4 832.2 1142.5 832.4C1142.6 832.5 1143.1 832.7 1143.2 832.7C1143.4 832.8 1143.8 832.9 1144 832.7C1144.1 832.4 1144.6 830.2 1144.7 830.2C1144.9 830.2 1145.3 832.4 1145.5 832.6C1145.6 832.9 1146.1 832.7 1146.2 832.6C1146.3 832.6 1146.8 832.6 1146.9 832.3C1147.1 832.1 1147.5 830 1147.7 830.1C1147.8 830.1 1148.3 832.7 1148.4 832.9C1148.6 833 1149 831.5 1149.2 831.5C1149.3 831.4 1149.8 832.3 1149.9 832.3C1150 832.3 1150.5 831.7 1150.6 831.7C1150.8 831.7 1151.2 832.4 1151.4 832.5C1151.5 832.5 1152 832.3 1152.1 832.3C1152.3 832.3 1152.7 832.5 1152.9 832.5C1153 832.4 1153.5 831.8 1153.6 831.6C1153.7 831.4 1154.2 830.4 1154.3 830.5C1154.5 830.7 1154.9 832.4 1155.1 832.6C1155.2 832.9 1155.7 832.8 1155.8 832.6C1156 832.5 1156.4 831.2 1156.6 831.2C1156.7 831.2 1157.2 832.5 1157.3 832.6C1157.4 832.8 1157.9 832.5 1158 832.5C1158.2 832.5 1158.6 832.8 1158.8 832.8C1158.9 832.8 1159.4 832.4 1159.5 832.4C1159.7 832.4 1160.1 832.7 1160.3 832.7C1160.4 832.7 1160.9 832.6 1161 832.5C1161.1 832.5 1161.6 832.4 1161.7 832.4C1161.9 832.4 1162.3 832.4 1162.5 832.5C1162.6 832.5 1163.1 832.6 1163.2 832.6C1163.4 832.6 1163.8 832.6 1164 832.6C1164.1 832.6 1164.6 832.8 1164.7 832.6C1164.8 832.4 1165.3 830.7 1165.4 830.7C1165.6 830.7 1166 832.7 1166.2 832.7C1166.3 832.6 1166.8 830.1 1166.9 830C1167.1 829.8 1167.5 830.9 1167.7 831.2C1167.8 831.5 1168.3 832.8 1168.4 832.8C1168.5 832.8 1169 831.4 1169.1 831.1C1169.3 830.9 1169.7 830.2 1169.9 830.3C1170 830.5 1170.5 832.2 1170.6 832.4C1170.8 832.6 1171.2 832.7 1171.4 832.7C1171.5 832.7 1172 832.5 1172.1 832.5C1172.2 832.5 1172.7 833 1172.8 832.8C1173 832.7 1173.4 831.1 1173.6 831.1C1173.7 831 1174.2 832.3 1174.3 832.3C1174.5 832.3 1174.9 831.5 1175.1 831.2C1175.2 831 1175.7 830 1175.8 830C1175.9 830 1176.4 830.9 1176.5 831C1176.7 831 1177.1 830.4 1177.3 830.6C1177.4 830.7 1177.9 832.5 1178 832.6C1178.2 832.6 1178.6 831.3 1178.8 831.3C1178.9 831.3 1179.4 832.2 1179.5 832.3C1179.6 832.4 1180.1 832.5 1180.2 832.3C1180.4 832.1 1180.8 831.5 1181 830.7C1181.1 829.9 1181.6 824.4 1181.7 824.6C1181.9 824.8 1182.3 831.7 1182.5 832.3C1182.6 833 1183.1 831.1 1183.2 831.1C1183.3 831.1 1183.8 832.2 1183.9 832.3C1184.1 832.5 1184.5 832.8 1184.7 832.8C1184.8 832.8 1185.3 832.5 1185.4 832.5C1185.6 832.4 1186 832.5 1186.2 832.5C1186.3 832.5 1186.8 832.7 1186.9 832.5C1187 832.4 1187.5 831 1187.6 831C1187.8 831 1188.2 832.2 1188.4 832.3C1188.5 832.5 1189 832.7 1189.1 832.7C1189.3 832.7 1189.7 832.8 1189.9 832.7C1190 832.6 1190.5 831.5 1190.6 831.5C1190.7 831.5 1191.2 832.7 1191.3 832.8C1191.5 832.9 1191.9 832.8 1192.1 832.6C1192.2 832.4 1192.7 831.2 1192.8 831C1193 830.8 1193.4 830.7 1193.6 830.7C1193.7 830.6 1194.2 830.3 1194.3 830.5C1194.4 830.7 1194.9 832.9 1195 832.7C1195.2 832.4 1195.6 828.2 1195.8 828.2C1195.9 828.3 1196.4 832.3 1196.5 832.8C1196.7 833.3 1197.1 832.9 1197.3 832.9C1197.4 832.8 1197.9 832.5 1198 832.4C1198.1 832.4 1198.6 832.6 1198.7 832.6C1198.9 832.7 1199.3 832.8 1199.5 832.8C1199.6 832.8 1200.1 832.7 1200.2 832.7C1200.4 832.7 1200.8 833 1201 832.8C1201.1 832.5 1201.6 830.3 1201.7 830.3C1201.8 830.3 1202.3 832.5 1202.4 832.6C1202.6 832.7 1203 831.8 1203.2 831.8C1203.3 831.7 1203.8 832.2 1203.9 832.3C1204.1 832.4 1204.5 832.6 1204.7 832.6C1204.8 832.6 1205.3 832.8 1205.4 832.7C1205.5 832.6 1206 831.2 1206.1 831.2C1206.3 831.2 1206.7 832.9 1206.9 832.8C1207 832.7 1207.5 830.1 1207.6 830C1207.8 830 1208.2 832.2 1208.4 832.5C1208.5 832.7 1209 832.4 1209.1 832.3C1209.2 832.2 1209.7 831.6 1209.8 831.7C1210 831.7 1210.4 832.7 1210.6 832.7C1210.7 832.8 1211.2 832.3 1211.3 832.3C1211.5 832.3 1211.9 832.4 1212.1 832.4C1212.2 832.4 1212.7 832.6 1212.8 832.6C1212.9 832.6 1213.4 832.7 1213.5 832.5C1213.7 832.4 1214.1 831.2 1214.3 831.1C1214.4 831.1 1214.9 832.3 1215 832.4C1215.2 832.5 1215.6 832.5 1215.8 832.3C1215.9 832.1 1216.4 830 1216.5 830.1C1216.6 830.1 1217.1 832.5 1217.2 832.7C1217.4 832.9 1217.8 832.3 1218 832.3C1218.1 832.3 1218.6 832.6 1218.7 832.7C1218.9 832.7 1219.3 832.4 1219.5 832.4C1219.6 832.4 1220.1 833 1220.2 832.8C1220.3 832.6 1220.8 830.5 1220.9 830.2C1221.1 830 1221.5 830.2 1221.7 830.2C1221.8 830.2 1222.3 830.4 1222.4 830.1C1222.6 829.9 1223 827.9 1223.2 827.7C1223.3 827.4 1223.8 827.3 1223.9 827.7C1224 828 1224.5 830.6 1224.6 831.1C1224.8 831.6 1225.2 832.2 1225.4 832.3C1225.5 832.5 1226 832.6 1226.1 832.6C1226.3 832.5 1226.7 831.7 1226.9 831.7C1227 831.7 1227.5 832.4 1227.6 832.5C1227.7 832.6 1228.2 832.4 1228.3 832.4C1228.5 832.4 1228.9 832.7 1229.1 832.7C1229.2 832.7 1229.7 832.6 1229.8 832.6C1230 832.6 1230.4 832.5 1230.6 832.5C1230.7 832.5 1231.2 832.3 1231.3 832.3C1231.4 832.3 1231.9 832.5 1232 832.6C1232.2 832.6 1232.6 832.6 1232.8 832.6C1232.9 832.6 1233.4 832.6 1233.5 832.6C1233.7 832.5 1234.1 832.4 1234.3 832.3C1234.4 832.1 1234.9 831.1 1235 831.1C1235.1 831.1 1235.6 832.4 1235.7 832.6C1235.9 832.7 1236.3 832.6 1236.5 832.5C1236.6 832.5 1237.1 832.3 1237.2 832.4C1237.4 832.4 1237.8 832.7 1238 832.7C1238.1 832.7 1238.6 833.1 1238.7 832.7C1238.8 832.3 1239.3 829.2 1239.4 828.8C1239.6 828.4 1240 828.5 1240.2 828.8C1240.3 829.1 1240.8 831.7 1240.9 831.7C1241.1 831.8 1241.5 829.6 1241.7 829.7C1241.8 829.8 1242.3 832.3 1242.4 832.6C1242.5 832.8 1243 832.5 1243.1 832.5C1243.3 832.5 1243.7 832.6 1243.9 832.5C1244 832.4 1244.5 831.7 1244.6 831.5C1244.8 831.4 1245.2 831.2 1245.4 831.1C1245.5 830.9 1246 829.9 1246.1 829.9C1246.2 829.9 1246.7 831.6 1246.8 830.9C1247 830.2 1247.4 823.1 1247.6 823.2C1247.7 823.3 1248.2 830.7 1248.3 831.6C1248.5 832.6 1248.9 832.6 1249.1 832.7C1249.2 832.8 1249.7 832.7 1249.8 832.7C1249.9 832.7 1250.4 832.6 1250.5 832.5C1250.7 832.5 1251.1 832.6 1251.3 832.2C1251.4 831.8 1251.9 828.6 1252 828.5C1252.2 828.5 1252.6 831.2 1252.8 831.6C1252.9 832.1 1253.4 832.8 1253.5 832.8C1253.6 832.9 1254.1 832.6 1254.2 832.5C1254.4 832.5 1254.8 832.5 1255 832.3C1255.1 832.2 1255.6 831.2 1255.7 831C1255.9 830.9 1256.3 830.9 1256.5 830.9C1256.6 831 1257.1 831.4 1257.2 831.3C1257.3 831.3 1257.8 830.2 1257.9 830.3C1258.1 830.5 1258.5 832.4 1258.7 832.5C1258.8 832.6 1259.3 831.1 1259.4 830.9C1259.6 830.8 1260 831.1 1260.2 831.2C1260.3 831.4 1260.8 832.4 1260.9 832.5C1261 832.6 1261.5 832.4 1261.6 832.3C1261.8 832.3 1262.2 832.4 1262.4 832.4C1262.5 832.5 1263 832.7 1263.1 832.8C1263.3 832.8 1263.7 832.8 1263.9 832.8C1264 832.8 1264.5 832.9 1264.6 832.8C1264.7 832.8 1265.2 832.4 1265.3 832.3C1265.5 832.3 1265.9 832.3 1266.1 832.3C1266.2 832.3 1266.7 832.7 1266.8 832.3C1267 831.9 1267.4 828.5 1267.6 828.1C1267.7 827.7 1268.2 827.7 1268.3 828.1C1268.4 828.5 1268.9 831.9 1269 832.3C1269.2 832.8 1269.6 832.2 1269.8 832.2C1269.9 832.3 1270.4 832.4 1270.5 832.4C1270.7 832.3 1271.1 831.6 1271.3 831.7C1271.4 831.7 1271.9 832.8 1272 832.9C1272.1 832.9 1272.6 832.6 1272.7 832.4C1272.9 832.2 1273.3 830.8 1273.5 830.9C1273.6 830.9 1274.1 832.5 1274.2 832.7C1274.4 832.8 1274.8 832.7 1275 832.7C1275.1 832.7 1275.6 832.5 1275.7 832.4C1275.8 832.4 1276.3 832.4 1276.4 832.3C1276.6 832.3 1277 832.3 1277.2 832.4C1277.3 832.4 1277.8 832.6 1277.9 832.6C1278.1 832.6 1278.5 833 1278.7 832.3C1278.8 831.6 1279.3 826.4 1279.4 825.7C1279.5 825.1 1280 825 1280.1 825.7C1280.3 826.4 1280.7 832 1280.9 832.6C1281 833.1 1281.5 831.2 1281.6 831.2C1281.8 831.1 1282.2 832.3 1282.4 832.3C1282.5 832.3 1283 831.2 1283.1 831.3C1283.2 831.3 1283.7 832.3 1283.8 832.5C1284 832.6 1284.4 832.8 1284.6 832.6C1284.7 832.4 1285.2 830.6 1285.3 830.3C1285.5 830.1 1285.9 830.3 1286.1 830.5C1286.2 830.7 1286.7 832.5 1286.8 832.4C1286.9 832.4 1287.4 830 1287.5 830C1287.7 830 1288.1 832.4 1288.3 832.7C1288.4 833 1288.9 832.6 1289 832.6C1289.2 832.6 1289.6 832.7 1289.8 832.7C1289.9 832.7 1290.4 832.4 1290.5 832.4C1290.6 832.4 1291.1 832.7 1291.2 832.7C1291.4 832.7 1291.8 832.7 1292 832.7C1292.1 832.7 1292.6 832.6 1292.7 832.6C1292.9 832.7 1293.3 832.7 1293.5 832.7C1293.6 832.7 1294.1 833.1 1294.2 832.7C1294.3 832.4 1294.8 828.8 1294.9 828.8C1295.1 828.8 1295.5 832.7 1295.7 832.8C1295.8 833 1296.3 830.1 1296.4 830C1296.6 829.9 1297 831.7 1297.2 831.9C1297.3 832.2 1297.8 832.5 1297.9 832.5C1298 832.6 1298.5 832.6 1298.6 832.6C1298.8 832.6 1299.2 832.7 1299.4 832.4C1299.5 832.1 1300 829.8 1300.1 829.8C1300.3 829.8 1300.7 832.4 1300.9 832.6C1301 832.8 1301.5 832.6 1301.6 832.3C1301.7 832 1302.2 829.9 1302.3 829.9C1302.5 829.9 1302.9 832.2 1303.1 832.5C1303.2 832.8 1303.7 833 1303.8 832.7C1304 832.4 1304.4 829.7 1304.6 829.7C1304.7 829.7 1305.2 832.1 1305.3 832.4C1305.4 832.7 1305.9 832.7 1306 832.7C1306.2 832.7 1306.6 832.7 1306.8 832.5C1306.9 832.3 1307.4 831.4 1307.5 830.8C1307.7 830.2 1308.1 826.2 1308.3 826.4C1308.4 826.6 1308.9 832.1 1309 832.6C1309.1 833.1 1309.6 831.1 1309.7 831.1C1309.9 831.1 1310.3 832.8 1310.5 832.7C1310.6 832.7 1311.1 830.5 1311.2 830.5C1311.4 830.5 1311.8 832.6 1312 832.6C1312.1 832.6 1312.6 830.7 1312.7 830.7C1312.8 830.7 1313.3 832.7 1313.4 832.8C1313.6 833 1314 832 1314.2 831.9C1314.3 831.7 1314.8 831.3 1314.9 831.4C1315.1 831.5 1315.5 832.6 1315.7 832.5C1315.8 832.4 1316.3 830.6 1316.4 830.5C1316.5 830.4 1317 831 1317.1 831.1C1317.3 831.3 1317.7 832.1 1317.9 832.3C1318 832.4 1318.5 832.7 1318.6 832.7C1318.8 832.7 1319.2 832.4 1319.4 832.3C1319.5 832.1 1320 831.2 1320.1 831.2C1320.2 831.3 1320.7 833 1320.8 832.6C1321 832.2 1321.4 827.1 1321.6 827.1C1321.7 827.1 1322.2 832 1322.3 832.5C1322.5 833 1322.9 832.3 1323.1 832.3C1323.2 832.3 1323.7 832.6 1323.8 832.6C1323.9 832.6 1324.4 832.8 1324.5 832.7C1324.7 832.6 1325.1 831.6 1325.3 831.4C1325.4 831.1 1325.9 830.6 1326 830.5C1326.2 830.4 1326.6 829.9 1326.8 830.1C1326.9 830.4 1327.4 832.7 1327.5 832.7C1327.6 832.7 1328.1 830.8 1328.2 830.3C1328.4 829.9 1328.8 828 1329 828.1C1329.1 828.2 1329.6 830.8 1329.7 831.1C1329.9 831.4 1330.3 831.2 1330.5 831.2C1330.6 831.2 1331.1 831.2 1331.2 831.1C1331.3 831 1331.8 830.9 1331.9 830.4C1332.1 829.9 1332.5 826.7 1332.7 826.3C1332.8 825.9 1333.3 825.7 1333.4 826.3C1333.6 826.9 1334 831.9 1334.2 832.5C1334.3 833.2 1334.8 832.6 1334.9 832.6C1335 832.6 1335.5 832.8 1335.6 832.7C1335.8 832.5 1336.2 830.9 1336.4 830.9C1336.5 830.8 1337 832.1 1337.1 832.3C1337.3 832.5 1337.7 832.6 1337.9 832.6C1338 832.6 1338.5 832.6 1338.6 832.4C1338.7 832.3 1339.2 831.3 1339.3 831C1339.5 830.6 1339.9 828.9 1340.1 829.1C1340.2 829.2 1340.7 832.2 1340.8 832.6C1341 833 1341.4 832.7 1341.6 832.7C1341.7 832.7 1342.2 832.6 1342.3 832.6C1342.4 832.5 1342.9 832.4 1343 832.3C1343.2 832.3 1343.6 832.3 1343.8 832.2C1343.9 832.2 1344.4 831.6 1344.5 831.5C1344.7 831.5 1345.1 831.3 1345.3 831.4C1345.4 831.5 1345.9 832.5 1346 832.6C1346.1 832.7 1346.6 832.8 1346.7 832.3C1346.9 831.9 1347.3 828.5 1347.5 828.1C1347.6 827.7 1348.1 827.9 1348.2 828.1C1348.4 828.3 1348.8 829.5 1349 829.9C1349.1 830.3 1349.6 832.2 1349.7 832.5C1349.8 832.8 1350.3 832.8 1350.4 832.8C1350.6 832.9 1351 832.7 1351.2 832.7C1351.3 832.7 1351.8 833.2 1351.9 832.8C1352.1 832.4 1352.5 829.2 1352.7 828.8C1352.8 828.4 1353.3 828.4 1353.4 828.8C1353.5 829.2 1354 832.3 1354.1 832.7C1354.3 833 1354.7 832.5 1354.9 832.6C1355 832.6 1355.5 832.7 1355.6 832.8C1355.8 832.8 1356.2 833 1356.4 832.8C1356.5 832.7 1357 831.4 1357.1 831.3C1357.2 831.1 1357.7 831.9 1357.8 831.6C1358 831.4 1358.4 829.1 1358.6 828.8C1358.7 828.5 1359.2 828.4 1359.3 828.8C1359.5 829.2 1359.9 832 1360.1 832.3C1360.2 832.7 1360.7 832.4 1360.8 832.3C1360.9 832.2 1361.4 831.2 1361.5 831.1C1361.7 831.1 1362.1 832.1 1362.3 832.2C1362.4 832.4 1362.9 832.8 1363 832.4C1363.2 832.1 1363.6 829.2 1363.8 828.8C1363.9 828.4 1364.4 828.4 1364.5 828.8C1364.6 829.2 1365.1 832.6 1365.2 832.7C1365.4 832.8 1365.8 829.8 1366 829.7C1366.1 829.7 1366.6 832 1366.7 832.3" fill="none" stroke="#66bbc9" stroke-width="1.8" stroke-linejoin="round" clip-path="url(#cn)"/>
<path d="M826 880V876Q826 873 829 873H1367Q1370 873 1370 876V880Z" fill="#e0e6f4"/>
<rect x="826.5" y="880.5" width="543" height="29" fill="#e8eefd" stroke="#d3dbef" stroke-width="1"/>
<polygon points="827,909 827,903.4 1240,903.4 1244,903.1 1248.5,903.3 1249.4,888.5 1250.3,903.3 1262,903.3 1264,902.4 1266,903 1275.1,903.3 1276,889.4 1276.9,903.3 1279.2,903.3 1280.1,889.8 1281,903.3 1281.4,903.3 1282.3,888.8 1283.2,903.3 1289.6,903.3 1290.5,889 1291.4,903.3 1292.7,903.3 1293.6,890 1294.5,903.3 1294.6,903.3 1295.5,887.2 1296.4,903.3 1300,903.3 1305,903.6 1306,902.7 1314,902.7 1315,903.3 1327.7,903.3 1328.6,885.2 1329.5,903.3 1331.7,903.3 1332.6,889.2 1333.5,903.3 1368,903.3 1369,909" fill="#8fb0f7" fill-opacity="0.25"/>
<polyline points="827,903.4 1240,903.4 1244,903.1 1248.5,903.3 1249.4,888.5 1250.3,903.3 1262,903.3 1264,902.4 1266,903 1275.1,903.3 1276,889.4 1276.9,903.3 1279.2,903.3 1280.1,889.8 1281,903.3 1281.4,903.3 1282.3,888.8 1283.2,903.3 1289.6,903.3 1290.5,889 1291.4,903.3 1292.7,903.3 1293.6,890 1294.5,903.3 1294.6,903.3 1295.5,887.2 1296.4,903.3 1300,903.3 1305,903.6 1306,902.7 1314,902.7 1315,903.3 1327.7,903.3 1328.6,885.2 1329.5,903.3 1331.7,903.3 1332.6,889.2 1333.5,903.3 1368,903.3" fill="none" stroke="#9ab7f8" stroke-width="0.7"/>
<rect x="1095.3" y="875.2" width="1" height="2.8" fill="#fff"/>
<rect x="1097.5" y="875.2" width="1" height="2.8" fill="#fff"/>
<rect x="1099.7" y="875.2" width="1" height="2.8" fill="#fff"/>
<path d="M10.7,11.9v-1.3H9.3v1.3c-4.9,0.3-8.8,4.4-8.8,9.4c0,5,3.9,9.1,8.8,9.4v1.3h1.3v-1.3c4.9-0.3,8.8-4.4,8.8-9.4C19.5,16.3,15.6,12.2,10.7,11.9z M13.3,24.4H6.7V23h6.6V24.4z M13.3,19.6H6.7v-1.4h6.6V19.6z" transform="translate(815.3 870.1) scale(1.17)" fill="#fff" fill-rule="evenodd" stroke="#a3b1cf" stroke-width="0.8" filter="url(#hs)"/>
<path d="M10.7,11.9v-1.3H9.3v1.3c-4.9,0.3-8.8,4.4-8.8,9.4c0,5,3.9,9.1,8.8,9.4v1.3h1.3v-1.3c4.9-0.3,8.8-4.4,8.8-9.4C19.5,16.3,15.6,12.2,10.7,11.9z M13.3,24.4H6.7V23h6.6V24.4z M13.3,19.6H6.7v-1.4h6.6V19.6z" transform="translate(1357.6 870.1) scale(1.17)" fill="#fff" fill-rule="evenodd" stroke="#a3b1cf" stroke-width="0.8" filter="url(#hs)"/>
</svg>
<div id="tip"><div class="hd"></div><svg width="16" height="16" style="left:17px;top:12px" viewBox="-8 -8 16 16"><circle r="6" fill="none" stroke="#555" stroke-width="1.3"/><circle r="1.3" fill="#555"/></svg><div class="abs" id="tipdate" style="left:40px;top:10px;line-height:20px;font-size:14px;color:#555;">日期：<span style="letter-spacing:0.53px">2025-11-03 11:40:34</span></div><div style="position:absolute;left:21px;top:65px;width:12px;height:12px;border-radius:6px;background:#0097f0;"></div><div class="abs" id="tipcpu" style="left:38px;top:61px;line-height:20px;font-size:14px;color:#555;">CPU：5.00%</div><div style="position:absolute;left:20px;top:86px;width:321px;height:1px;background:#ececec;"></div><table><tr><th style="width:45px">PID</th><th style="width:76px">进程名</th><th style="width:59px">CPU占用</th><th style="padding-left:5.5px">启动用户</th></tr><tr><td>42116</td><td>gopls.exe</td><td>0.94%</td><td style="padding-left:5.5px;letter-spacing:-0.1px">DESKTOP-ASHPCKL\cjx</td></tr><tr><td>46684</td><td>chrome.exe</td><td>0.41%</td><td style="padding-left:5.5px;letter-spacing:-0.1px">DESKTOP-ASHPCKL\cjx</td></tr><tr><td>2364</td><td>chrome.exe</td><td>0.31%</td><td style="padding-left:5.5px;letter-spacing:-0.1px">DESKTOP-ASHPCKL\cjx</td></tr><tr><td>9128</td><td>QQ.exe</td><td>0.22%</td><td style="padding-left:5.5px;letter-spacing:-0.1px">DESKTOP-ASHPCKL\cjx</td></tr><tr><td>44316</td><td>btPanel.exe</td><td>0.2%</td><td style="padding-left:5.5px;letter-spacing:-0.1px">DESKTOP-ASHPCKL\cjx</td></tr></table></div>
<div style="position:absolute;left:1436px;top:940px;width:28px;height:6px;background:#fff;border-radius:4px 4px 0 0;"></div>
</div>
</body>
</html>
